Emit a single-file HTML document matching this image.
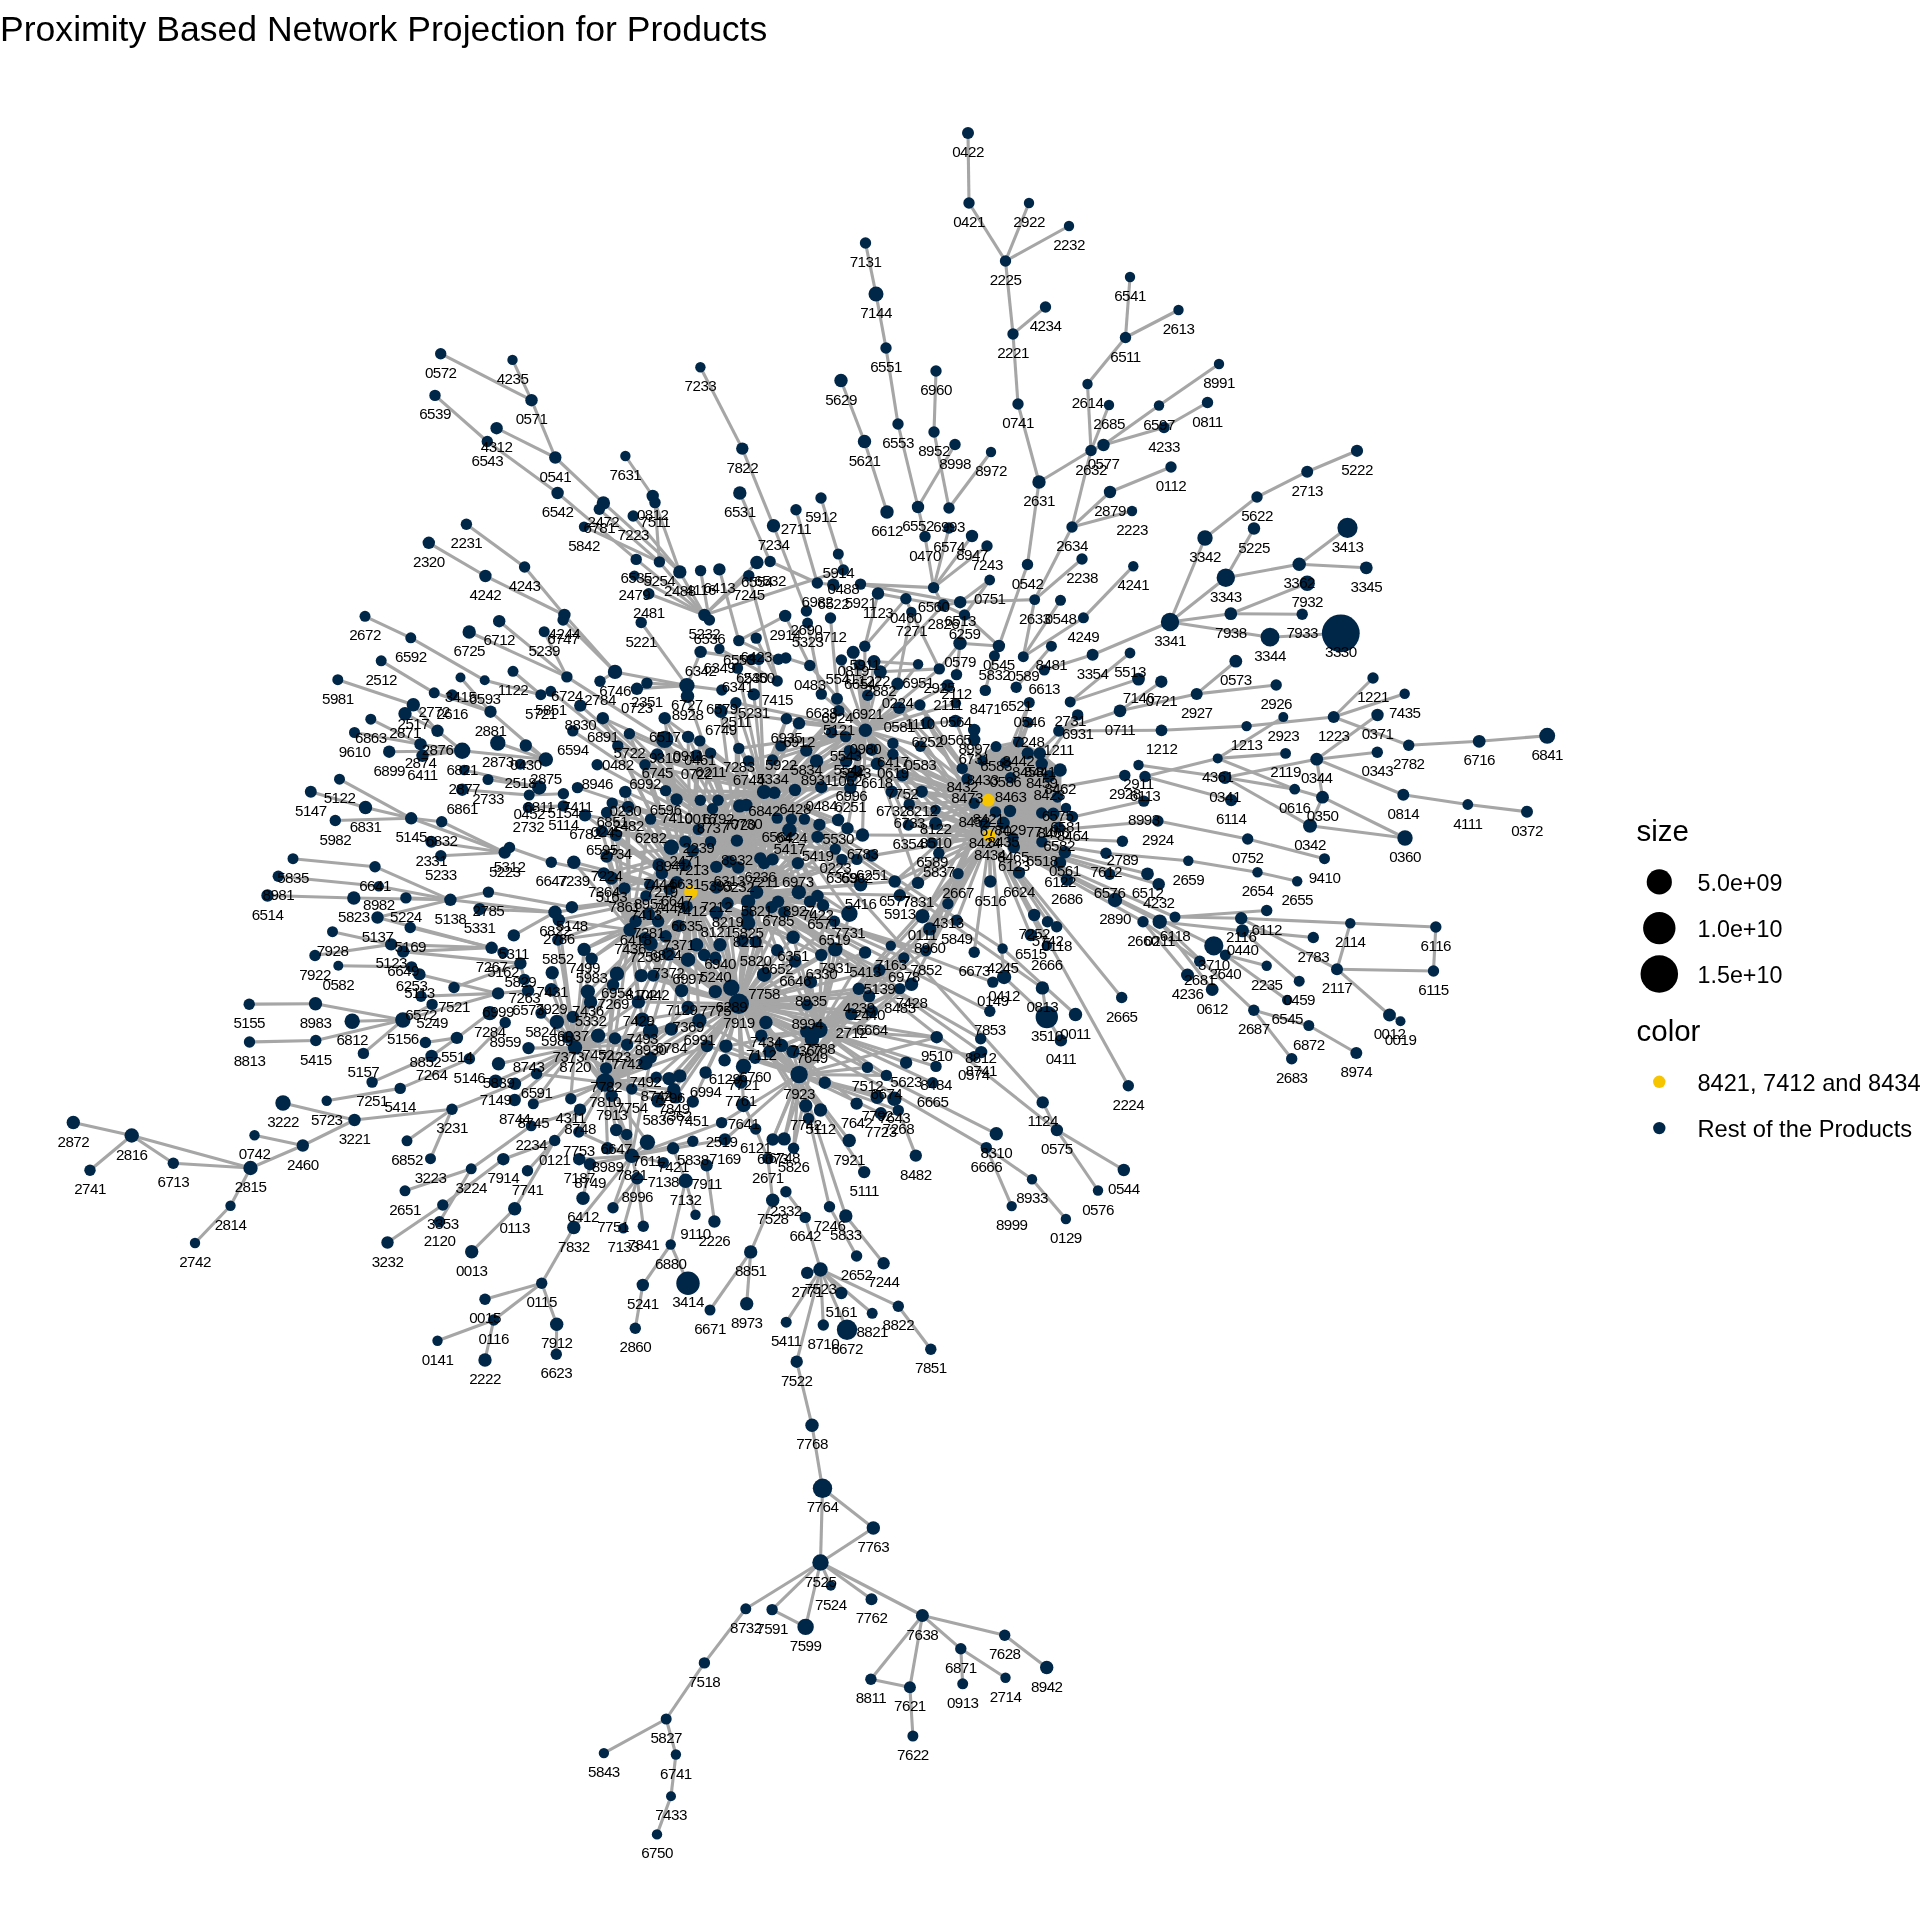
<!DOCTYPE html>
<html><head><meta charset="utf-8"><style>
html,body{margin:0;padding:0;background:#fff;}
body{width:1920px;height:1920px;overflow:hidden;position:relative;font-family:"Liberation Sans",sans-serif;}
svg{position:absolute;left:0;top:0;will-change:transform;}
</style></head><body>
<svg width="1920" height="1920" viewBox="0 0 1920 1920" xmlns="http://www.w3.org/2000/svg" font-family="Liberation Sans, sans-serif">
<rect width="1920" height="1920" fill="#fff"/>
<text x="0" y="40.6" font-size="35.6" fill="#000">Proximity Based Network Projection for Products</text>
<g stroke="#a6a6a6" stroke-width="3.1" stroke-linecap="butt">
<line x1="968.0" y1="133.0" x2="969.0" y2="203.0"/>
<line x1="969.0" y1="203.0" x2="1005.5" y2="261.0"/>
<line x1="1029.0" y1="203.0" x2="1005.5" y2="261.0"/>
<line x1="1069.0" y1="226.0" x2="1005.5" y2="261.0"/>
<line x1="1005.5" y1="261.0" x2="1013.0" y2="334.0"/>
<line x1="1013.0" y1="334.0" x2="1045.5" y2="307.0"/>
<line x1="1013.0" y1="334.0" x2="1018.0" y2="404.0"/>
<line x1="1018.0" y1="404.0" x2="1039.0" y2="482.0"/>
<line x1="865.5" y1="243.0" x2="876.0" y2="294.0"/>
<line x1="876.0" y1="294.0" x2="886.0" y2="348.0"/>
<line x1="886.0" y1="348.0" x2="898.0" y2="424.0"/>
<line x1="898.0" y1="424.0" x2="918.0" y2="507.0"/>
<line x1="936.0" y1="371.0" x2="934.0" y2="432.0"/>
<line x1="934.0" y1="432.0" x2="949.0" y2="508.0"/>
<line x1="955.0" y1="444.5" x2="918.0" y2="507.0"/>
<line x1="991.0" y1="452.0" x2="949.0" y2="508.0"/>
<line x1="841.0" y1="380.5" x2="864.5" y2="441.5"/>
<line x1="864.5" y1="441.5" x2="887.0" y2="512.0"/>
<line x1="1130.0" y1="277.0" x2="1125.5" y2="337.5"/>
<line x1="1178.5" y1="310.0" x2="1125.5" y2="337.5"/>
<line x1="1125.5" y1="337.5" x2="1087.5" y2="384.0"/>
<line x1="1087.5" y1="384.0" x2="1091.0" y2="450.5"/>
<line x1="1109.0" y1="405.0" x2="1091.0" y2="450.5"/>
<line x1="1219.0" y1="364.0" x2="1159.0" y2="405.5"/>
<line x1="1159.0" y1="405.5" x2="1103.5" y2="445.0"/>
<line x1="1207.5" y1="402.5" x2="1164.0" y2="427.5"/>
<line x1="1164.0" y1="427.5" x2="1103.5" y2="445.0"/>
<line x1="1103.5" y1="445.0" x2="1091.0" y2="450.5"/>
<line x1="1091.0" y1="450.5" x2="1039.0" y2="482.0"/>
<line x1="1091.0" y1="450.5" x2="1072.0" y2="527.0"/>
<line x1="1171.0" y1="467.0" x2="1110.0" y2="492.0"/>
<line x1="1110.0" y1="492.0" x2="1072.0" y2="527.0"/>
<line x1="1132.0" y1="511.0" x2="1072.0" y2="527.0"/>
<line x1="1039.0" y1="482.0" x2="1027.5" y2="564.5"/>
<line x1="1257.0" y1="497.0" x2="1205.0" y2="538.0"/>
<line x1="821.0" y1="498.0" x2="838.3" y2="554.0"/>
<line x1="918.0" y1="507.0" x2="925.0" y2="536.5"/>
<line x1="440.7" y1="353.7" x2="531.5" y2="400.2"/>
<line x1="512.5" y1="359.9" x2="531.5" y2="400.2"/>
<line x1="531.5" y1="400.2" x2="555.3" y2="457.5"/>
<line x1="435.0" y1="395.4" x2="487.3" y2="441.5"/>
<line x1="487.3" y1="441.5" x2="557.6" y2="493.0"/>
<line x1="496.6" y1="428.2" x2="555.3" y2="457.5"/>
<line x1="555.3" y1="457.5" x2="603.4" y2="502.9"/>
<line x1="625.4" y1="456.0" x2="652.7" y2="496.0"/>
<line x1="652.7" y1="496.0" x2="655.0" y2="502.6"/>
<line x1="700.4" y1="367.2" x2="742.3" y2="448.6"/>
<line x1="742.3" y1="448.6" x2="773.5" y2="525.8"/>
<line x1="466.4" y1="524.2" x2="524.6" y2="567.0"/>
<line x1="428.8" y1="542.8" x2="485.4" y2="576.0"/>
<line x1="1357.0" y1="450.8" x2="1307.2" y2="471.7"/>
<line x1="1307.2" y1="471.7" x2="1257.0" y2="497.0"/>
<line x1="1205.0" y1="538.0" x2="1170.0" y2="622.0"/>
<line x1="1254.0" y1="528.5" x2="1225.8" y2="577.8"/>
<line x1="1225.8" y1="577.8" x2="1170.0" y2="622.0"/>
<line x1="1225.8" y1="577.8" x2="1299.2" y2="564.2"/>
<line x1="1299.2" y1="564.2" x2="1347.5" y2="527.8"/>
<line x1="1299.2" y1="564.2" x2="1366.3" y2="567.8"/>
<line x1="1170.0" y1="622.0" x2="1230.8" y2="613.7"/>
<line x1="1230.8" y1="613.7" x2="1307.2" y2="583.3"/>
<line x1="1230.8" y1="613.7" x2="1302.2" y2="614.2"/>
<line x1="1170.0" y1="622.0" x2="1270.0" y2="637.2"/>
<line x1="1270.0" y1="637.2" x2="1340.8" y2="633.3"/>
<line x1="1235.8" y1="661.2" x2="1196.7" y2="693.9"/>
<line x1="1196.7" y1="693.9" x2="1276.2" y2="685.0"/>
<line x1="1373.0" y1="678.0" x2="1333.7" y2="717.0"/>
<line x1="1404.7" y1="693.7" x2="1333.7" y2="717.0"/>
<line x1="1161.5" y1="730.3" x2="1246.6" y2="726.1"/>
<line x1="1246.6" y1="726.1" x2="1333.7" y2="717.0"/>
<line x1="1333.7" y1="717.0" x2="1408.7" y2="745.3"/>
<line x1="1408.7" y1="745.3" x2="1479.2" y2="741.3"/>
<line x1="1479.2" y1="741.3" x2="1547.2" y2="735.8"/>
<line x1="1377.5" y1="715.0" x2="1316.7" y2="759.2"/>
<line x1="1316.7" y1="759.2" x2="1377.3" y2="752.2"/>
<line x1="1316.7" y1="759.2" x2="1322.5" y2="797.2"/>
<line x1="1316.7" y1="759.2" x2="1403.3" y2="794.7"/>
<line x1="1403.3" y1="794.7" x2="1467.8" y2="804.5"/>
<line x1="1467.8" y1="804.5" x2="1527.0" y2="811.7"/>
<line x1="1294.7" y1="789.2" x2="1322.5" y2="797.2"/>
<line x1="1322.5" y1="797.2" x2="1310.0" y2="825.8"/>
<line x1="1322.5" y1="797.2" x2="1405.0" y2="838.0"/>
<line x1="1310.0" y1="825.8" x2="1405.0" y2="838.0"/>
<line x1="1350.3" y1="923.3" x2="1435.8" y2="927.0"/>
<line x1="1435.8" y1="927.0" x2="1433.5" y2="971.0"/>
<line x1="1337.0" y1="969.2" x2="1433.5" y2="971.0"/>
<line x1="1350.3" y1="923.3" x2="1337.0" y2="969.2"/>
<line x1="1120.0" y1="710.8" x2="1161.3" y2="681.7"/>
<line x1="1120.0" y1="710.8" x2="1196.7" y2="693.9"/>
<line x1="1283.3" y1="717.1" x2="1217.7" y2="758.4"/>
<line x1="1217.7" y1="758.4" x2="1285.6" y2="753.4"/>
<line x1="1217.7" y1="758.4" x2="1294.7" y2="789.2"/>
<line x1="1217.7" y1="758.4" x2="1145.0" y2="776.5"/>
<line x1="1225.0" y1="777.5" x2="1316.7" y2="759.2"/>
<line x1="1225.0" y1="777.5" x2="1294.7" y2="789.2"/>
<line x1="1225.0" y1="777.5" x2="1310.0" y2="825.8"/>
<line x1="1138.5" y1="765.0" x2="1225.0" y2="777.5"/>
<line x1="1145.0" y1="776.5" x2="1231.2" y2="800.1"/>
<line x1="1157.9" y1="821.0" x2="1247.7" y2="839.0"/>
<line x1="1188.3" y1="860.8" x2="1257.5" y2="872.2"/>
<line x1="1257.5" y1="872.2" x2="1297.2" y2="881.2"/>
<line x1="1175.0" y1="917.0" x2="1266.7" y2="910.5"/>
<line x1="1241.2" y1="918.3" x2="1350.3" y2="923.3"/>
<line x1="1175.0" y1="917.0" x2="1241.2" y2="918.3"/>
<line x1="1159.7" y1="921.7" x2="1242.5" y2="930.8"/>
<line x1="1242.5" y1="930.8" x2="1313.3" y2="937.5"/>
<line x1="1241.2" y1="918.3" x2="1337.0" y2="969.2"/>
<line x1="1242.5" y1="930.8" x2="1299.2" y2="981.2"/>
<line x1="1225.3" y1="955.0" x2="1266.7" y2="965.8"/>
<line x1="1225.3" y1="955.0" x2="1287.2" y2="1000.0"/>
<line x1="1143.0" y1="921.7" x2="1187.5" y2="975.0"/>
<line x1="1159.7" y1="921.7" x2="1253.8" y2="1010.3"/>
<line x1="1253.8" y1="1010.3" x2="1308.8" y2="1025.5"/>
<line x1="1308.8" y1="1025.5" x2="1356.3" y2="1053.0"/>
<line x1="1253.8" y1="1010.3" x2="1291.7" y2="1058.7"/>
<line x1="1337.0" y1="969.2" x2="1389.5" y2="1015.0"/>
<line x1="1247.7" y1="839.0" x2="1324.5" y2="858.7"/>
<line x1="1027.5" y1="564.5" x2="998.9" y2="646.0"/>
<line x1="1082.0" y1="559.0" x2="1034.7" y2="599.6"/>
<line x1="1072.0" y1="527.0" x2="1034.7" y2="599.6"/>
<line x1="1034.7" y1="599.6" x2="1023.3" y2="656.7"/>
<line x1="1060.5" y1="600.3" x2="1023.3" y2="656.7"/>
<line x1="1083.4" y1="617.8" x2="1023.3" y2="656.7"/>
<line x1="1133.3" y1="566.2" x2="1083.4" y2="617.8"/>
<line x1="1092.6" y1="654.8" x2="1170.0" y2="622.0"/>
<line x1="1092.6" y1="654.8" x2="1044.2" y2="670.1"/>
<line x1="1130.0" y1="653.0" x2="1070.2" y2="701.9"/>
<line x1="1138.5" y1="679.1" x2="1070.2" y2="701.9"/>
<line x1="1161.5" y1="730.3" x2="1058.8" y2="731.0"/>
<line x1="1120.0" y1="710.8" x2="1058.8" y2="731.0"/>
<line x1="1051.4" y1="646.2" x2="1016.2" y2="687.3"/>
<line x1="838.3" y1="554.0" x2="843.3" y2="570.0"/>
<line x1="933.6" y1="587.6" x2="925.0" y2="536.5"/>
<line x1="933.6" y1="587.6" x2="949.0" y2="528.0"/>
<line x1="933.6" y1="587.6" x2="972.0" y2="536.0"/>
<line x1="933.6" y1="587.6" x2="987.0" y2="546.0"/>
<line x1="860.5" y1="584.1" x2="933.6" y2="587.6"/>
<line x1="878.0" y1="593.5" x2="905.9" y2="598.7"/>
<line x1="905.9" y1="598.7" x2="943.3" y2="605.3"/>
<line x1="943.3" y1="605.3" x2="960.2" y2="602.2"/>
<line x1="960.2" y1="602.2" x2="989.7" y2="580.0"/>
<line x1="770.1" y1="561.5" x2="817.3" y2="583.0"/>
<line x1="817.3" y1="583.0" x2="833.3" y2="584.7"/>
<line x1="365.0" y1="616.3" x2="410.8" y2="637.8"/>
<line x1="410.8" y1="637.8" x2="484.7" y2="680.3"/>
<line x1="381.2" y1="660.8" x2="434.2" y2="692.8"/>
<line x1="434.2" y1="692.8" x2="490.5" y2="711.7"/>
<line x1="337.8" y1="679.7" x2="413.3" y2="704.7"/>
<line x1="413.3" y1="704.7" x2="437.5" y2="730.8"/>
<line x1="437.5" y1="730.8" x2="462.2" y2="750.8"/>
<line x1="370.8" y1="719.2" x2="420.5" y2="744.2"/>
<line x1="420.5" y1="744.2" x2="462.2" y2="750.8"/>
<line x1="354.5" y1="732.5" x2="420.5" y2="744.2"/>
<line x1="389.2" y1="751.7" x2="462.2" y2="750.8"/>
<line x1="422.5" y1="755.8" x2="462.2" y2="750.8"/>
<line x1="339.5" y1="779.2" x2="411.2" y2="818.3"/>
<line x1="310.8" y1="791.7" x2="365.5" y2="807.5"/>
<line x1="365.5" y1="807.5" x2="411.2" y2="818.3"/>
<line x1="335.3" y1="820.5" x2="411.2" y2="818.3"/>
<line x1="411.2" y1="818.3" x2="441.7" y2="821.7"/>
<line x1="441.7" y1="821.7" x2="504.7" y2="852.5"/>
<line x1="411.2" y1="818.3" x2="504.7" y2="852.5"/>
<line x1="431.3" y1="841.7" x2="504.7" y2="852.5"/>
<line x1="293.0" y1="858.7" x2="375.0" y2="866.7"/>
<line x1="464.2" y1="770.0" x2="539.2" y2="787.5"/>
<line x1="460.5" y1="677.5" x2="490.5" y2="711.7"/>
<line x1="469.2" y1="632.0" x2="566.9" y2="676.9"/>
<line x1="513.0" y1="671.3" x2="540.8" y2="694.7"/>
<line x1="525.8" y1="745.5" x2="545.8" y2="759.5"/>
<line x1="490.5" y1="711.7" x2="545.8" y2="759.5"/>
<line x1="497.8" y1="743.0" x2="545.8" y2="759.5"/>
<line x1="462.2" y1="750.8" x2="545.8" y2="759.5"/>
<line x1="520.3" y1="764.2" x2="545.8" y2="759.5"/>
<line x1="267.5" y1="895.5" x2="353.8" y2="898.0"/>
<line x1="249.2" y1="1004.2" x2="315.5" y2="1003.8"/>
<line x1="249.5" y1="1042.0" x2="315.8" y2="1040.5"/>
<line x1="283.0" y1="1103.0" x2="354.5" y2="1120.0"/>
<line x1="73.3" y1="1122.5" x2="131.7" y2="1135.5"/>
<line x1="254.5" y1="1135.3" x2="302.8" y2="1145.5"/>
<line x1="302.8" y1="1145.5" x2="354.5" y2="1120.0"/>
<line x1="375.0" y1="866.7" x2="450.4" y2="899.8"/>
<line x1="378.8" y1="886.2" x2="450.4" y2="899.8"/>
<line x1="353.8" y1="898.0" x2="450.4" y2="899.8"/>
<line x1="405.9" y1="897.9" x2="450.4" y2="899.8"/>
<line x1="377.5" y1="917.5" x2="450.4" y2="899.8"/>
<line x1="450.4" y1="899.8" x2="488.4" y2="892.1"/>
<line x1="488.4" y1="892.1" x2="571.9" y2="907.2"/>
<line x1="450.4" y1="899.8" x2="555.0" y2="912.2"/>
<line x1="479.6" y1="909.1" x2="555.0" y2="912.2"/>
<line x1="410.2" y1="927.5" x2="491.6" y2="947.8"/>
<line x1="377.5" y1="917.5" x2="491.6" y2="947.8"/>
<line x1="391.2" y1="944.4" x2="491.6" y2="947.8"/>
<line x1="403.1" y1="951.6" x2="491.6" y2="947.8"/>
<line x1="338.3" y1="965.8" x2="411.6" y2="966.9"/>
<line x1="403.1" y1="951.6" x2="520.4" y2="963.4"/>
<line x1="419.4" y1="974.4" x2="498.1" y2="993.4"/>
<line x1="454.0" y1="987.5" x2="520.4" y2="963.4"/>
<line x1="352.2" y1="1021.3" x2="402.9" y2="1020.0"/>
<line x1="315.5" y1="1003.8" x2="402.9" y2="1020.0"/>
<line x1="315.8" y1="1040.5" x2="402.9" y2="1020.0"/>
<line x1="363.4" y1="1053.4" x2="402.9" y2="1020.0"/>
<line x1="402.9" y1="1020.0" x2="498.1" y2="993.4"/>
<line x1="402.9" y1="1020.0" x2="432.1" y2="1004.4"/>
<line x1="425.4" y1="1042.5" x2="456.9" y2="1037.9"/>
<line x1="456.9" y1="1037.9" x2="489.8" y2="1013.1"/>
<line x1="431.6" y1="1056.0" x2="456.9" y2="1037.9"/>
<line x1="469.4" y1="1058.8" x2="505.2" y2="1022.5"/>
<line x1="498.5" y1="1063.8" x2="575.0" y2="1047.5"/>
<line x1="515.0" y1="1083.8" x2="575.0" y2="1047.5"/>
<line x1="536.6" y1="1073.8" x2="575.0" y2="1047.5"/>
<line x1="528.5" y1="1048.1" x2="575.0" y2="1047.5"/>
<line x1="513.8" y1="935.4" x2="555.0" y2="912.2"/>
<line x1="131.7" y1="1135.5" x2="90.0" y2="1170.3"/>
<line x1="131.7" y1="1135.5" x2="173.3" y2="1163.3"/>
<line x1="131.7" y1="1135.5" x2="250.5" y2="1168.0"/>
<line x1="173.3" y1="1163.3" x2="250.5" y2="1168.0"/>
<line x1="250.5" y1="1168.0" x2="302.8" y2="1145.5"/>
<line x1="250.5" y1="1168.0" x2="230.5" y2="1205.8"/>
<line x1="230.5" y1="1205.8" x2="195.0" y2="1243.0"/>
<line x1="354.5" y1="1120.0" x2="452.0" y2="1109.2"/>
<line x1="452.0" y1="1109.2" x2="515.0" y2="1083.8"/>
<line x1="452.0" y1="1109.2" x2="407.0" y2="1140.8"/>
<line x1="452.0" y1="1109.2" x2="430.5" y2="1158.7"/>
<line x1="405.0" y1="1190.8" x2="471.2" y2="1168.8"/>
<line x1="471.2" y1="1168.8" x2="531.2" y2="1125.8"/>
<line x1="471.2" y1="1168.8" x2="439.5" y2="1221.7"/>
<line x1="387.5" y1="1242.5" x2="442.8" y2="1205.0"/>
<line x1="442.8" y1="1205.0" x2="503.3" y2="1159.2"/>
<line x1="503.3" y1="1159.2" x2="554.7" y2="1140.5"/>
<line x1="471.7" y1="1251.7" x2="514.7" y2="1208.7"/>
<line x1="514.7" y1="1208.7" x2="554.7" y2="1140.5"/>
<line x1="541.7" y1="1283.3" x2="573.8" y2="1227.5"/>
<line x1="541.7" y1="1283.3" x2="485.0" y2="1299.2"/>
<line x1="541.7" y1="1283.3" x2="493.7" y2="1320.0"/>
<line x1="493.7" y1="1320.0" x2="437.5" y2="1340.8"/>
<line x1="493.7" y1="1320.0" x2="485.0" y2="1360.0"/>
<line x1="541.7" y1="1283.3" x2="556.7" y2="1324.2"/>
<line x1="556.7" y1="1324.2" x2="556.3" y2="1354.2"/>
<line x1="642.8" y1="1285.0" x2="635.3" y2="1328.3"/>
<line x1="573.8" y1="1227.5" x2="631.7" y2="1155.8"/>
<line x1="583.0" y1="1198.3" x2="590.0" y2="1164.2"/>
<line x1="613.0" y1="1207.8" x2="631.7" y2="1155.8"/>
<line x1="643.3" y1="1226.3" x2="637.2" y2="1178.3"/>
<line x1="623.3" y1="1228.3" x2="637.2" y2="1178.3"/>
<line x1="637.2" y1="1178.3" x2="631.7" y2="1155.8"/>
<line x1="554.7" y1="1140.5" x2="580.0" y2="1109.7"/>
<line x1="527.5" y1="1170.8" x2="554.7" y2="1140.5"/>
<line x1="514.7" y1="1100.0" x2="575.0" y2="1047.5"/>
<line x1="533.3" y1="1103.8" x2="575.0" y2="1047.5"/>
<line x1="570.8" y1="1098.7" x2="575.0" y2="1047.5"/>
<line x1="531.2" y1="1125.8" x2="580.0" y2="1109.7"/>
<line x1="578.8" y1="1132.0" x2="631.7" y2="1155.8"/>
<line x1="579.2" y1="1159.2" x2="631.7" y2="1155.8"/>
<line x1="590.0" y1="1164.2" x2="631.7" y2="1155.8"/>
<line x1="898.3" y1="1306.2" x2="930.8" y2="1349.2"/>
<line x1="796.7" y1="1361.7" x2="812.0" y2="1425.3"/>
<line x1="812.0" y1="1425.3" x2="822.5" y2="1488.3"/>
<line x1="822.5" y1="1488.3" x2="873.3" y2="1528.0"/>
<line x1="822.5" y1="1488.3" x2="820.5" y2="1562.5"/>
<line x1="873.3" y1="1528.0" x2="820.5" y2="1562.5"/>
<line x1="820.5" y1="1562.5" x2="745.8" y2="1608.8"/>
<line x1="820.5" y1="1562.5" x2="772.1" y2="1609.6"/>
<line x1="820.5" y1="1562.5" x2="805.6" y2="1626.9"/>
<line x1="772.1" y1="1609.6" x2="805.6" y2="1626.9"/>
<line x1="820.5" y1="1562.5" x2="830.8" y2="1585.7"/>
<line x1="820.5" y1="1562.5" x2="871.5" y2="1599.3"/>
<line x1="820.5" y1="1562.5" x2="922.4" y2="1615.5"/>
<line x1="922.4" y1="1615.5" x2="1004.7" y2="1635.3"/>
<line x1="1004.7" y1="1635.3" x2="1046.7" y2="1667.5"/>
<line x1="922.4" y1="1615.5" x2="960.8" y2="1648.8"/>
<line x1="960.8" y1="1648.8" x2="1005.5" y2="1677.8"/>
<line x1="960.8" y1="1648.8" x2="962.7" y2="1683.8"/>
<line x1="922.4" y1="1615.5" x2="870.9" y2="1679.2"/>
<line x1="922.4" y1="1615.5" x2="909.9" y2="1687.3"/>
<line x1="870.9" y1="1679.2" x2="909.9" y2="1687.3"/>
<line x1="909.9" y1="1687.3" x2="912.9" y2="1736.0"/>
<line x1="745.8" y1="1608.8" x2="704.4" y2="1662.9"/>
<line x1="704.4" y1="1662.9" x2="666.2" y2="1719.0"/>
<line x1="666.2" y1="1719.0" x2="603.9" y2="1753.1"/>
<line x1="666.2" y1="1719.0" x2="675.9" y2="1754.5"/>
<line x1="675.9" y1="1754.5" x2="671.0" y2="1796.2"/>
<line x1="671.0" y1="1796.2" x2="657.0" y2="1834.4"/>
<line x1="670.7" y1="1244.5" x2="688.0" y2="1283.3"/>
<line x1="670.7" y1="1244.5" x2="642.8" y2="1285.0"/>
<line x1="670.7" y1="1244.5" x2="685.6" y2="1180.8"/>
<line x1="685.6" y1="1180.8" x2="695.5" y2="1214.7"/>
<line x1="685.6" y1="1180.8" x2="673.1" y2="1148.3"/>
<line x1="714.4" y1="1221.5" x2="706.6" y2="1165.3"/>
<line x1="613.0" y1="1207.8" x2="637.2" y2="1178.3"/>
<line x1="750.7" y1="1251.9" x2="772.7" y2="1200.2"/>
<line x1="750.7" y1="1251.9" x2="746.7" y2="1303.8"/>
<line x1="750.7" y1="1251.9" x2="710.0" y2="1310.0"/>
<line x1="772.7" y1="1200.2" x2="767.9" y2="1158.5"/>
<line x1="767.9" y1="1158.5" x2="755.7" y2="1129.0"/>
<line x1="755.7" y1="1129.0" x2="743.5" y2="1105.0"/>
<line x1="820.5" y1="1269.5" x2="805.2" y2="1217.4"/>
<line x1="805.2" y1="1217.4" x2="785.9" y2="1191.7"/>
<line x1="820.5" y1="1269.5" x2="796.7" y2="1361.7"/>
<line x1="820.5" y1="1269.5" x2="786.2" y2="1322.2"/>
<line x1="820.5" y1="1269.5" x2="823.3" y2="1325.0"/>
<line x1="820.5" y1="1269.5" x2="847.0" y2="1329.7"/>
<line x1="820.5" y1="1269.5" x2="872.2" y2="1313.3"/>
<line x1="820.5" y1="1269.5" x2="898.3" y2="1306.2"/>
<line x1="820.5" y1="1269.5" x2="807.2" y2="1272.9"/>
<line x1="820.5" y1="1269.5" x2="841.3" y2="1293.0"/>
<line x1="1002.6" y1="948.5" x2="1075.5" y2="1014.5"/>
<line x1="1042.7" y1="1102.4" x2="1056.9" y2="1130.1"/>
<line x1="1042.4" y1="987.9" x2="1046.8" y2="1017.1"/>
<line x1="1056.9" y1="1130.1" x2="1123.8" y2="1170.0"/>
<line x1="1056.9" y1="1130.1" x2="1098.0" y2="1190.5"/>
<line x1="986.3" y1="1147.6" x2="1032.0" y2="1179.2"/>
<line x1="1032.0" y1="1179.2" x2="1065.9" y2="1219.0"/>
<line x1="986.3" y1="1147.6" x2="1011.7" y2="1206.1"/>
<line x1="898.3" y1="1110.4" x2="915.8" y2="1155.6"/>
<line x1="960.2" y1="602.2" x2="1034.7" y2="599.6"/>
<line x1="278.3" y1="876.3" x2="378.8" y2="886.2"/>
<line x1="739.8" y1="493.0" x2="770.1" y2="561.5"/>
<line x1="796.0" y1="509.8" x2="817.3" y2="583.0"/>
<line x1="599.3" y1="509.3" x2="659.4" y2="561.9"/>
<line x1="603.4" y1="502.9" x2="679.8" y2="571.9"/>
<line x1="557.6" y1="493.0" x2="636.2" y2="559.4"/>
<line x1="633.2" y1="516.0" x2="679.8" y2="571.9"/>
<line x1="655.0" y1="502.6" x2="659.4" y2="561.9"/>
<line x1="652.7" y1="496.0" x2="679.8" y2="571.9"/>
<line x1="584.0" y1="526.7" x2="659.4" y2="561.9"/>
<line x1="773.5" y1="525.8" x2="806.4" y2="611.0"/>
<line x1="636.2" y1="559.4" x2="704.4" y2="615.0"/>
<line x1="659.4" y1="561.9" x2="704.4" y2="615.0"/>
<line x1="679.8" y1="571.9" x2="704.4" y2="615.0"/>
<line x1="634.4" y1="575.6" x2="704.4" y2="615.0"/>
<line x1="700.6" y1="570.6" x2="709.4" y2="620.0"/>
<line x1="719.4" y1="569.4" x2="738.8" y2="640.6"/>
<line x1="756.9" y1="562.5" x2="704.4" y2="615.0"/>
<line x1="748.8" y1="575.6" x2="704.4" y2="615.0"/>
<line x1="648.8" y1="593.8" x2="704.4" y2="615.0"/>
<line x1="641.2" y1="622.5" x2="686.9" y2="685.6"/>
<line x1="615.0" y1="671.9" x2="686.9" y2="685.6"/>
<line x1="564.4" y1="615.0" x2="615.0" y2="671.9"/>
<line x1="563.1" y1="620.0" x2="615.0" y2="671.9"/>
<line x1="646.9" y1="683.1" x2="686.9" y2="685.6"/>
<line x1="636.9" y1="688.8" x2="686.9" y2="685.6"/>
<line x1="600.0" y1="681.2" x2="615.0" y2="671.9"/>
<line x1="499.2" y1="621.2" x2="566.9" y2="676.9"/>
<line x1="544.2" y1="631.7" x2="566.9" y2="676.9"/>
<line x1="452.2" y1="695.0" x2="490.5" y2="711.7"/>
<line x1="405.0" y1="713.7" x2="437.5" y2="730.8"/>
<line x1="488.0" y1="779.5" x2="539.2" y2="787.5"/>
<line x1="462.2" y1="789.7" x2="529.2" y2="795.0"/>
<line x1="529.2" y1="795.0" x2="563.4" y2="793.8"/>
<line x1="528.3" y1="807.5" x2="563.4" y2="805.9"/>
<line x1="440.8" y1="855.8" x2="504.7" y2="852.5"/>
<line x1="509.5" y1="847.5" x2="551.3" y2="862.2"/>
<line x1="1124.8" y1="775.4" x2="988.2" y2="800.2"/>
<line x1="1143.8" y1="801.1" x2="989.8" y2="835.6"/>
<line x1="1122.4" y1="841.2" x2="989.8" y2="835.6"/>
<line x1="1147.5" y1="873.8" x2="989.8" y2="835.6"/>
<line x1="1158.7" y1="884.2" x2="989.8" y2="835.6"/>
<line x1="1106.0" y1="853.3" x2="989.8" y2="835.6"/>
<line x1="1109.6" y1="874.2" x2="989.8" y2="835.6"/>
<line x1="1115.0" y1="900.0" x2="989.8" y2="835.6"/>
<line x1="1213.8" y1="945.8" x2="989.8" y2="835.6"/>
<line x1="1199.7" y1="961.2" x2="1143.0" y2="921.7"/>
<line x1="1212.2" y1="989.5" x2="1159.7" y2="921.7"/>
<line x1="1121.7" y1="997.5" x2="989.8" y2="835.6"/>
<line x1="1128.3" y1="1085.8" x2="989.8" y2="835.6"/>
<line x1="1389.5" y1="1015.0" x2="1400.5" y2="1021.2"/>
<line x1="911.3" y1="612.0" x2="905.9" y2="598.7"/>
<line x1="964.5" y1="615.0" x2="943.3" y2="605.3"/>
<line x1="503.1" y1="952.5" x2="491.6" y2="947.8"/>
<line x1="524.4" y1="979.4" x2="520.4" y2="963.4"/>
<line x1="528.1" y1="990.6" x2="498.1" y2="993.4"/>
<line x1="421.0" y1="996.2" x2="498.1" y2="993.4"/>
<line x1="495.6" y1="1081.2" x2="575.0" y2="1047.5"/>
<line x1="829.5" y1="1206.8" x2="799.1" y2="1074.5"/>
<line x1="845.8" y1="1216.0" x2="799.1" y2="1074.5"/>
<line x1="1143.0" y1="921.7" x2="989.8" y2="835.6"/>
<line x1="1159.7" y1="921.7" x2="989.8" y2="835.6"/>
<line x1="1175.0" y1="917.0" x2="989.8" y2="835.6"/>
<line x1="332.5" y1="931.7" x2="391.2" y2="944.4"/>
<line x1="315.0" y1="955.5" x2="391.2" y2="944.4"/>
<line x1="326.7" y1="1100.8" x2="400.2" y2="1088.4"/>
<line x1="400.2" y1="1088.4" x2="469.4" y2="1058.8"/>
<line x1="372.1" y1="1082.1" x2="431.6" y2="1056.0"/>
<line x1="524.6" y1="567.0" x2="564.4" y2="615.0"/>
<line x1="485.4" y1="576.0" x2="564.4" y2="615.0"/>
<line x1="484.7" y1="680.3" x2="540.8" y2="694.7"/>
<line x1="566.9" y1="676.9" x2="664.7" y2="739.4"/>
<line x1="704.4" y1="615.0" x2="843.3" y2="570.0"/>
<line x1="785.2" y1="615.9" x2="738.8" y2="640.6"/>
<line x1="785.2" y1="615.9" x2="809.8" y2="665.5"/>
<line x1="738.8" y1="640.6" x2="778.3" y2="659.2"/>
<line x1="756.2" y1="638.1" x2="777.2" y2="681.0"/>
<line x1="700.6" y1="651.9" x2="751.9" y2="659.4"/>
<line x1="700.6" y1="651.9" x2="686.9" y2="685.6"/>
<line x1="719.4" y1="648.8" x2="777.2" y2="681.0"/>
<line x1="785.8" y1="658.0" x2="809.8" y2="665.5"/>
<line x1="807.6" y1="623.1" x2="821.3" y2="694.1"/>
<line x1="830.5" y1="618.0" x2="838.8" y2="710.7"/>
<line x1="686.9" y1="685.6" x2="721.9" y2="690.0"/>
<line x1="748.8" y1="575.6" x2="777.2" y2="681.0"/>
<line x1="860.5" y1="584.1" x2="960.2" y2="602.2"/>
<line x1="933.6" y1="587.6" x2="943.3" y2="605.3"/>
<line x1="905.9" y1="598.7" x2="864.8" y2="646.3"/>
<line x1="878.0" y1="593.5" x2="864.8" y2="646.3"/>
<line x1="943.3" y1="605.3" x2="880.3" y2="671.8"/>
<line x1="911.3" y1="612.0" x2="897.5" y2="683.8"/>
<line x1="911.3" y1="612.0" x2="939.3" y2="668.9"/>
<line x1="960.0" y1="643.3" x2="998.9" y2="646.0"/>
<line x1="964.5" y1="615.0" x2="960.0" y2="643.3"/>
<line x1="989.7" y1="580.0" x2="964.5" y2="615.0"/>
<line x1="964.5" y1="615.0" x2="998.9" y2="646.0"/>
<line x1="880.3" y1="671.8" x2="939.3" y2="668.9"/>
<line x1="939.3" y1="668.9" x2="960.0" y2="643.3"/>
<line x1="874.0" y1="661.5" x2="918.1" y2="664.3"/>
<line x1="956.5" y1="674.6" x2="960.0" y2="643.3"/>
<line x1="985.3" y1="690.4" x2="994.4" y2="655.8"/>
<line x1="1188.3" y1="860.8" x2="1106.0" y2="853.3"/>
<line x1="1157.9" y1="821.0" x2="989.8" y2="835.6"/>
<line x1="856.6" y1="1256.0" x2="829.5" y2="1206.8"/>
<line x1="883.6" y1="1263.3" x2="845.8" y2="1216.0"/>
<line x1="568.3" y1="1037.5" x2="575.0" y2="1047.5"/>
<line x1="1042.4" y1="987.9" x2="764.1" y2="791.9"/>
<line x1="1004.1" y1="977.0" x2="1046.8" y2="1017.1"/>
<line x1="1060.9" y1="1040.4" x2="1046.8" y2="1017.1"/>
<line x1="1002.6" y1="948.5" x2="764.1" y2="791.9"/>
<line x1="1004.1" y1="977.0" x2="988.2" y2="800.2"/>
<line x1="992.8" y1="982.1" x2="756.6" y2="892.2"/>
<line x1="989.8" y1="1011.3" x2="756.6" y2="892.2"/>
<line x1="980.7" y1="1038.7" x2="716.3" y2="887.5"/>
<line x1="981.2" y1="1052.1" x2="756.6" y2="892.2"/>
<line x1="973.9" y1="1056.2" x2="738.8" y2="1003.8"/>
<line x1="1042.7" y1="1102.4" x2="764.1" y2="791.9"/>
<line x1="1056.9" y1="1130.1" x2="756.6" y2="892.2"/>
<line x1="996.3" y1="1133.8" x2="738.8" y2="1003.8"/>
<line x1="986.3" y1="1147.6" x2="738.8" y2="1003.8"/>
<line x1="936.7" y1="1037.2" x2="738.8" y2="1003.8"/>
<line x1="936.0" y1="1066.4" x2="819.4" y2="1030.0"/>
<line x1="932.6" y1="1082.7" x2="819.4" y2="1030.0"/>
<line x1="906.1" y1="1062.7" x2="819.4" y2="1030.0"/>
<line x1="898.3" y1="1110.4" x2="799.1" y2="1074.5"/>
<line x1="880.8" y1="1113.3" x2="799.1" y2="1074.5"/>
<line x1="877.2" y1="1097.3" x2="799.1" y2="1074.5"/>
<line x1="894.4" y1="1098.8" x2="799.1" y2="1074.5"/>
<line x1="864.2" y1="1172.1" x2="799.1" y2="1074.5"/>
<line x1="849.2" y1="1140.5" x2="799.1" y2="1074.5"/>
<line x1="1046.8" y1="945.6" x2="989.8" y2="835.6"/>
<line x1="1030.8" y1="935.0" x2="989.8" y2="835.6"/>
<line x1="1034.2" y1="915.0" x2="989.8" y2="835.6"/>
<line x1="1047.5" y1="921.7" x2="989.8" y2="835.6"/>
<line x1="1056.7" y1="926.7" x2="989.8" y2="835.6"/>
<line x1="974.2" y1="952.2" x2="989.8" y2="835.6"/>
<line x1="926.0" y1="950.7" x2="716.3" y2="887.5"/>
<line x1="903.9" y1="958.0" x2="756.6" y2="892.2"/>
<line x1="911.5" y1="984.3" x2="716.3" y2="887.5"/>
<line x1="899.8" y1="988.6" x2="756.6" y2="892.2"/>
<line x1="879.4" y1="970.0" x2="738.8" y2="1003.8"/>
<line x1="858.8" y1="988.8" x2="738.8" y2="1003.8"/>
<line x1="869.1" y1="996.3" x2="738.8" y2="1003.8"/>
<line x1="851.3" y1="1014.1" x2="738.8" y2="1003.8"/>
<line x1="871.9" y1="1011.3" x2="738.8" y2="1003.8"/>
<line x1="929.7" y1="928.9" x2="989.8" y2="835.6"/>
<line x1="956.7" y1="920.1" x2="989.8" y2="835.6"/>
<line x1="947.9" y1="903.8" x2="989.8" y2="835.6"/>
<line x1="922.4" y1="916.2" x2="989.8" y2="835.6"/>
<line x1="899.8" y1="895.3" x2="989.8" y2="835.6"/>
<line x1="894.7" y1="881.5" x2="989.8" y2="835.6"/>
<line x1="918.0" y1="882.9" x2="989.8" y2="835.6"/>
<line x1="958.0" y1="873.6" x2="989.8" y2="835.6"/>
<line x1="990.3" y1="881.5" x2="989.8" y2="835.6"/>
<line x1="1019.0" y1="872.6" x2="989.8" y2="835.6"/>
<line x1="860.6" y1="884.7" x2="764.1" y2="791.9"/>
<line x1="849.4" y1="913.8" x2="764.1" y2="791.9"/>
<line x1="834.4" y1="921.3" x2="764.1" y2="791.9"/>
<line x1="890.8" y1="945.6" x2="756.6" y2="892.2"/>
<line x1="865.1" y1="952.5" x2="756.6" y2="892.2"/>
<line x1="580.3" y1="705.6" x2="736.9" y2="840.6"/>
<line x1="602.8" y1="718.2" x2="736.9" y2="840.6"/>
<line x1="664.7" y1="718.2" x2="736.9" y2="840.6"/>
<line x1="572.8" y1="730.9" x2="736.9" y2="840.6"/>
<line x1="629.4" y1="733.8" x2="736.9" y2="840.6"/>
<line x1="688.1" y1="736.9" x2="736.9" y2="840.6"/>
<line x1="699.8" y1="740.9" x2="736.9" y2="840.6"/>
<line x1="597.2" y1="764.7" x2="736.9" y2="840.6"/>
<line x1="617.8" y1="745.9" x2="736.9" y2="840.6"/>
<line x1="645.0" y1="764.7" x2="736.9" y2="840.6"/>
<line x1="657.2" y1="754.4" x2="736.9" y2="840.6"/>
<line x1="696.6" y1="755.3" x2="736.9" y2="840.6"/>
<line x1="577.5" y1="787.6" x2="736.9" y2="840.6"/>
<line x1="625.3" y1="791.9" x2="736.9" y2="840.6"/>
<line x1="612.2" y1="803.1" x2="736.9" y2="840.6"/>
<line x1="628.1" y1="806.9" x2="736.9" y2="840.6"/>
<line x1="665.6" y1="790.6" x2="736.9" y2="840.6"/>
<line x1="676.5" y1="799.4" x2="736.9" y2="840.6"/>
<line x1="585.0" y1="815.3" x2="736.9" y2="840.6"/>
<line x1="606.6" y1="812.5" x2="736.9" y2="840.6"/>
<line x1="650.6" y1="819.1" x2="736.9" y2="840.6"/>
<line x1="698.4" y1="829.4" x2="736.9" y2="840.6"/>
<line x1="671.3" y1="847.2" x2="736.9" y2="840.6"/>
<line x1="685.3" y1="841.6" x2="736.9" y2="840.6"/>
<line x1="601.9" y1="831.3" x2="736.9" y2="840.6"/>
<line x1="615.9" y1="835.0" x2="736.9" y2="840.6"/>
<line x1="606.6" y1="856.6" x2="736.9" y2="840.6"/>
<line x1="692.8" y1="850.9" x2="736.9" y2="840.6"/>
<line x1="687.5" y1="696.2" x2="736.9" y2="840.6"/>
<line x1="550.8" y1="691.3" x2="736.9" y2="840.6"/>
<line x1="720.9" y1="711.3" x2="764.1" y2="791.9"/>
<line x1="735.9" y1="702.8" x2="764.1" y2="791.9"/>
<line x1="710.6" y1="753.1" x2="764.1" y2="791.9"/>
<line x1="738.8" y1="748.4" x2="764.1" y2="791.9"/>
<line x1="737.5" y1="668.1" x2="764.1" y2="791.9"/>
<line x1="758.8" y1="659.4" x2="764.1" y2="791.9"/>
<line x1="753.8" y1="694.4" x2="764.1" y2="791.9"/>
<line x1="955.4" y1="721.0" x2="865.4" y2="730.2"/>
<line x1="853.2" y1="652.3" x2="865.4" y2="730.2"/>
<line x1="841.4" y1="660.0" x2="865.4" y2="730.2"/>
<line x1="859.7" y1="664.9" x2="865.4" y2="730.2"/>
<line x1="947.9" y1="685.5" x2="865.4" y2="730.2"/>
<line x1="919.9" y1="705.0" x2="865.4" y2="730.2"/>
<line x1="955.9" y1="703.3" x2="865.4" y2="730.2"/>
<line x1="867.7" y1="695.3" x2="865.4" y2="730.2"/>
<line x1="899.2" y1="707.9" x2="865.4" y2="730.2"/>
<line x1="927.3" y1="722.8" x2="865.4" y2="730.2"/>
<line x1="892.9" y1="743.4" x2="865.4" y2="730.2"/>
<line x1="892.9" y1="754.3" x2="865.4" y2="730.2"/>
<line x1="920.4" y1="746.3" x2="865.4" y2="730.2"/>
<line x1="837.0" y1="698.7" x2="865.4" y2="730.2"/>
<line x1="786.4" y1="718.8" x2="865.4" y2="730.2"/>
<line x1="799.0" y1="723.3" x2="865.4" y2="730.2"/>
<line x1="831.6" y1="732.5" x2="865.4" y2="730.2"/>
<line x1="871.7" y1="749.7" x2="865.4" y2="730.2"/>
<line x1="855.1" y1="754.3" x2="865.4" y2="730.2"/>
<line x1="780.9" y1="745.9" x2="865.4" y2="730.2"/>
<line x1="806.3" y1="750.6" x2="865.4" y2="730.2"/>
<line x1="849.4" y1="750.6" x2="865.4" y2="730.2"/>
<line x1="845.6" y1="736.6" x2="865.4" y2="730.2"/>
<line x1="710.6" y1="841.6" x2="690.9" y2="892.2"/>
<line x1="659.1" y1="865.0" x2="690.9" y2="892.2"/>
<line x1="661.9" y1="873.4" x2="690.9" y2="892.2"/>
<line x1="716.3" y1="866.9" x2="690.9" y2="892.2"/>
<line x1="760.3" y1="858.4" x2="690.9" y2="892.2"/>
<line x1="764.1" y1="863.1" x2="690.9" y2="892.2"/>
<line x1="772.5" y1="859.4" x2="690.9" y2="892.2"/>
<line x1="797.8" y1="863.1" x2="690.9" y2="892.2"/>
<line x1="649.7" y1="884.7" x2="690.9" y2="892.2"/>
<line x1="669.4" y1="889.4" x2="690.9" y2="892.2"/>
<line x1="645.9" y1="895.9" x2="690.9" y2="892.2"/>
<line x1="748.1" y1="901.6" x2="690.9" y2="892.2"/>
<line x1="778.1" y1="901.6" x2="690.9" y2="892.2"/>
<line x1="798.8" y1="892.2" x2="690.9" y2="892.2"/>
<line x1="771.6" y1="907.2" x2="690.9" y2="892.2"/>
<line x1="783.8" y1="911.9" x2="690.9" y2="892.2"/>
<line x1="748.1" y1="923.1" x2="690.9" y2="892.2"/>
<line x1="716.3" y1="912.8" x2="690.9" y2="892.2"/>
<line x1="658.1" y1="921.3" x2="690.9" y2="892.2"/>
<line x1="648.8" y1="913.8" x2="690.9" y2="892.2"/>
<line x1="678.8" y1="925.9" x2="690.9" y2="892.2"/>
<line x1="665.6" y1="936.3" x2="690.9" y2="892.2"/>
<line x1="650.6" y1="943.8" x2="690.9" y2="892.2"/>
<line x1="645.0" y1="938.1" x2="690.9" y2="892.2"/>
<line x1="696.6" y1="944.7" x2="690.9" y2="892.2"/>
<line x1="720.0" y1="944.7" x2="690.9" y2="892.2"/>
<line x1="742.5" y1="940.9" x2="690.9" y2="892.2"/>
<line x1="755.6" y1="941.9" x2="690.9" y2="892.2"/>
<line x1="704.1" y1="955.0" x2="690.9" y2="892.2"/>
<line x1="715.3" y1="957.8" x2="690.9" y2="892.2"/>
<line x1="688.1" y1="959.7" x2="690.9" y2="892.2"/>
<line x1="668.4" y1="954.1" x2="690.9" y2="892.2"/>
<line x1="777.2" y1="950.3" x2="690.9" y2="892.2"/>
<line x1="793.1" y1="937.2" x2="690.9" y2="892.2"/>
<line x1="795.0" y1="961.6" x2="690.9" y2="892.2"/>
<line x1="641.3" y1="975.6" x2="690.9" y2="892.2"/>
<line x1="653.4" y1="975.6" x2="690.9" y2="892.2"/>
<line x1="764.1" y1="974.7" x2="690.9" y2="892.2"/>
<line x1="685.0" y1="865.0" x2="690.9" y2="892.2"/>
<line x1="729.2" y1="861.7" x2="690.9" y2="892.2"/>
<line x1="738.3" y1="867.5" x2="690.9" y2="892.2"/>
<line x1="676.7" y1="882.1" x2="690.9" y2="892.2"/>
<line x1="727.5" y1="903.3" x2="690.9" y2="892.2"/>
<line x1="686.7" y1="906.7" x2="690.9" y2="892.2"/>
<line x1="747.5" y1="914.2" x2="690.9" y2="892.2"/>
<line x1="810.9" y1="982.2" x2="738.8" y2="1003.8"/>
<line x1="681.6" y1="990.6" x2="738.8" y2="1003.8"/>
<line x1="715.3" y1="991.6" x2="738.8" y2="1003.8"/>
<line x1="731.3" y1="987.8" x2="738.8" y2="1003.8"/>
<line x1="688.1" y1="1007.5" x2="738.8" y2="1003.8"/>
<line x1="807.2" y1="1004.7" x2="738.8" y2="1003.8"/>
<line x1="642.2" y1="1019.7" x2="738.8" y2="1003.8"/>
<line x1="699.4" y1="1020.6" x2="738.8" y2="1003.8"/>
<line x1="671.3" y1="1029.1" x2="738.8" y2="1003.8"/>
<line x1="765.9" y1="1022.5" x2="738.8" y2="1003.8"/>
<line x1="806.3" y1="1031.9" x2="738.8" y2="1003.8"/>
<line x1="650.6" y1="1030.9" x2="738.8" y2="1003.8"/>
<line x1="761.3" y1="1035.6" x2="738.8" y2="1003.8"/>
<line x1="811.9" y1="1039.4" x2="738.8" y2="1003.8"/>
<line x1="740.8" y1="1082.0" x2="738.8" y2="1003.8"/>
<line x1="743.5" y1="1066.4" x2="738.8" y2="1003.8"/>
<line x1="755.1" y1="1058.3" x2="738.8" y2="1003.8"/>
<line x1="724.6" y1="1060.3" x2="738.8" y2="1003.8"/>
<line x1="705.6" y1="1072.5" x2="738.8" y2="1003.8"/>
<line x1="692.8" y1="1101.6" x2="738.8" y2="1003.8"/>
<line x1="658.2" y1="1100.9" x2="738.8" y2="1003.8"/>
<line x1="673.8" y1="1089.8" x2="738.8" y2="1003.8"/>
<line x1="675.8" y1="1096.9" x2="738.8" y2="1003.8"/>
<line x1="679.9" y1="1075.9" x2="738.8" y2="1003.8"/>
<line x1="669.1" y1="1078.6" x2="738.8" y2="1003.8"/>
<line x1="656.2" y1="1077.2" x2="738.8" y2="1003.8"/>
<line x1="645.4" y1="1063.0" x2="738.8" y2="1003.8"/>
<line x1="650.8" y1="1057.6" x2="738.8" y2="1003.8"/>
<line x1="707.0" y1="1046.1" x2="738.8" y2="1003.8"/>
<line x1="725.9" y1="1046.1" x2="738.8" y2="1003.8"/>
<line x1="769.3" y1="1051.5" x2="738.8" y2="1003.8"/>
<line x1="781.5" y1="1045.4" x2="738.8" y2="1003.8"/>
<line x1="793.0" y1="1051.5" x2="738.8" y2="1003.8"/>
<line x1="824.8" y1="1082.7" x2="738.8" y2="1003.8"/>
<line x1="805.8" y1="1105.7" x2="738.8" y2="1003.8"/>
<line x1="820.5" y1="1110.0" x2="738.8" y2="1003.8"/>
<line x1="808.5" y1="1118.5" x2="738.8" y2="1003.8"/>
<line x1="856.6" y1="1103.6" x2="738.8" y2="1003.8"/>
<line x1="552.2" y1="972.8" x2="575.0" y2="1047.5"/>
<line x1="616.9" y1="973.8" x2="575.0" y2="1047.5"/>
<line x1="613.1" y1="985.0" x2="575.0" y2="1047.5"/>
<line x1="587.8" y1="991.6" x2="575.0" y2="1047.5"/>
<line x1="551.3" y1="989.7" x2="575.0" y2="1047.5"/>
<line x1="590.6" y1="1001.9" x2="575.0" y2="1047.5"/>
<line x1="638.4" y1="1001.9" x2="575.0" y2="1047.5"/>
<line x1="572.8" y1="1016.9" x2="575.0" y2="1047.5"/>
<line x1="598.1" y1="1035.6" x2="575.0" y2="1047.5"/>
<line x1="615.0" y1="1038.4" x2="575.0" y2="1047.5"/>
<line x1="541.0" y1="1013.1" x2="575.0" y2="1047.5"/>
<line x1="556.9" y1="1021.9" x2="575.0" y2="1047.5"/>
<line x1="605.0" y1="1082.5" x2="575.0" y2="1047.5"/>
<line x1="611.7" y1="1095.8" x2="575.0" y2="1047.5"/>
<line x1="631.8" y1="1089.0" x2="575.0" y2="1047.5"/>
<line x1="606.1" y1="1068.4" x2="575.0" y2="1047.5"/>
<line x1="627.1" y1="1044.7" x2="575.0" y2="1047.5"/>
<line x1="607.5" y1="1148.3" x2="631.7" y2="1155.8"/>
<line x1="616.2" y1="1130.0" x2="631.7" y2="1155.8"/>
<line x1="626.7" y1="1134.5" x2="631.7" y2="1155.8"/>
<line x1="663.2" y1="1162.6" x2="631.7" y2="1155.8"/>
<line x1="692.8" y1="1141.3" x2="631.7" y2="1155.8"/>
<line x1="647.4" y1="1142.2" x2="631.7" y2="1155.8"/>
<line x1="974.2" y1="803.3" x2="989.8" y2="835.6"/>
<line x1="984.6" y1="824.2" x2="989.8" y2="835.6"/>
<line x1="995.5" y1="812.0" x2="989.8" y2="835.6"/>
<line x1="935.6" y1="809.6" x2="989.8" y2="835.6"/>
<line x1="935.6" y1="823.6" x2="989.8" y2="835.6"/>
<line x1="932.0" y1="843.0" x2="989.8" y2="835.6"/>
<line x1="938.8" y1="853.3" x2="989.8" y2="835.6"/>
<line x1="908.3" y1="825.0" x2="989.8" y2="835.6"/>
<line x1="909.2" y1="804.2" x2="989.8" y2="835.6"/>
<line x1="921.7" y1="791.7" x2="989.8" y2="835.6"/>
<line x1="891.7" y1="791.7" x2="989.8" y2="835.6"/>
<line x1="862.5" y1="835.0" x2="989.8" y2="835.6"/>
<line x1="871.9" y1="855.6" x2="989.8" y2="835.6"/>
<line x1="1029.3" y1="702.5" x2="988.2" y2="800.2"/>
<line x1="1029.3" y1="702.5" x2="989.8" y2="835.6"/>
<line x1="1077.7" y1="714.9" x2="988.2" y2="800.2"/>
<line x1="1077.7" y1="714.9" x2="989.8" y2="835.6"/>
<line x1="1028.5" y1="722.5" x2="988.2" y2="800.2"/>
<line x1="1028.5" y1="722.5" x2="989.8" y2="835.6"/>
<line x1="974.2" y1="729.9" x2="988.2" y2="800.2"/>
<line x1="974.2" y1="729.9" x2="989.8" y2="835.6"/>
<line x1="974.2" y1="739.8" x2="988.2" y2="800.2"/>
<line x1="974.2" y1="739.8" x2="989.8" y2="835.6"/>
<line x1="996.0" y1="746.6" x2="988.2" y2="800.2"/>
<line x1="996.0" y1="746.6" x2="989.8" y2="835.6"/>
<line x1="1018.4" y1="741.9" x2="988.2" y2="800.2"/>
<line x1="1018.4" y1="741.9" x2="989.8" y2="835.6"/>
<line x1="1027.8" y1="753.3" x2="988.2" y2="800.2"/>
<line x1="1027.8" y1="753.3" x2="989.8" y2="835.6"/>
<line x1="1039.8" y1="753.3" x2="988.2" y2="800.2"/>
<line x1="1039.8" y1="753.3" x2="989.8" y2="835.6"/>
<line x1="1041.7" y1="763.8" x2="988.2" y2="800.2"/>
<line x1="1041.7" y1="763.8" x2="989.8" y2="835.6"/>
<line x1="1060.1" y1="770.0" x2="988.2" y2="800.2"/>
<line x1="1060.1" y1="770.0" x2="989.8" y2="835.6"/>
<line x1="1049.2" y1="776.2" x2="988.2" y2="800.2"/>
<line x1="1049.2" y1="776.2" x2="989.8" y2="835.6"/>
<line x1="1010.6" y1="777.8" x2="988.2" y2="800.2"/>
<line x1="1010.6" y1="777.8" x2="989.8" y2="835.6"/>
<line x1="962.2" y1="768.4" x2="988.2" y2="800.2"/>
<line x1="962.2" y1="768.4" x2="989.8" y2="835.6"/>
<line x1="967.0" y1="779.0" x2="988.2" y2="800.2"/>
<line x1="967.0" y1="779.0" x2="989.8" y2="835.6"/>
<line x1="982.5" y1="760.6" x2="988.2" y2="800.2"/>
<line x1="982.5" y1="760.6" x2="989.8" y2="835.6"/>
<line x1="1005.4" y1="762.7" x2="988.2" y2="800.2"/>
<line x1="1005.4" y1="762.7" x2="989.8" y2="835.6"/>
<line x1="1003.3" y1="823.1" x2="989.8" y2="835.6"/>
<line x1="1003.3" y1="823.1" x2="988.2" y2="800.2"/>
<line x1="1010.0" y1="811.0" x2="988.2" y2="800.2"/>
<line x1="1010.0" y1="811.0" x2="989.8" y2="835.6"/>
<line x1="1013.0" y1="838.0" x2="989.8" y2="835.6"/>
<line x1="1013.0" y1="838.0" x2="988.2" y2="800.2"/>
<line x1="1013.8" y1="847.1" x2="989.8" y2="835.6"/>
<line x1="1013.8" y1="847.1" x2="988.2" y2="800.2"/>
<line x1="1041.9" y1="841.9" x2="989.8" y2="835.6"/>
<line x1="1041.9" y1="841.9" x2="988.2" y2="800.2"/>
<line x1="1059.0" y1="827.3" x2="989.8" y2="835.6"/>
<line x1="1059.0" y1="827.3" x2="988.2" y2="800.2"/>
<line x1="1072.5" y1="816.7" x2="989.8" y2="835.6"/>
<line x1="1072.5" y1="816.7" x2="988.2" y2="800.2"/>
<line x1="1053.3" y1="813.8" x2="988.2" y2="800.2"/>
<line x1="1053.3" y1="813.8" x2="989.8" y2="835.6"/>
<line x1="1057.5" y1="797.0" x2="988.2" y2="800.2"/>
<line x1="1057.5" y1="797.0" x2="989.8" y2="835.6"/>
<line x1="1064.8" y1="852.3" x2="989.8" y2="835.6"/>
<line x1="1064.8" y1="852.3" x2="988.2" y2="800.2"/>
<line x1="1060.1" y1="862.7" x2="989.8" y2="835.6"/>
<line x1="1060.1" y1="862.7" x2="988.2" y2="800.2"/>
<line x1="1066.9" y1="879.9" x2="989.8" y2="835.6"/>
<line x1="1066.9" y1="879.9" x2="988.2" y2="800.2"/>
<line x1="1041.7" y1="813.0" x2="988.2" y2="800.2"/>
<line x1="1041.7" y1="813.0" x2="989.8" y2="835.6"/>
<line x1="1066.0" y1="808.0" x2="988.2" y2="800.2"/>
<line x1="1066.0" y1="808.0" x2="989.8" y2="835.6"/>
<line x1="748.5" y1="760.9" x2="764.1" y2="791.9"/>
<line x1="748.5" y1="760.9" x2="736.9" y2="840.6"/>
<line x1="772.5" y1="760.0" x2="764.1" y2="791.9"/>
<line x1="772.5" y1="760.0" x2="736.9" y2="840.6"/>
<line x1="816.6" y1="760.9" x2="865.4" y2="730.2"/>
<line x1="816.6" y1="760.9" x2="764.1" y2="791.9"/>
<line x1="856.9" y1="771.3" x2="865.4" y2="730.2"/>
<line x1="856.9" y1="771.3" x2="764.1" y2="791.9"/>
<line x1="700.3" y1="800.3" x2="736.9" y2="840.6"/>
<line x1="700.3" y1="800.3" x2="764.1" y2="791.9"/>
<line x1="718.1" y1="800.3" x2="736.9" y2="840.6"/>
<line x1="718.1" y1="800.3" x2="764.1" y2="791.9"/>
<line x1="712.5" y1="808.8" x2="736.9" y2="840.6"/>
<line x1="712.5" y1="808.8" x2="764.1" y2="791.9"/>
<line x1="739.7" y1="805.9" x2="764.1" y2="791.9"/>
<line x1="739.7" y1="805.9" x2="736.9" y2="840.6"/>
<line x1="746.3" y1="805.0" x2="764.1" y2="791.9"/>
<line x1="746.3" y1="805.0" x2="736.9" y2="840.6"/>
<line x1="774.4" y1="792.8" x2="764.1" y2="791.9"/>
<line x1="774.4" y1="792.8" x2="736.9" y2="840.6"/>
<line x1="795.0" y1="790.0" x2="764.1" y2="791.9"/>
<line x1="795.0" y1="790.0" x2="736.9" y2="840.6"/>
<line x1="821.3" y1="787.2" x2="764.1" y2="791.9"/>
<line x1="821.3" y1="787.2" x2="865.4" y2="730.2"/>
<line x1="850.3" y1="788.1" x2="865.4" y2="730.2"/>
<line x1="850.3" y1="788.1" x2="764.1" y2="791.9"/>
<line x1="777.2" y1="818.1" x2="764.1" y2="791.9"/>
<line x1="777.2" y1="818.1" x2="736.9" y2="840.6"/>
<line x1="791.3" y1="819.1" x2="764.1" y2="791.9"/>
<line x1="791.3" y1="819.1" x2="736.9" y2="840.6"/>
<line x1="804.4" y1="819.1" x2="764.1" y2="791.9"/>
<line x1="804.4" y1="819.1" x2="736.9" y2="840.6"/>
<line x1="819.4" y1="824.7" x2="764.1" y2="791.9"/>
<line x1="819.4" y1="824.7" x2="736.9" y2="840.6"/>
<line x1="838.1" y1="820.0" x2="764.1" y2="791.9"/>
<line x1="838.1" y1="820.0" x2="865.4" y2="730.2"/>
<line x1="847.5" y1="828.4" x2="764.1" y2="791.9"/>
<line x1="847.5" y1="828.4" x2="865.4" y2="730.2"/>
<line x1="789.4" y1="830.3" x2="764.1" y2="791.9"/>
<line x1="789.4" y1="830.3" x2="736.9" y2="840.6"/>
<line x1="817.5" y1="836.9" x2="764.1" y2="791.9"/>
<line x1="817.5" y1="836.9" x2="736.9" y2="840.6"/>
<line x1="573.8" y1="862.2" x2="630.0" y2="929.7"/>
<line x1="573.8" y1="862.2" x2="690.9" y2="892.2"/>
<line x1="835.3" y1="849.1" x2="756.6" y2="892.2"/>
<line x1="835.3" y1="849.1" x2="764.1" y2="791.9"/>
<line x1="841.9" y1="859.4" x2="756.6" y2="892.2"/>
<line x1="841.9" y1="859.4" x2="764.1" y2="791.9"/>
<line x1="856.9" y1="859.4" x2="756.6" y2="892.2"/>
<line x1="856.9" y1="859.4" x2="764.1" y2="791.9"/>
<line x1="611.3" y1="878.1" x2="630.0" y2="929.7"/>
<line x1="611.3" y1="878.1" x2="690.9" y2="892.2"/>
<line x1="603.8" y1="873.4" x2="630.0" y2="929.7"/>
<line x1="603.8" y1="873.4" x2="690.9" y2="892.2"/>
<line x1="624.4" y1="888.4" x2="630.0" y2="929.7"/>
<line x1="624.4" y1="888.4" x2="690.9" y2="892.2"/>
<line x1="810.0" y1="901.6" x2="756.6" y2="892.2"/>
<line x1="810.0" y1="901.6" x2="736.9" y2="840.6"/>
<line x1="817.5" y1="895.9" x2="756.6" y2="892.2"/>
<line x1="817.5" y1="895.9" x2="736.9" y2="840.6"/>
<line x1="823.1" y1="905.3" x2="756.6" y2="892.2"/>
<line x1="823.1" y1="905.3" x2="736.9" y2="840.6"/>
<line x1="558.8" y1="920.0" x2="630.0" y2="929.7"/>
<line x1="558.8" y1="920.0" x2="575.0" y2="1047.5"/>
<line x1="635.6" y1="921.3" x2="630.0" y2="929.7"/>
<line x1="635.6" y1="921.3" x2="690.9" y2="892.2"/>
<line x1="630.0" y1="929.7" x2="690.9" y2="892.2"/>
<line x1="821.3" y1="955.0" x2="819.4" y2="1030.0"/>
<line x1="821.3" y1="955.0" x2="756.6" y2="892.2"/>
<line x1="835.3" y1="949.4" x2="819.4" y2="1030.0"/>
<line x1="835.3" y1="949.4" x2="756.6" y2="892.2"/>
<line x1="584.1" y1="949.4" x2="630.0" y2="929.7"/>
<line x1="584.1" y1="949.4" x2="575.0" y2="1047.5"/>
<line x1="591.6" y1="958.8" x2="630.0" y2="929.7"/>
<line x1="591.6" y1="958.8" x2="575.0" y2="1047.5"/>
<line x1="557.8" y1="940.0" x2="630.0" y2="929.7"/>
<line x1="557.8" y1="940.0" x2="575.0" y2="1047.5"/>
<line x1="721.6" y1="1122.6" x2="799.1" y2="1074.5"/>
<line x1="721.6" y1="1122.6" x2="631.7" y2="1155.8"/>
<line x1="724.9" y1="1139.5" x2="631.7" y2="1155.8"/>
<line x1="724.9" y1="1139.5" x2="799.1" y2="1074.5"/>
<line x1="772.7" y1="1139.5" x2="799.1" y2="1074.5"/>
<line x1="772.7" y1="1139.5" x2="819.4" y2="1030.0"/>
<line x1="784.2" y1="1138.9" x2="799.1" y2="1074.5"/>
<line x1="784.2" y1="1138.9" x2="819.4" y2="1030.0"/>
<line x1="793.6" y1="1148.3" x2="799.1" y2="1074.5"/>
<line x1="793.6" y1="1148.3" x2="819.4" y2="1030.0"/>
<line x1="867.4" y1="1067.4" x2="819.4" y2="1030.0"/>
<line x1="867.4" y1="1067.4" x2="799.1" y2="1074.5"/>
<line x1="886.4" y1="1075.4" x2="819.4" y2="1030.0"/>
<line x1="886.4" y1="1075.4" x2="799.1" y2="1074.5"/>
<line x1="846.2" y1="761.6" x2="865.4" y2="730.2"/>
<line x1="846.2" y1="761.6" x2="764.1" y2="791.9"/>
<line x1="876.9" y1="763.8" x2="865.4" y2="730.2"/>
<line x1="876.9" y1="763.8" x2="764.1" y2="791.9"/>
<line x1="902.4" y1="775.4" x2="865.4" y2="730.2"/>
<line x1="902.4" y1="775.4" x2="988.2" y2="800.2"/>
<line x1="851.4" y1="776.9" x2="865.4" y2="730.2"/>
<line x1="851.4" y1="776.9" x2="764.1" y2="791.9"/>
<line x1="935.6" y1="809.6" x2="988.2" y2="800.2"/>
<line x1="935.6" y1="809.6" x2="865.4" y2="730.2"/>
<line x1="935.6" y1="823.6" x2="988.2" y2="800.2"/>
<line x1="935.6" y1="823.6" x2="865.4" y2="730.2"/>
<line x1="932.0" y1="843.0" x2="988.2" y2="800.2"/>
<line x1="932.0" y1="843.0" x2="865.4" y2="730.2"/>
<line x1="938.8" y1="853.3" x2="988.2" y2="800.2"/>
<line x1="938.8" y1="853.3" x2="865.4" y2="730.2"/>
<line x1="908.3" y1="825.0" x2="988.2" y2="800.2"/>
<line x1="908.3" y1="825.0" x2="865.4" y2="730.2"/>
<line x1="909.2" y1="804.2" x2="988.2" y2="800.2"/>
<line x1="909.2" y1="804.2" x2="865.4" y2="730.2"/>
<line x1="921.7" y1="791.7" x2="988.2" y2="800.2"/>
<line x1="921.7" y1="791.7" x2="865.4" y2="730.2"/>
<line x1="891.7" y1="791.7" x2="865.4" y2="730.2"/>
<line x1="891.7" y1="791.7" x2="988.2" y2="800.2"/>
<line x1="919.9" y1="705.0" x2="988.2" y2="800.2"/>
<line x1="919.9" y1="705.0" x2="989.8" y2="835.6"/>
<line x1="899.2" y1="707.9" x2="988.2" y2="800.2"/>
<line x1="899.2" y1="707.9" x2="989.8" y2="835.6"/>
<line x1="927.3" y1="722.8" x2="988.2" y2="800.2"/>
<line x1="927.3" y1="722.8" x2="989.8" y2="835.6"/>
<line x1="892.9" y1="743.4" x2="988.2" y2="800.2"/>
<line x1="892.9" y1="743.4" x2="989.8" y2="835.6"/>
<line x1="892.9" y1="754.3" x2="988.2" y2="800.2"/>
<line x1="892.9" y1="754.3" x2="989.8" y2="835.6"/>
<line x1="920.4" y1="746.3" x2="988.2" y2="800.2"/>
<line x1="920.4" y1="746.3" x2="989.8" y2="835.6"/>
<line x1="838.8" y1="710.7" x2="865.4" y2="730.2"/>
<line x1="838.8" y1="710.7" x2="764.1" y2="791.9"/>
<line x1="838.8" y1="710.7" x2="736.9" y2="840.6"/>
<line x1="786.4" y1="718.8" x2="764.1" y2="791.9"/>
<line x1="786.4" y1="718.8" x2="736.9" y2="840.6"/>
<line x1="799.0" y1="723.3" x2="764.1" y2="791.9"/>
<line x1="799.0" y1="723.3" x2="736.9" y2="840.6"/>
<line x1="831.6" y1="732.5" x2="764.1" y2="791.9"/>
<line x1="831.6" y1="732.5" x2="736.9" y2="840.6"/>
<line x1="871.7" y1="749.7" x2="764.1" y2="791.9"/>
<line x1="871.7" y1="749.7" x2="988.2" y2="800.2"/>
<line x1="855.1" y1="754.3" x2="764.1" y2="791.9"/>
<line x1="855.1" y1="754.3" x2="988.2" y2="800.2"/>
<line x1="602.8" y1="718.2" x2="764.1" y2="791.9"/>
<line x1="602.8" y1="718.2" x2="690.9" y2="892.2"/>
<line x1="664.7" y1="718.2" x2="764.1" y2="791.9"/>
<line x1="664.7" y1="718.2" x2="690.9" y2="892.2"/>
<line x1="720.9" y1="711.3" x2="736.9" y2="840.6"/>
<line x1="720.9" y1="711.3" x2="865.4" y2="730.2"/>
<line x1="735.9" y1="702.8" x2="865.4" y2="730.2"/>
<line x1="735.9" y1="702.8" x2="736.9" y2="840.6"/>
<line x1="629.4" y1="733.8" x2="764.1" y2="791.9"/>
<line x1="629.4" y1="733.8" x2="690.9" y2="892.2"/>
<line x1="664.7" y1="739.4" x2="764.1" y2="791.9"/>
<line x1="664.7" y1="739.4" x2="736.9" y2="840.6"/>
<line x1="664.7" y1="739.4" x2="690.9" y2="892.2"/>
<line x1="688.1" y1="736.9" x2="764.1" y2="791.9"/>
<line x1="688.1" y1="736.9" x2="690.9" y2="892.2"/>
<line x1="699.8" y1="740.9" x2="764.1" y2="791.9"/>
<line x1="699.8" y1="740.9" x2="690.9" y2="892.2"/>
<line x1="617.8" y1="745.9" x2="764.1" y2="791.9"/>
<line x1="617.8" y1="745.9" x2="690.9" y2="892.2"/>
<line x1="645.0" y1="764.7" x2="764.1" y2="791.9"/>
<line x1="645.0" y1="764.7" x2="690.9" y2="892.2"/>
<line x1="657.2" y1="754.4" x2="764.1" y2="791.9"/>
<line x1="657.2" y1="754.4" x2="690.9" y2="892.2"/>
<line x1="696.6" y1="755.3" x2="764.1" y2="791.9"/>
<line x1="696.6" y1="755.3" x2="690.9" y2="892.2"/>
<line x1="710.6" y1="753.1" x2="736.9" y2="840.6"/>
<line x1="710.6" y1="753.1" x2="690.9" y2="892.2"/>
<line x1="738.8" y1="748.4" x2="736.9" y2="840.6"/>
<line x1="738.8" y1="748.4" x2="865.4" y2="730.2"/>
<line x1="748.5" y1="760.9" x2="865.4" y2="730.2"/>
<line x1="772.5" y1="760.0" x2="865.4" y2="730.2"/>
<line x1="780.9" y1="745.9" x2="764.1" y2="791.9"/>
<line x1="780.9" y1="745.9" x2="736.9" y2="840.6"/>
<line x1="806.3" y1="750.6" x2="764.1" y2="791.9"/>
<line x1="806.3" y1="750.6" x2="736.9" y2="840.6"/>
<line x1="816.6" y1="760.9" x2="736.9" y2="840.6"/>
<line x1="849.4" y1="750.6" x2="764.1" y2="791.9"/>
<line x1="849.4" y1="750.6" x2="736.9" y2="840.6"/>
<line x1="845.6" y1="736.6" x2="764.1" y2="791.9"/>
<line x1="845.6" y1="736.6" x2="736.9" y2="840.6"/>
<line x1="856.9" y1="771.3" x2="988.2" y2="800.2"/>
<line x1="625.3" y1="791.9" x2="690.9" y2="892.2"/>
<line x1="625.3" y1="791.9" x2="630.0" y2="929.7"/>
<line x1="612.2" y1="803.1" x2="690.9" y2="892.2"/>
<line x1="612.2" y1="803.1" x2="630.0" y2="929.7"/>
<line x1="628.1" y1="806.9" x2="690.9" y2="892.2"/>
<line x1="628.1" y1="806.9" x2="630.0" y2="929.7"/>
<line x1="665.6" y1="790.6" x2="764.1" y2="791.9"/>
<line x1="665.6" y1="790.6" x2="690.9" y2="892.2"/>
<line x1="676.5" y1="799.4" x2="764.1" y2="791.9"/>
<line x1="676.5" y1="799.4" x2="690.9" y2="892.2"/>
<line x1="700.3" y1="800.3" x2="690.9" y2="892.2"/>
<line x1="718.1" y1="800.3" x2="690.9" y2="892.2"/>
<line x1="712.5" y1="808.8" x2="690.9" y2="892.2"/>
<line x1="739.7" y1="805.9" x2="756.6" y2="892.2"/>
<line x1="746.3" y1="805.0" x2="756.6" y2="892.2"/>
<line x1="774.4" y1="792.8" x2="756.6" y2="892.2"/>
<line x1="795.0" y1="790.0" x2="865.4" y2="730.2"/>
<line x1="821.3" y1="787.2" x2="736.9" y2="840.6"/>
<line x1="850.3" y1="788.1" x2="736.9" y2="840.6"/>
<line x1="606.6" y1="812.5" x2="690.9" y2="892.2"/>
<line x1="606.6" y1="812.5" x2="630.0" y2="929.7"/>
<line x1="650.6" y1="819.1" x2="690.9" y2="892.2"/>
<line x1="650.6" y1="819.1" x2="630.0" y2="929.7"/>
<line x1="777.2" y1="818.1" x2="756.6" y2="892.2"/>
<line x1="791.3" y1="819.1" x2="756.6" y2="892.2"/>
<line x1="804.4" y1="819.1" x2="756.6" y2="892.2"/>
<line x1="819.4" y1="824.7" x2="756.6" y2="892.2"/>
<line x1="838.1" y1="820.0" x2="736.9" y2="840.6"/>
<line x1="847.5" y1="828.4" x2="756.6" y2="892.2"/>
<line x1="862.5" y1="835.0" x2="865.4" y2="730.2"/>
<line x1="862.5" y1="835.0" x2="764.1" y2="791.9"/>
<line x1="862.5" y1="835.0" x2="756.6" y2="892.2"/>
<line x1="789.4" y1="830.3" x2="756.6" y2="892.2"/>
<line x1="817.5" y1="836.9" x2="756.6" y2="892.2"/>
<line x1="698.4" y1="829.4" x2="690.9" y2="892.2"/>
<line x1="698.4" y1="829.4" x2="764.1" y2="791.9"/>
<line x1="671.3" y1="847.2" x2="690.9" y2="892.2"/>
<line x1="671.3" y1="847.2" x2="630.0" y2="929.7"/>
<line x1="685.3" y1="841.6" x2="690.9" y2="892.2"/>
<line x1="685.3" y1="841.6" x2="756.6" y2="892.2"/>
<line x1="710.6" y1="841.6" x2="736.9" y2="840.6"/>
<line x1="710.6" y1="841.6" x2="756.6" y2="892.2"/>
<line x1="601.9" y1="831.3" x2="630.0" y2="929.7"/>
<line x1="601.9" y1="831.3" x2="690.9" y2="892.2"/>
<line x1="615.9" y1="835.0" x2="690.9" y2="892.2"/>
<line x1="615.9" y1="835.0" x2="630.0" y2="929.7"/>
<line x1="606.6" y1="856.6" x2="630.0" y2="929.7"/>
<line x1="606.6" y1="856.6" x2="690.9" y2="892.2"/>
<line x1="659.1" y1="865.0" x2="630.0" y2="929.7"/>
<line x1="659.1" y1="865.0" x2="736.9" y2="840.6"/>
<line x1="661.9" y1="873.4" x2="630.0" y2="929.7"/>
<line x1="661.9" y1="873.4" x2="736.9" y2="840.6"/>
<line x1="692.8" y1="850.9" x2="690.9" y2="892.2"/>
<line x1="692.8" y1="850.9" x2="756.6" y2="892.2"/>
<line x1="716.3" y1="866.9" x2="736.9" y2="840.6"/>
<line x1="716.3" y1="866.9" x2="756.6" y2="892.2"/>
<line x1="760.3" y1="858.4" x2="736.9" y2="840.6"/>
<line x1="760.3" y1="858.4" x2="756.6" y2="892.2"/>
<line x1="760.3" y1="858.4" x2="764.1" y2="791.9"/>
<line x1="764.1" y1="863.1" x2="756.6" y2="892.2"/>
<line x1="764.1" y1="863.1" x2="736.9" y2="840.6"/>
<line x1="764.1" y1="863.1" x2="764.1" y2="791.9"/>
<line x1="772.5" y1="859.4" x2="756.6" y2="892.2"/>
<line x1="772.5" y1="859.4" x2="736.9" y2="840.6"/>
<line x1="772.5" y1="859.4" x2="764.1" y2="791.9"/>
<line x1="797.8" y1="863.1" x2="756.6" y2="892.2"/>
<line x1="797.8" y1="863.1" x2="736.9" y2="840.6"/>
<line x1="797.8" y1="863.1" x2="764.1" y2="791.9"/>
<line x1="835.3" y1="849.1" x2="736.9" y2="840.6"/>
<line x1="841.9" y1="859.4" x2="736.9" y2="840.6"/>
<line x1="856.9" y1="859.4" x2="736.9" y2="840.6"/>
<line x1="871.9" y1="855.6" x2="756.6" y2="892.2"/>
<line x1="871.9" y1="855.6" x2="764.1" y2="791.9"/>
<line x1="860.6" y1="884.7" x2="756.6" y2="892.2"/>
<line x1="860.6" y1="884.7" x2="736.9" y2="840.6"/>
<line x1="611.3" y1="878.1" x2="736.9" y2="840.6"/>
<line x1="603.8" y1="873.4" x2="736.9" y2="840.6"/>
<line x1="649.7" y1="884.7" x2="630.0" y2="929.7"/>
<line x1="649.7" y1="884.7" x2="736.9" y2="840.6"/>
<line x1="669.4" y1="889.4" x2="630.0" y2="929.7"/>
<line x1="669.4" y1="889.4" x2="736.9" y2="840.6"/>
<line x1="624.4" y1="888.4" x2="736.9" y2="840.6"/>
<line x1="645.9" y1="895.9" x2="630.0" y2="929.7"/>
<line x1="645.9" y1="895.9" x2="736.9" y2="840.6"/>
<line x1="716.3" y1="887.5" x2="690.9" y2="892.2"/>
<line x1="716.3" y1="887.5" x2="756.6" y2="892.2"/>
<line x1="716.3" y1="887.5" x2="736.9" y2="840.6"/>
<line x1="748.1" y1="901.6" x2="756.6" y2="892.2"/>
<line x1="748.1" y1="901.6" x2="736.9" y2="840.6"/>
<line x1="778.1" y1="901.6" x2="756.6" y2="892.2"/>
<line x1="778.1" y1="901.6" x2="736.9" y2="840.6"/>
<line x1="798.8" y1="892.2" x2="756.6" y2="892.2"/>
<line x1="798.8" y1="892.2" x2="736.9" y2="840.6"/>
<line x1="798.8" y1="892.2" x2="764.1" y2="791.9"/>
<line x1="810.0" y1="901.6" x2="764.1" y2="791.9"/>
<line x1="817.5" y1="895.9" x2="764.1" y2="791.9"/>
<line x1="823.1" y1="905.3" x2="819.4" y2="1030.0"/>
<line x1="849.4" y1="913.8" x2="756.6" y2="892.2"/>
<line x1="849.4" y1="913.8" x2="819.4" y2="1030.0"/>
<line x1="849.4" y1="913.8" x2="736.9" y2="840.6"/>
<line x1="771.6" y1="907.2" x2="756.6" y2="892.2"/>
<line x1="771.6" y1="907.2" x2="736.9" y2="840.6"/>
<line x1="783.8" y1="911.9" x2="756.6" y2="892.2"/>
<line x1="783.8" y1="911.9" x2="736.9" y2="840.6"/>
<line x1="748.1" y1="923.1" x2="756.6" y2="892.2"/>
<line x1="748.1" y1="923.1" x2="738.8" y2="1003.8"/>
<line x1="834.4" y1="921.3" x2="756.6" y2="892.2"/>
<line x1="834.4" y1="921.3" x2="819.4" y2="1030.0"/>
<line x1="834.4" y1="921.3" x2="738.8" y2="1003.8"/>
<line x1="716.3" y1="912.8" x2="756.6" y2="892.2"/>
<line x1="716.3" y1="912.8" x2="736.9" y2="840.6"/>
<line x1="658.1" y1="921.3" x2="630.0" y2="929.7"/>
<line x1="658.1" y1="921.3" x2="756.6" y2="892.2"/>
<line x1="648.8" y1="913.8" x2="630.0" y2="929.7"/>
<line x1="648.8" y1="913.8" x2="756.6" y2="892.2"/>
<line x1="635.6" y1="921.3" x2="756.6" y2="892.2"/>
<line x1="678.8" y1="925.9" x2="630.0" y2="929.7"/>
<line x1="678.8" y1="925.9" x2="756.6" y2="892.2"/>
<line x1="665.6" y1="936.3" x2="630.0" y2="929.7"/>
<line x1="665.6" y1="936.3" x2="738.8" y2="1003.8"/>
<line x1="650.6" y1="943.8" x2="630.0" y2="929.7"/>
<line x1="650.6" y1="943.8" x2="738.8" y2="1003.8"/>
<line x1="645.0" y1="938.1" x2="630.0" y2="929.7"/>
<line x1="645.0" y1="938.1" x2="738.8" y2="1003.8"/>
<line x1="696.6" y1="944.7" x2="630.0" y2="929.7"/>
<line x1="696.6" y1="944.7" x2="738.8" y2="1003.8"/>
<line x1="720.0" y1="944.7" x2="738.8" y2="1003.8"/>
<line x1="720.0" y1="944.7" x2="756.6" y2="892.2"/>
<line x1="742.5" y1="940.9" x2="756.6" y2="892.2"/>
<line x1="742.5" y1="940.9" x2="738.8" y2="1003.8"/>
<line x1="755.6" y1="941.9" x2="756.6" y2="892.2"/>
<line x1="755.6" y1="941.9" x2="738.8" y2="1003.8"/>
<line x1="704.1" y1="955.0" x2="738.8" y2="1003.8"/>
<line x1="704.1" y1="955.0" x2="630.0" y2="929.7"/>
<line x1="715.3" y1="957.8" x2="738.8" y2="1003.8"/>
<line x1="715.3" y1="957.8" x2="756.6" y2="892.2"/>
<line x1="688.1" y1="959.7" x2="630.0" y2="929.7"/>
<line x1="688.1" y1="959.7" x2="738.8" y2="1003.8"/>
<line x1="668.4" y1="954.1" x2="630.0" y2="929.7"/>
<line x1="668.4" y1="954.1" x2="738.8" y2="1003.8"/>
<line x1="777.2" y1="950.3" x2="756.6" y2="892.2"/>
<line x1="777.2" y1="950.3" x2="738.8" y2="1003.8"/>
<line x1="777.2" y1="950.3" x2="819.4" y2="1030.0"/>
<line x1="793.1" y1="937.2" x2="756.6" y2="892.2"/>
<line x1="793.1" y1="937.2" x2="738.8" y2="1003.8"/>
<line x1="793.1" y1="937.2" x2="819.4" y2="1030.0"/>
<line x1="795.0" y1="961.6" x2="738.8" y2="1003.8"/>
<line x1="795.0" y1="961.6" x2="819.4" y2="1030.0"/>
<line x1="795.0" y1="961.6" x2="756.6" y2="892.2"/>
<line x1="821.3" y1="955.0" x2="738.8" y2="1003.8"/>
<line x1="835.3" y1="949.4" x2="738.8" y2="1003.8"/>
<line x1="865.1" y1="952.5" x2="819.4" y2="1030.0"/>
<line x1="865.1" y1="952.5" x2="738.8" y2="1003.8"/>
<line x1="890.8" y1="945.6" x2="819.4" y2="1030.0"/>
<line x1="890.8" y1="945.6" x2="989.8" y2="835.6"/>
<line x1="616.9" y1="973.8" x2="630.0" y2="929.7"/>
<line x1="616.9" y1="973.8" x2="605.0" y2="1082.5"/>
<line x1="641.3" y1="975.6" x2="630.0" y2="929.7"/>
<line x1="641.3" y1="975.6" x2="575.0" y2="1047.5"/>
<line x1="653.4" y1="975.6" x2="630.0" y2="929.7"/>
<line x1="653.4" y1="975.6" x2="738.8" y2="1003.8"/>
<line x1="764.1" y1="974.7" x2="738.8" y2="1003.8"/>
<line x1="764.1" y1="974.7" x2="819.4" y2="1030.0"/>
<line x1="764.1" y1="974.7" x2="756.6" y2="892.2"/>
<line x1="810.9" y1="982.2" x2="819.4" y2="1030.0"/>
<line x1="810.9" y1="982.2" x2="799.1" y2="1074.5"/>
<line x1="858.8" y1="988.8" x2="819.4" y2="1030.0"/>
<line x1="858.8" y1="988.8" x2="799.1" y2="1074.5"/>
<line x1="869.1" y1="996.3" x2="819.4" y2="1030.0"/>
<line x1="869.1" y1="996.3" x2="799.1" y2="1074.5"/>
<line x1="879.4" y1="970.0" x2="819.4" y2="1030.0"/>
<line x1="879.4" y1="970.0" x2="799.1" y2="1074.5"/>
<line x1="681.6" y1="990.6" x2="630.0" y2="929.7"/>
<line x1="681.6" y1="990.6" x2="690.9" y2="892.2"/>
<line x1="715.3" y1="991.6" x2="690.9" y2="892.2"/>
<line x1="715.3" y1="991.6" x2="630.0" y2="929.7"/>
<line x1="731.3" y1="987.8" x2="819.4" y2="1030.0"/>
<line x1="731.3" y1="987.8" x2="756.6" y2="892.2"/>
<line x1="613.1" y1="985.0" x2="630.0" y2="929.7"/>
<line x1="613.1" y1="985.0" x2="605.0" y2="1082.5"/>
<line x1="638.4" y1="1001.9" x2="630.0" y2="929.7"/>
<line x1="638.4" y1="1001.9" x2="605.0" y2="1082.5"/>
<line x1="688.1" y1="1007.5" x2="630.0" y2="929.7"/>
<line x1="688.1" y1="1007.5" x2="605.0" y2="1082.5"/>
<line x1="807.2" y1="1004.7" x2="819.4" y2="1030.0"/>
<line x1="807.2" y1="1004.7" x2="799.1" y2="1074.5"/>
<line x1="851.3" y1="1014.1" x2="819.4" y2="1030.0"/>
<line x1="851.3" y1="1014.1" x2="799.1" y2="1074.5"/>
<line x1="871.9" y1="1011.3" x2="819.4" y2="1030.0"/>
<line x1="871.9" y1="1011.3" x2="799.1" y2="1074.5"/>
<line x1="642.2" y1="1019.7" x2="575.0" y2="1047.5"/>
<line x1="642.2" y1="1019.7" x2="605.0" y2="1082.5"/>
<line x1="642.2" y1="1019.7" x2="630.0" y2="929.7"/>
<line x1="699.4" y1="1020.6" x2="605.0" y2="1082.5"/>
<line x1="699.4" y1="1020.6" x2="799.1" y2="1074.5"/>
<line x1="671.3" y1="1029.1" x2="605.0" y2="1082.5"/>
<line x1="671.3" y1="1029.1" x2="575.0" y2="1047.5"/>
<line x1="765.9" y1="1022.5" x2="819.4" y2="1030.0"/>
<line x1="765.9" y1="1022.5" x2="799.1" y2="1074.5"/>
<line x1="806.3" y1="1031.9" x2="819.4" y2="1030.0"/>
<line x1="806.3" y1="1031.9" x2="799.1" y2="1074.5"/>
<line x1="650.6" y1="1030.9" x2="605.0" y2="1082.5"/>
<line x1="650.6" y1="1030.9" x2="575.0" y2="1047.5"/>
<line x1="615.0" y1="1038.4" x2="605.0" y2="1082.5"/>
<line x1="615.0" y1="1038.4" x2="630.0" y2="929.7"/>
<line x1="761.3" y1="1035.6" x2="799.1" y2="1074.5"/>
<line x1="761.3" y1="1035.6" x2="819.4" y2="1030.0"/>
<line x1="811.9" y1="1039.4" x2="819.4" y2="1030.0"/>
<line x1="811.9" y1="1039.4" x2="799.1" y2="1074.5"/>
<line x1="755.1" y1="1058.3" x2="799.1" y2="1074.5"/>
<line x1="755.1" y1="1058.3" x2="819.4" y2="1030.0"/>
<line x1="650.8" y1="1057.6" x2="605.0" y2="1082.5"/>
<line x1="650.8" y1="1057.6" x2="575.0" y2="1047.5"/>
<line x1="650.8" y1="1057.6" x2="631.7" y2="1155.8"/>
<line x1="627.1" y1="1044.7" x2="605.0" y2="1082.5"/>
<line x1="627.1" y1="1044.7" x2="631.7" y2="1155.8"/>
<line x1="707.0" y1="1046.1" x2="799.1" y2="1074.5"/>
<line x1="707.0" y1="1046.1" x2="605.0" y2="1082.5"/>
<line x1="725.9" y1="1046.1" x2="799.1" y2="1074.5"/>
<line x1="725.9" y1="1046.1" x2="819.4" y2="1030.0"/>
<line x1="769.3" y1="1051.5" x2="799.1" y2="1074.5"/>
<line x1="769.3" y1="1051.5" x2="819.4" y2="1030.0"/>
<line x1="781.5" y1="1045.4" x2="799.1" y2="1074.5"/>
<line x1="781.5" y1="1045.4" x2="819.4" y2="1030.0"/>
<line x1="793.0" y1="1051.5" x2="799.1" y2="1074.5"/>
<line x1="793.0" y1="1051.5" x2="819.4" y2="1030.0"/>
<line x1="899.8" y1="895.3" x2="988.2" y2="800.2"/>
<line x1="899.8" y1="895.3" x2="756.6" y2="892.2"/>
<line x1="922.4" y1="916.2" x2="988.2" y2="800.2"/>
<line x1="922.4" y1="916.2" x2="819.4" y2="1030.0"/>
<line x1="929.7" y1="928.9" x2="988.2" y2="800.2"/>
<line x1="929.7" y1="928.9" x2="819.4" y2="1030.0"/>
<line x1="947.9" y1="903.8" x2="988.2" y2="800.2"/>
<line x1="947.9" y1="903.8" x2="819.4" y2="1030.0"/>
<line x1="903.9" y1="958.0" x2="819.4" y2="1030.0"/>
<line x1="903.9" y1="958.0" x2="989.8" y2="835.6"/>
<line x1="903.9" y1="958.0" x2="799.1" y2="1074.5"/>
<line x1="926.0" y1="950.7" x2="989.8" y2="835.6"/>
<line x1="926.0" y1="950.7" x2="819.4" y2="1030.0"/>
<line x1="926.0" y1="950.7" x2="988.2" y2="800.2"/>
<line x1="936.7" y1="1037.2" x2="819.4" y2="1030.0"/>
<line x1="936.7" y1="1037.2" x2="799.1" y2="1074.5"/>
<line x1="911.5" y1="984.3" x2="819.4" y2="1030.0"/>
<line x1="911.5" y1="984.3" x2="799.1" y2="1074.5"/>
<line x1="911.5" y1="984.3" x2="989.8" y2="835.6"/>
<line x1="899.8" y1="988.6" x2="819.4" y2="1030.0"/>
<line x1="899.8" y1="988.6" x2="799.1" y2="1074.5"/>
<line x1="899.8" y1="988.6" x2="738.8" y2="1003.8"/>
<line x1="894.7" y1="881.5" x2="988.2" y2="800.2"/>
<line x1="894.7" y1="881.5" x2="756.6" y2="892.2"/>
<line x1="918.0" y1="882.9" x2="988.2" y2="800.2"/>
<line x1="918.0" y1="882.9" x2="865.4" y2="730.2"/>
<line x1="846.2" y1="761.6" x2="736.9" y2="840.6"/>
<line x1="876.9" y1="763.8" x2="988.2" y2="800.2"/>
<line x1="902.4" y1="775.4" x2="989.8" y2="835.6"/>
<line x1="851.4" y1="776.9" x2="736.9" y2="840.6"/>
<line x1="685.0" y1="865.0" x2="736.9" y2="840.6"/>
<line x1="685.0" y1="865.0" x2="756.6" y2="892.2"/>
<line x1="729.2" y1="861.7" x2="736.9" y2="840.6"/>
<line x1="729.2" y1="861.7" x2="756.6" y2="892.2"/>
<line x1="738.3" y1="867.5" x2="736.9" y2="840.6"/>
<line x1="738.3" y1="867.5" x2="756.6" y2="892.2"/>
<line x1="676.7" y1="882.1" x2="630.0" y2="929.7"/>
<line x1="676.7" y1="882.1" x2="736.9" y2="840.6"/>
<line x1="727.5" y1="903.3" x2="756.6" y2="892.2"/>
<line x1="727.5" y1="903.3" x2="736.9" y2="840.6"/>
<line x1="686.7" y1="906.7" x2="630.0" y2="929.7"/>
<line x1="686.7" y1="906.7" x2="756.6" y2="892.2"/>
<line x1="747.5" y1="914.2" x2="756.6" y2="892.2"/>
<line x1="747.5" y1="914.2" x2="736.9" y2="840.6"/>
<line x1="748.5" y1="760.9" x2="690.9" y2="892.2"/>
<line x1="739.7" y1="805.9" x2="690.9" y2="892.2"/>
<line x1="746.3" y1="805.0" x2="690.9" y2="892.2"/>
<line x1="764.1" y1="791.9" x2="690.9" y2="892.2"/>
<line x1="774.4" y1="792.8" x2="690.9" y2="892.2"/>
<line x1="795.0" y1="790.0" x2="690.9" y2="892.2"/>
<line x1="585.0" y1="815.3" x2="690.9" y2="892.2"/>
<line x1="777.2" y1="818.1" x2="690.9" y2="892.2"/>
<line x1="791.3" y1="819.1" x2="690.9" y2="892.2"/>
<line x1="804.4" y1="819.1" x2="690.9" y2="892.2"/>
<line x1="819.4" y1="824.7" x2="690.9" y2="892.2"/>
<line x1="789.4" y1="830.3" x2="690.9" y2="892.2"/>
<line x1="817.5" y1="836.9" x2="690.9" y2="892.2"/>
<line x1="736.9" y1="840.6" x2="690.9" y2="892.2"/>
<line x1="551.3" y1="862.2" x2="690.9" y2="892.2"/>
<line x1="756.6" y1="892.2" x2="690.9" y2="892.2"/>
<line x1="810.0" y1="901.6" x2="690.9" y2="892.2"/>
<line x1="817.5" y1="895.9" x2="690.9" y2="892.2"/>
<line x1="823.1" y1="905.3" x2="690.9" y2="892.2"/>
<line x1="834.4" y1="921.3" x2="690.9" y2="892.2"/>
<line x1="555.0" y1="912.2" x2="690.9" y2="892.2"/>
<line x1="558.8" y1="920.0" x2="690.9" y2="892.2"/>
<line x1="571.9" y1="907.2" x2="690.9" y2="892.2"/>
<line x1="821.3" y1="955.0" x2="690.9" y2="892.2"/>
<line x1="584.1" y1="949.4" x2="690.9" y2="892.2"/>
<line x1="591.6" y1="958.8" x2="690.9" y2="892.2"/>
<line x1="557.8" y1="940.0" x2="690.9" y2="892.2"/>
<line x1="616.9" y1="973.8" x2="690.9" y2="892.2"/>
<line x1="731.3" y1="987.8" x2="690.9" y2="892.2"/>
<line x1="738.8" y1="1003.8" x2="690.9" y2="892.2"/>
<line x1="613.1" y1="985.0" x2="690.9" y2="892.2"/>
<line x1="587.8" y1="991.6" x2="690.9" y2="892.2"/>
<line x1="590.6" y1="1001.9" x2="690.9" y2="892.2"/>
<line x1="638.4" y1="1001.9" x2="690.9" y2="892.2"/>
<line x1="688.1" y1="1007.5" x2="690.9" y2="892.2"/>
<line x1="642.2" y1="1019.7" x2="690.9" y2="892.2"/>
<line x1="699.4" y1="1020.6" x2="690.9" y2="892.2"/>
<line x1="671.3" y1="1029.1" x2="690.9" y2="892.2"/>
<line x1="650.6" y1="1030.9" x2="690.9" y2="892.2"/>
<line x1="955.4" y1="721.0" x2="988.2" y2="800.2"/>
<line x1="974.2" y1="803.3" x2="988.2" y2="800.2"/>
<line x1="984.6" y1="824.2" x2="988.2" y2="800.2"/>
<line x1="995.5" y1="812.0" x2="988.2" y2="800.2"/>
<line x1="989.8" y1="835.6" x2="988.2" y2="800.2"/>
<line x1="958.0" y1="873.6" x2="988.2" y2="800.2"/>
<line x1="990.3" y1="881.5" x2="988.2" y2="800.2"/>
<line x1="1019.0" y1="872.6" x2="988.2" y2="800.2"/>
<line x1="716.3" y1="887.5" x2="738.8" y2="1003.8"/>
<line x1="756.6" y1="892.2" x2="738.8" y2="1003.8"/>
<line x1="748.1" y1="901.6" x2="738.8" y2="1003.8"/>
<line x1="778.1" y1="901.6" x2="738.8" y2="1003.8"/>
<line x1="771.6" y1="907.2" x2="738.8" y2="1003.8"/>
<line x1="783.8" y1="911.9" x2="738.8" y2="1003.8"/>
<line x1="716.3" y1="912.8" x2="738.8" y2="1003.8"/>
<line x1="658.1" y1="921.3" x2="738.8" y2="1003.8"/>
<line x1="678.8" y1="925.9" x2="738.8" y2="1003.8"/>
<line x1="641.3" y1="975.6" x2="738.8" y2="1003.8"/>
<line x1="638.4" y1="1001.9" x2="738.8" y2="1003.8"/>
<line x1="819.4" y1="1030.0" x2="738.8" y2="1003.8"/>
<line x1="743.5" y1="1105.0" x2="738.8" y2="1003.8"/>
<line x1="627.1" y1="1044.7" x2="738.8" y2="1003.8"/>
<line x1="799.1" y1="1074.5" x2="738.8" y2="1003.8"/>
<line x1="727.5" y1="903.3" x2="738.8" y2="1003.8"/>
<line x1="686.7" y1="906.7" x2="738.8" y2="1003.8"/>
<line x1="747.5" y1="914.2" x2="738.8" y2="1003.8"/>
<line x1="572.8" y1="1016.9" x2="605.0" y2="1082.5"/>
<line x1="598.1" y1="1035.6" x2="605.0" y2="1082.5"/>
<line x1="556.9" y1="1021.9" x2="605.0" y2="1082.5"/>
<line x1="536.6" y1="1073.8" x2="605.0" y2="1082.5"/>
<line x1="533.3" y1="1103.8" x2="605.0" y2="1082.5"/>
<line x1="554.7" y1="1140.5" x2="605.0" y2="1082.5"/>
<line x1="570.8" y1="1098.7" x2="605.0" y2="1082.5"/>
<line x1="580.0" y1="1109.7" x2="605.0" y2="1082.5"/>
<line x1="578.8" y1="1132.0" x2="605.0" y2="1082.5"/>
<line x1="631.7" y1="1155.8" x2="605.0" y2="1082.5"/>
<line x1="607.5" y1="1148.3" x2="605.0" y2="1082.5"/>
<line x1="616.2" y1="1130.0" x2="605.0" y2="1082.5"/>
<line x1="626.7" y1="1134.5" x2="605.0" y2="1082.5"/>
<line x1="611.7" y1="1095.8" x2="605.0" y2="1082.5"/>
<line x1="631.8" y1="1089.0" x2="605.0" y2="1082.5"/>
<line x1="647.4" y1="1142.2" x2="605.0" y2="1082.5"/>
<line x1="658.2" y1="1100.9" x2="605.0" y2="1082.5"/>
<line x1="673.8" y1="1089.8" x2="605.0" y2="1082.5"/>
<line x1="675.8" y1="1096.9" x2="605.0" y2="1082.5"/>
<line x1="679.9" y1="1075.9" x2="605.0" y2="1082.5"/>
<line x1="669.1" y1="1078.6" x2="605.0" y2="1082.5"/>
<line x1="656.2" y1="1077.2" x2="605.0" y2="1082.5"/>
<line x1="606.1" y1="1068.4" x2="605.0" y2="1082.5"/>
<line x1="645.4" y1="1063.0" x2="605.0" y2="1082.5"/>
<line x1="568.3" y1="1037.5" x2="605.0" y2="1082.5"/>
<line x1="864.8" y1="646.3" x2="865.4" y2="730.2"/>
<line x1="874.0" y1="661.5" x2="865.4" y2="730.2"/>
<line x1="880.3" y1="671.8" x2="865.4" y2="730.2"/>
<line x1="918.1" y1="664.3" x2="865.4" y2="730.2"/>
<line x1="939.3" y1="668.9" x2="865.4" y2="730.2"/>
<line x1="897.5" y1="683.8" x2="865.4" y2="730.2"/>
<line x1="809.8" y1="665.5" x2="865.4" y2="730.2"/>
<line x1="821.3" y1="694.1" x2="865.4" y2="730.2"/>
<line x1="736.9" y1="840.6" x2="764.1" y2="791.9"/>
<line x1="710.6" y1="841.6" x2="764.1" y2="791.9"/>
<line x1="716.3" y1="866.9" x2="764.1" y2="791.9"/>
<line x1="729.2" y1="861.7" x2="764.1" y2="791.9"/>
<line x1="738.3" y1="867.5" x2="764.1" y2="791.9"/>
<line x1="756.6" y1="892.2" x2="736.9" y2="840.6"/>
<line x1="996.0" y1="746.6" x2="1018.4" y2="741.9"/>
<line x1="996.0" y1="746.6" x2="1027.8" y2="753.3"/>
<line x1="996.0" y1="746.6" x2="1039.8" y2="753.3"/>
<line x1="996.0" y1="746.6" x2="1041.7" y2="763.8"/>
<line x1="996.0" y1="746.6" x2="1060.1" y2="770.0"/>
<line x1="996.0" y1="746.6" x2="1049.2" y2="776.2"/>
<line x1="996.0" y1="746.6" x2="1010.6" y2="777.8"/>
<line x1="996.0" y1="746.6" x2="962.2" y2="768.4"/>
<line x1="996.0" y1="746.6" x2="967.0" y2="779.0"/>
<line x1="996.0" y1="746.6" x2="982.5" y2="760.6"/>
<line x1="996.0" y1="746.6" x2="1005.4" y2="762.7"/>
<line x1="996.0" y1="746.6" x2="974.2" y2="803.3"/>
<line x1="996.0" y1="746.6" x2="1003.3" y2="823.1"/>
<line x1="996.0" y1="746.6" x2="984.6" y2="824.2"/>
<line x1="996.0" y1="746.6" x2="995.5" y2="812.0"/>
<line x1="996.0" y1="746.6" x2="1010.0" y2="811.0"/>
<line x1="996.0" y1="746.6" x2="1013.0" y2="838.0"/>
<line x1="996.0" y1="746.6" x2="1053.3" y2="813.8"/>
<line x1="996.0" y1="746.6" x2="1057.5" y2="797.0"/>
<line x1="996.0" y1="746.6" x2="1041.7" y2="813.0"/>
<line x1="1018.4" y1="741.9" x2="1027.8" y2="753.3"/>
<line x1="1018.4" y1="741.9" x2="1039.8" y2="753.3"/>
<line x1="1018.4" y1="741.9" x2="1041.7" y2="763.8"/>
<line x1="1018.4" y1="741.9" x2="1060.1" y2="770.0"/>
<line x1="1018.4" y1="741.9" x2="1049.2" y2="776.2"/>
<line x1="1018.4" y1="741.9" x2="1010.6" y2="777.8"/>
<line x1="1018.4" y1="741.9" x2="962.2" y2="768.4"/>
<line x1="1018.4" y1="741.9" x2="967.0" y2="779.0"/>
<line x1="1018.4" y1="741.9" x2="982.5" y2="760.6"/>
<line x1="1018.4" y1="741.9" x2="1005.4" y2="762.7"/>
<line x1="1018.4" y1="741.9" x2="974.2" y2="803.3"/>
<line x1="1018.4" y1="741.9" x2="1003.3" y2="823.1"/>
<line x1="1018.4" y1="741.9" x2="984.6" y2="824.2"/>
<line x1="1018.4" y1="741.9" x2="995.5" y2="812.0"/>
<line x1="1018.4" y1="741.9" x2="1010.0" y2="811.0"/>
<line x1="1018.4" y1="741.9" x2="1059.0" y2="827.3"/>
<line x1="1018.4" y1="741.9" x2="1053.3" y2="813.8"/>
<line x1="1018.4" y1="741.9" x2="1057.5" y2="797.0"/>
<line x1="1018.4" y1="741.9" x2="1041.7" y2="813.0"/>
<line x1="1027.8" y1="753.3" x2="1039.8" y2="753.3"/>
<line x1="1027.8" y1="753.3" x2="1041.7" y2="763.8"/>
<line x1="1027.8" y1="753.3" x2="1060.1" y2="770.0"/>
<line x1="1027.8" y1="753.3" x2="1049.2" y2="776.2"/>
<line x1="1027.8" y1="753.3" x2="1010.6" y2="777.8"/>
<line x1="1027.8" y1="753.3" x2="962.2" y2="768.4"/>
<line x1="1027.8" y1="753.3" x2="967.0" y2="779.0"/>
<line x1="1027.8" y1="753.3" x2="982.5" y2="760.6"/>
<line x1="1027.8" y1="753.3" x2="1005.4" y2="762.7"/>
<line x1="1027.8" y1="753.3" x2="974.2" y2="803.3"/>
<line x1="1027.8" y1="753.3" x2="1003.3" y2="823.1"/>
<line x1="1027.8" y1="753.3" x2="984.6" y2="824.2"/>
<line x1="1027.8" y1="753.3" x2="995.5" y2="812.0"/>
<line x1="1027.8" y1="753.3" x2="1010.0" y2="811.0"/>
<line x1="1027.8" y1="753.3" x2="1013.0" y2="838.0"/>
<line x1="1027.8" y1="753.3" x2="1041.9" y2="841.9"/>
<line x1="1027.8" y1="753.3" x2="1059.0" y2="827.3"/>
<line x1="1027.8" y1="753.3" x2="1053.3" y2="813.8"/>
<line x1="1027.8" y1="753.3" x2="1057.5" y2="797.0"/>
<line x1="1027.8" y1="753.3" x2="1041.7" y2="813.0"/>
<line x1="1039.8" y1="753.3" x2="1041.7" y2="763.8"/>
<line x1="1039.8" y1="753.3" x2="1060.1" y2="770.0"/>
<line x1="1039.8" y1="753.3" x2="1049.2" y2="776.2"/>
<line x1="1039.8" y1="753.3" x2="1010.6" y2="777.8"/>
<line x1="1039.8" y1="753.3" x2="962.2" y2="768.4"/>
<line x1="1039.8" y1="753.3" x2="967.0" y2="779.0"/>
<line x1="1039.8" y1="753.3" x2="982.5" y2="760.6"/>
<line x1="1039.8" y1="753.3" x2="1005.4" y2="762.7"/>
<line x1="1039.8" y1="753.3" x2="974.2" y2="803.3"/>
<line x1="1039.8" y1="753.3" x2="1003.3" y2="823.1"/>
<line x1="1039.8" y1="753.3" x2="984.6" y2="824.2"/>
<line x1="1039.8" y1="753.3" x2="995.5" y2="812.0"/>
<line x1="1039.8" y1="753.3" x2="1010.0" y2="811.0"/>
<line x1="1039.8" y1="753.3" x2="1013.0" y2="838.0"/>
<line x1="1039.8" y1="753.3" x2="1041.9" y2="841.9"/>
<line x1="1039.8" y1="753.3" x2="1059.0" y2="827.3"/>
<line x1="1039.8" y1="753.3" x2="1053.3" y2="813.8"/>
<line x1="1039.8" y1="753.3" x2="1057.5" y2="797.0"/>
<line x1="1039.8" y1="753.3" x2="1041.7" y2="813.0"/>
<line x1="1041.7" y1="763.8" x2="1060.1" y2="770.0"/>
<line x1="1041.7" y1="763.8" x2="1049.2" y2="776.2"/>
<line x1="1041.7" y1="763.8" x2="1010.6" y2="777.8"/>
<line x1="1041.7" y1="763.8" x2="962.2" y2="768.4"/>
<line x1="1041.7" y1="763.8" x2="967.0" y2="779.0"/>
<line x1="1041.7" y1="763.8" x2="982.5" y2="760.6"/>
<line x1="1041.7" y1="763.8" x2="1005.4" y2="762.7"/>
<line x1="1041.7" y1="763.8" x2="974.2" y2="803.3"/>
<line x1="1041.7" y1="763.8" x2="1003.3" y2="823.1"/>
<line x1="1041.7" y1="763.8" x2="984.6" y2="824.2"/>
<line x1="1041.7" y1="763.8" x2="995.5" y2="812.0"/>
<line x1="1041.7" y1="763.8" x2="1010.0" y2="811.0"/>
<line x1="1041.7" y1="763.8" x2="1013.0" y2="838.0"/>
<line x1="1041.7" y1="763.8" x2="1041.9" y2="841.9"/>
<line x1="1041.7" y1="763.8" x2="1059.0" y2="827.3"/>
<line x1="1041.7" y1="763.8" x2="1053.3" y2="813.8"/>
<line x1="1041.7" y1="763.8" x2="1057.5" y2="797.0"/>
<line x1="1041.7" y1="763.8" x2="1041.7" y2="813.0"/>
<line x1="1060.1" y1="770.0" x2="1049.2" y2="776.2"/>
<line x1="1060.1" y1="770.0" x2="1010.6" y2="777.8"/>
<line x1="1060.1" y1="770.0" x2="967.0" y2="779.0"/>
<line x1="1060.1" y1="770.0" x2="982.5" y2="760.6"/>
<line x1="1060.1" y1="770.0" x2="1005.4" y2="762.7"/>
<line x1="1060.1" y1="770.0" x2="974.2" y2="803.3"/>
<line x1="1060.1" y1="770.0" x2="1003.3" y2="823.1"/>
<line x1="1060.1" y1="770.0" x2="984.6" y2="824.2"/>
<line x1="1060.1" y1="770.0" x2="995.5" y2="812.0"/>
<line x1="1060.1" y1="770.0" x2="1010.0" y2="811.0"/>
<line x1="1060.1" y1="770.0" x2="1013.0" y2="838.0"/>
<line x1="1060.1" y1="770.0" x2="1041.9" y2="841.9"/>
<line x1="1060.1" y1="770.0" x2="1059.0" y2="827.3"/>
<line x1="1060.1" y1="770.0" x2="1053.3" y2="813.8"/>
<line x1="1060.1" y1="770.0" x2="1057.5" y2="797.0"/>
<line x1="1060.1" y1="770.0" x2="1041.7" y2="813.0"/>
<line x1="1049.2" y1="776.2" x2="1010.6" y2="777.8"/>
<line x1="1049.2" y1="776.2" x2="962.2" y2="768.4"/>
<line x1="1049.2" y1="776.2" x2="967.0" y2="779.0"/>
<line x1="1049.2" y1="776.2" x2="982.5" y2="760.6"/>
<line x1="1049.2" y1="776.2" x2="1005.4" y2="762.7"/>
<line x1="1049.2" y1="776.2" x2="974.2" y2="803.3"/>
<line x1="1049.2" y1="776.2" x2="1003.3" y2="823.1"/>
<line x1="1049.2" y1="776.2" x2="984.6" y2="824.2"/>
<line x1="1049.2" y1="776.2" x2="995.5" y2="812.0"/>
<line x1="1049.2" y1="776.2" x2="1010.0" y2="811.0"/>
<line x1="1049.2" y1="776.2" x2="1013.0" y2="838.0"/>
<line x1="1049.2" y1="776.2" x2="1041.9" y2="841.9"/>
<line x1="1049.2" y1="776.2" x2="1059.0" y2="827.3"/>
<line x1="1049.2" y1="776.2" x2="1053.3" y2="813.8"/>
<line x1="1049.2" y1="776.2" x2="1057.5" y2="797.0"/>
<line x1="1049.2" y1="776.2" x2="1041.7" y2="813.0"/>
<line x1="1010.6" y1="777.8" x2="962.2" y2="768.4"/>
<line x1="1010.6" y1="777.8" x2="967.0" y2="779.0"/>
<line x1="1010.6" y1="777.8" x2="982.5" y2="760.6"/>
<line x1="1010.6" y1="777.8" x2="1005.4" y2="762.7"/>
<line x1="1010.6" y1="777.8" x2="974.2" y2="803.3"/>
<line x1="1010.6" y1="777.8" x2="1003.3" y2="823.1"/>
<line x1="1010.6" y1="777.8" x2="984.6" y2="824.2"/>
<line x1="1010.6" y1="777.8" x2="995.5" y2="812.0"/>
<line x1="1010.6" y1="777.8" x2="1010.0" y2="811.0"/>
<line x1="1010.6" y1="777.8" x2="1013.0" y2="838.0"/>
<line x1="1010.6" y1="777.8" x2="1041.9" y2="841.9"/>
<line x1="1010.6" y1="777.8" x2="1059.0" y2="827.3"/>
<line x1="1010.6" y1="777.8" x2="1053.3" y2="813.8"/>
<line x1="1010.6" y1="777.8" x2="1057.5" y2="797.0"/>
<line x1="1010.6" y1="777.8" x2="1041.7" y2="813.0"/>
<line x1="962.2" y1="768.4" x2="967.0" y2="779.0"/>
<line x1="962.2" y1="768.4" x2="982.5" y2="760.6"/>
<line x1="962.2" y1="768.4" x2="1005.4" y2="762.7"/>
<line x1="962.2" y1="768.4" x2="974.2" y2="803.3"/>
<line x1="962.2" y1="768.4" x2="1003.3" y2="823.1"/>
<line x1="962.2" y1="768.4" x2="984.6" y2="824.2"/>
<line x1="962.2" y1="768.4" x2="995.5" y2="812.0"/>
<line x1="962.2" y1="768.4" x2="1010.0" y2="811.0"/>
<line x1="962.2" y1="768.4" x2="1013.0" y2="838.0"/>
<line x1="962.2" y1="768.4" x2="1041.7" y2="813.0"/>
<line x1="967.0" y1="779.0" x2="982.5" y2="760.6"/>
<line x1="967.0" y1="779.0" x2="1005.4" y2="762.7"/>
<line x1="967.0" y1="779.0" x2="974.2" y2="803.3"/>
<line x1="967.0" y1="779.0" x2="1003.3" y2="823.1"/>
<line x1="967.0" y1="779.0" x2="984.6" y2="824.2"/>
<line x1="967.0" y1="779.0" x2="995.5" y2="812.0"/>
<line x1="967.0" y1="779.0" x2="1010.0" y2="811.0"/>
<line x1="967.0" y1="779.0" x2="1013.0" y2="838.0"/>
<line x1="967.0" y1="779.0" x2="1053.3" y2="813.8"/>
<line x1="967.0" y1="779.0" x2="1057.5" y2="797.0"/>
<line x1="967.0" y1="779.0" x2="1041.7" y2="813.0"/>
<line x1="982.5" y1="760.6" x2="1005.4" y2="762.7"/>
<line x1="982.5" y1="760.6" x2="974.2" y2="803.3"/>
<line x1="982.5" y1="760.6" x2="1003.3" y2="823.1"/>
<line x1="982.5" y1="760.6" x2="984.6" y2="824.2"/>
<line x1="982.5" y1="760.6" x2="995.5" y2="812.0"/>
<line x1="982.5" y1="760.6" x2="1010.0" y2="811.0"/>
<line x1="982.5" y1="760.6" x2="1013.0" y2="838.0"/>
<line x1="982.5" y1="760.6" x2="1053.3" y2="813.8"/>
<line x1="982.5" y1="760.6" x2="1057.5" y2="797.0"/>
<line x1="982.5" y1="760.6" x2="1041.7" y2="813.0"/>
<line x1="1005.4" y1="762.7" x2="974.2" y2="803.3"/>
<line x1="1005.4" y1="762.7" x2="1003.3" y2="823.1"/>
<line x1="1005.4" y1="762.7" x2="984.6" y2="824.2"/>
<line x1="1005.4" y1="762.7" x2="995.5" y2="812.0"/>
<line x1="1005.4" y1="762.7" x2="1010.0" y2="811.0"/>
<line x1="1005.4" y1="762.7" x2="1013.0" y2="838.0"/>
<line x1="1005.4" y1="762.7" x2="1041.9" y2="841.9"/>
<line x1="1005.4" y1="762.7" x2="1059.0" y2="827.3"/>
<line x1="1005.4" y1="762.7" x2="1053.3" y2="813.8"/>
<line x1="1005.4" y1="762.7" x2="1057.5" y2="797.0"/>
<line x1="1005.4" y1="762.7" x2="1041.7" y2="813.0"/>
<line x1="974.2" y1="803.3" x2="1003.3" y2="823.1"/>
<line x1="974.2" y1="803.3" x2="984.6" y2="824.2"/>
<line x1="974.2" y1="803.3" x2="995.5" y2="812.0"/>
<line x1="974.2" y1="803.3" x2="1010.0" y2="811.0"/>
<line x1="974.2" y1="803.3" x2="1013.0" y2="838.0"/>
<line x1="974.2" y1="803.3" x2="1041.9" y2="841.9"/>
<line x1="974.2" y1="803.3" x2="1059.0" y2="827.3"/>
<line x1="974.2" y1="803.3" x2="1053.3" y2="813.8"/>
<line x1="974.2" y1="803.3" x2="1057.5" y2="797.0"/>
<line x1="974.2" y1="803.3" x2="1041.7" y2="813.0"/>
<line x1="1003.3" y1="823.1" x2="984.6" y2="824.2"/>
<line x1="1003.3" y1="823.1" x2="995.5" y2="812.0"/>
<line x1="1003.3" y1="823.1" x2="1010.0" y2="811.0"/>
<line x1="1003.3" y1="823.1" x2="1013.0" y2="838.0"/>
<line x1="1003.3" y1="823.1" x2="1041.9" y2="841.9"/>
<line x1="1003.3" y1="823.1" x2="1059.0" y2="827.3"/>
<line x1="1003.3" y1="823.1" x2="1053.3" y2="813.8"/>
<line x1="1003.3" y1="823.1" x2="1057.5" y2="797.0"/>
<line x1="1003.3" y1="823.1" x2="1041.7" y2="813.0"/>
<line x1="984.6" y1="824.2" x2="995.5" y2="812.0"/>
<line x1="984.6" y1="824.2" x2="1010.0" y2="811.0"/>
<line x1="984.6" y1="824.2" x2="1013.0" y2="838.0"/>
<line x1="984.6" y1="824.2" x2="1041.9" y2="841.9"/>
<line x1="984.6" y1="824.2" x2="1059.0" y2="827.3"/>
<line x1="984.6" y1="824.2" x2="1053.3" y2="813.8"/>
<line x1="984.6" y1="824.2" x2="1057.5" y2="797.0"/>
<line x1="984.6" y1="824.2" x2="1041.7" y2="813.0"/>
<line x1="995.5" y1="812.0" x2="1010.0" y2="811.0"/>
<line x1="995.5" y1="812.0" x2="1013.0" y2="838.0"/>
<line x1="995.5" y1="812.0" x2="1041.9" y2="841.9"/>
<line x1="995.5" y1="812.0" x2="1059.0" y2="827.3"/>
<line x1="995.5" y1="812.0" x2="1053.3" y2="813.8"/>
<line x1="995.5" y1="812.0" x2="1057.5" y2="797.0"/>
<line x1="995.5" y1="812.0" x2="1041.7" y2="813.0"/>
<line x1="1010.0" y1="811.0" x2="1013.0" y2="838.0"/>
<line x1="1010.0" y1="811.0" x2="1041.9" y2="841.9"/>
<line x1="1010.0" y1="811.0" x2="1059.0" y2="827.3"/>
<line x1="1010.0" y1="811.0" x2="1053.3" y2="813.8"/>
<line x1="1010.0" y1="811.0" x2="1057.5" y2="797.0"/>
<line x1="1010.0" y1="811.0" x2="1041.7" y2="813.0"/>
<line x1="1013.0" y1="838.0" x2="1041.9" y2="841.9"/>
<line x1="1013.0" y1="838.0" x2="1059.0" y2="827.3"/>
<line x1="1013.0" y1="838.0" x2="1053.3" y2="813.8"/>
<line x1="1013.0" y1="838.0" x2="1057.5" y2="797.0"/>
<line x1="1013.0" y1="838.0" x2="1041.7" y2="813.0"/>
<line x1="1041.9" y1="841.9" x2="1059.0" y2="827.3"/>
<line x1="1041.9" y1="841.9" x2="1053.3" y2="813.8"/>
<line x1="1041.9" y1="841.9" x2="1057.5" y2="797.0"/>
<line x1="1041.9" y1="841.9" x2="1041.7" y2="813.0"/>
<line x1="1059.0" y1="827.3" x2="1053.3" y2="813.8"/>
<line x1="1059.0" y1="827.3" x2="1057.5" y2="797.0"/>
<line x1="1059.0" y1="827.3" x2="1041.7" y2="813.0"/>
<line x1="1053.3" y1="813.8" x2="1057.5" y2="797.0"/>
<line x1="1053.3" y1="813.8" x2="1041.7" y2="813.0"/>
<line x1="1057.5" y1="797.0" x2="1041.7" y2="813.0"/>
</g>
<g>
<circle cx="968.0" cy="133.0" r="6.0" fill="#002748"/>
<circle cx="969.0" cy="203.0" r="5.7" fill="#002748"/>
<circle cx="1029.0" cy="203.0" r="5.2" fill="#002748"/>
<circle cx="1069.0" cy="226.0" r="5.2" fill="#002748"/>
<circle cx="1005.5" cy="261.0" r="5.7" fill="#002748"/>
<circle cx="865.5" cy="243.0" r="5.7" fill="#002748"/>
<circle cx="876.0" cy="294.0" r="7.5" fill="#002748"/>
<circle cx="1045.5" cy="307.0" r="5.7" fill="#002748"/>
<circle cx="1013.0" cy="334.0" r="5.7" fill="#002748"/>
<circle cx="1130.0" cy="277.0" r="5.2" fill="#002748"/>
<circle cx="1178.5" cy="310.0" r="5.2" fill="#002748"/>
<circle cx="1125.5" cy="337.5" r="5.7" fill="#002748"/>
<circle cx="886.0" cy="348.0" r="5.7" fill="#002748"/>
<circle cx="1219.0" cy="364.0" r="5.2" fill="#002748"/>
<circle cx="841.0" cy="380.5" r="6.7" fill="#002748"/>
<circle cx="936.0" cy="371.0" r="5.7" fill="#002748"/>
<circle cx="1087.5" cy="384.0" r="5.2" fill="#002748"/>
<circle cx="1018.0" cy="404.0" r="5.7" fill="#002748"/>
<circle cx="1109.0" cy="405.0" r="5.2" fill="#002748"/>
<circle cx="1159.0" cy="405.5" r="5.2" fill="#002748"/>
<circle cx="1207.5" cy="402.5" r="5.7" fill="#002748"/>
<circle cx="898.0" cy="424.0" r="5.7" fill="#002748"/>
<circle cx="934.0" cy="432.0" r="5.7" fill="#002748"/>
<circle cx="1164.0" cy="427.5" r="5.7" fill="#002748"/>
<circle cx="1103.5" cy="445.0" r="6.2" fill="#002748"/>
<circle cx="1091.0" cy="450.5" r="5.7" fill="#002748"/>
<circle cx="864.5" cy="441.5" r="6.7" fill="#002748"/>
<circle cx="955.0" cy="444.5" r="5.7" fill="#002748"/>
<circle cx="991.0" cy="452.0" r="5.2" fill="#002748"/>
<circle cx="1171.0" cy="467.0" r="5.7" fill="#002748"/>
<circle cx="1039.0" cy="482.0" r="6.7" fill="#002748"/>
<circle cx="1110.0" cy="492.0" r="6.2" fill="#002748"/>
<circle cx="1132.0" cy="511.0" r="5.2" fill="#002748"/>
<circle cx="1257.0" cy="497.0" r="5.7" fill="#002748"/>
<circle cx="887.0" cy="512.0" r="6.7" fill="#002748"/>
<circle cx="918.0" cy="507.0" r="6.2" fill="#002748"/>
<circle cx="949.0" cy="508.0" r="5.7" fill="#002748"/>
<circle cx="821.0" cy="498.0" r="5.7" fill="#002748"/>
<circle cx="1072.0" cy="527.0" r="5.7" fill="#002748"/>
<circle cx="1254.0" cy="528.5" r="6.2" fill="#002748"/>
<circle cx="1205.0" cy="538.0" r="7.7" fill="#002748"/>
<circle cx="925.0" cy="536.5" r="5.7" fill="#002748"/>
<circle cx="949.0" cy="528.0" r="5.7" fill="#002748"/>
<circle cx="972.0" cy="536.0" r="6.2" fill="#002748"/>
<circle cx="987.0" cy="546.0" r="5.7" fill="#002748"/>
<circle cx="1082.0" cy="559.0" r="5.7" fill="#002748"/>
<circle cx="1027.5" cy="564.5" r="5.7" fill="#002748"/>
<circle cx="440.7" cy="353.7" r="5.7" fill="#002748"/>
<circle cx="512.5" cy="359.9" r="5.2" fill="#002748"/>
<circle cx="531.5" cy="400.2" r="6.2" fill="#002748"/>
<circle cx="435.0" cy="395.4" r="5.7" fill="#002748"/>
<circle cx="496.6" cy="428.2" r="6.2" fill="#002748"/>
<circle cx="487.3" cy="441.5" r="5.7" fill="#002748"/>
<circle cx="555.3" cy="457.5" r="6.2" fill="#002748"/>
<circle cx="625.4" cy="456.0" r="5.2" fill="#002748"/>
<circle cx="700.4" cy="367.2" r="5.2" fill="#002748"/>
<circle cx="742.3" cy="448.6" r="6.2" fill="#002748"/>
<circle cx="557.6" cy="493.0" r="6.2" fill="#002748"/>
<circle cx="739.8" cy="493.0" r="6.7" fill="#002748"/>
<circle cx="603.4" cy="502.9" r="6.7" fill="#002748"/>
<circle cx="599.3" cy="509.3" r="5.7" fill="#002748"/>
<circle cx="652.7" cy="496.0" r="6.2" fill="#002748"/>
<circle cx="655.0" cy="502.6" r="5.7" fill="#002748"/>
<circle cx="633.2" cy="516.0" r="5.7" fill="#002748"/>
<circle cx="584.0" cy="526.7" r="5.2" fill="#002748"/>
<circle cx="796.0" cy="509.8" r="5.7" fill="#002748"/>
<circle cx="773.5" cy="525.8" r="6.7" fill="#002748"/>
<circle cx="466.4" cy="524.2" r="5.7" fill="#002748"/>
<circle cx="428.8" cy="542.8" r="6.2" fill="#002748"/>
<circle cx="524.6" cy="567.0" r="5.7" fill="#002748"/>
<circle cx="485.4" cy="576.0" r="6.2" fill="#002748"/>
<circle cx="1357.0" cy="450.8" r="6.1" fill="#002748"/>
<circle cx="1307.2" cy="471.7" r="6.0" fill="#002748"/>
<circle cx="1347.5" cy="527.8" r="10.1" fill="#002748"/>
<circle cx="1225.8" cy="577.8" r="9.2" fill="#002748"/>
<circle cx="1299.2" cy="564.2" r="6.7" fill="#002748"/>
<circle cx="1307.2" cy="583.3" r="7.7" fill="#002748"/>
<circle cx="1366.3" cy="567.8" r="6.4" fill="#002748"/>
<circle cx="1170.0" cy="622.0" r="9.2" fill="#002748"/>
<circle cx="1230.8" cy="613.7" r="6.4" fill="#002748"/>
<circle cx="1302.2" cy="614.2" r="5.7" fill="#002748"/>
<circle cx="1270.0" cy="637.2" r="9.4" fill="#002748"/>
<circle cx="1340.8" cy="633.3" r="18.9" fill="#002748"/>
<circle cx="1235.8" cy="661.2" r="6.4" fill="#002748"/>
<circle cx="1196.7" cy="693.9" r="6.0" fill="#002748"/>
<circle cx="1276.2" cy="685.0" r="5.7" fill="#002748"/>
<circle cx="1373.0" cy="678.0" r="5.7" fill="#002748"/>
<circle cx="1404.7" cy="693.7" r="5.2" fill="#002748"/>
<circle cx="1377.5" cy="715.0" r="6.2" fill="#002748"/>
<circle cx="1333.7" cy="717.0" r="6.0" fill="#002748"/>
<circle cx="1283.3" cy="717.1" r="5.0" fill="#002748"/>
<circle cx="1246.6" cy="726.1" r="5.2" fill="#002748"/>
<circle cx="1161.5" cy="730.3" r="5.9" fill="#002748"/>
<circle cx="1133.3" cy="566.2" r="5.2" fill="#002748"/>
<circle cx="1130.0" cy="653.0" r="5.4" fill="#002748"/>
<circle cx="1138.5" cy="679.1" r="6.4" fill="#002748"/>
<circle cx="1161.3" cy="681.7" r="6.2" fill="#002748"/>
<circle cx="1408.7" cy="745.3" r="5.7" fill="#002748"/>
<circle cx="1479.2" cy="741.3" r="6.4" fill="#002748"/>
<circle cx="1547.2" cy="735.8" r="8.0" fill="#002748"/>
<circle cx="1316.7" cy="759.2" r="6.4" fill="#002748"/>
<circle cx="1377.3" cy="752.2" r="5.7" fill="#002748"/>
<circle cx="1285.6" cy="753.4" r="5.4" fill="#002748"/>
<circle cx="1403.3" cy="794.7" r="6.0" fill="#002748"/>
<circle cx="1467.8" cy="804.5" r="5.4" fill="#002748"/>
<circle cx="1527.0" cy="811.7" r="6.0" fill="#002748"/>
<circle cx="1294.7" cy="789.2" r="5.4" fill="#002748"/>
<circle cx="1322.5" cy="797.2" r="6.4" fill="#002748"/>
<circle cx="1310.0" cy="825.8" r="7.0" fill="#002748"/>
<circle cx="1405.0" cy="838.0" r="7.7" fill="#002748"/>
<circle cx="1324.5" cy="858.7" r="5.5" fill="#002748"/>
<circle cx="1297.2" cy="881.2" r="5.2" fill="#002748"/>
<circle cx="1350.3" cy="923.3" r="5.2" fill="#002748"/>
<circle cx="1435.8" cy="927.0" r="5.7" fill="#002748"/>
<circle cx="1313.3" cy="937.5" r="5.7" fill="#002748"/>
<circle cx="1337.0" cy="969.2" r="6.0" fill="#002748"/>
<circle cx="1433.5" cy="971.0" r="5.7" fill="#002748"/>
<circle cx="1120.0" cy="710.8" r="6.4" fill="#002748"/>
<circle cx="1217.7" cy="758.4" r="5.0" fill="#002748"/>
<circle cx="1225.0" cy="777.5" r="6.5" fill="#002748"/>
<circle cx="1231.2" cy="800.1" r="6.2" fill="#002748"/>
<circle cx="1138.5" cy="765.0" r="5.2" fill="#002748"/>
<circle cx="1124.8" cy="775.4" r="5.7" fill="#002748"/>
<circle cx="1145.0" cy="776.5" r="5.7" fill="#002748"/>
<circle cx="1143.8" cy="801.1" r="5.7" fill="#002748"/>
<circle cx="1157.9" cy="821.0" r="5.7" fill="#002748"/>
<circle cx="1247.7" cy="839.0" r="5.7" fill="#002748"/>
<circle cx="1122.4" cy="841.2" r="5.7" fill="#002748"/>
<circle cx="1188.3" cy="860.8" r="5.2" fill="#002748"/>
<circle cx="1257.5" cy="872.2" r="5.2" fill="#002748"/>
<circle cx="1147.5" cy="873.8" r="6.4" fill="#002748"/>
<circle cx="1158.7" cy="884.2" r="6.2" fill="#002748"/>
<circle cx="1175.0" cy="917.0" r="5.5" fill="#002748"/>
<circle cx="1143.0" cy="921.7" r="5.7" fill="#002748"/>
<circle cx="1159.7" cy="921.7" r="7.2" fill="#002748"/>
<circle cx="1266.7" cy="910.5" r="5.7" fill="#002748"/>
<circle cx="1241.2" cy="918.3" r="6.2" fill="#002748"/>
<circle cx="1242.5" cy="930.8" r="6.5" fill="#002748"/>
<circle cx="1213.8" cy="945.8" r="9.6" fill="#002748"/>
<circle cx="1225.3" cy="955.0" r="5.5" fill="#002748"/>
<circle cx="1199.7" cy="961.2" r="5.7" fill="#002748"/>
<circle cx="1266.7" cy="965.8" r="5.2" fill="#002748"/>
<circle cx="1299.2" cy="981.2" r="5.5" fill="#002748"/>
<circle cx="1287.2" cy="1000.0" r="5.2" fill="#002748"/>
<circle cx="1187.5" cy="975.0" r="6.5" fill="#002748"/>
<circle cx="1212.2" cy="989.5" r="6.4" fill="#002748"/>
<circle cx="1253.8" cy="1010.3" r="5.7" fill="#002748"/>
<circle cx="1308.8" cy="1025.5" r="5.5" fill="#002748"/>
<circle cx="1291.7" cy="1058.7" r="5.7" fill="#002748"/>
<circle cx="1356.3" cy="1053.0" r="6.0" fill="#002748"/>
<circle cx="1389.5" cy="1015.0" r="6.4" fill="#002748"/>
<circle cx="1400.5" cy="1021.2" r="5.0" fill="#002748"/>
<circle cx="1121.7" cy="997.5" r="5.7" fill="#002748"/>
<circle cx="1128.3" cy="1085.8" r="5.7" fill="#002748"/>
<circle cx="989.7" cy="580.0" r="5.4" fill="#002748"/>
<circle cx="1034.7" cy="599.6" r="5.4" fill="#002748"/>
<circle cx="1060.5" cy="600.3" r="5.5" fill="#002748"/>
<circle cx="1083.4" cy="617.8" r="5.5" fill="#002748"/>
<circle cx="998.9" cy="646.0" r="6.2" fill="#002748"/>
<circle cx="994.4" cy="655.8" r="5.5" fill="#002748"/>
<circle cx="1023.3" cy="656.7" r="5.5" fill="#002748"/>
<circle cx="1051.4" cy="646.2" r="5.5" fill="#002748"/>
<circle cx="1044.2" cy="670.1" r="5.5" fill="#002748"/>
<circle cx="1092.6" cy="654.8" r="6.0" fill="#002748"/>
<circle cx="985.3" cy="690.4" r="5.7" fill="#002748"/>
<circle cx="1016.2" cy="687.3" r="5.7" fill="#002748"/>
<circle cx="1029.3" cy="702.5" r="5.5" fill="#002748"/>
<circle cx="1070.2" cy="701.9" r="5.5" fill="#002748"/>
<circle cx="1077.7" cy="714.9" r="5.7" fill="#002748"/>
<circle cx="1058.8" cy="731.0" r="5.7" fill="#002748"/>
<circle cx="1028.5" cy="722.5" r="5.2" fill="#002748"/>
<circle cx="974.2" cy="729.9" r="6.2" fill="#002748"/>
<circle cx="960.0" cy="643.3" r="6.7" fill="#002748"/>
<circle cx="955.4" cy="721.0" r="6.2" fill="#002748"/>
<circle cx="974.2" cy="739.8" r="6.2" fill="#002748"/>
<circle cx="996.0" cy="746.6" r="5.5" fill="#002748"/>
<circle cx="1018.4" cy="741.9" r="5.5" fill="#002748"/>
<circle cx="1027.8" cy="753.3" r="6.2" fill="#002748"/>
<circle cx="1039.8" cy="753.3" r="6.2" fill="#002748"/>
<circle cx="1041.7" cy="763.8" r="6.2" fill="#002748"/>
<circle cx="1060.1" cy="770.0" r="6.7" fill="#002748"/>
<circle cx="1049.2" cy="776.2" r="6.2" fill="#002748"/>
<circle cx="1010.6" cy="777.8" r="5.7" fill="#002748"/>
<circle cx="962.2" cy="768.4" r="5.7" fill="#002748"/>
<circle cx="967.0" cy="779.0" r="5.7" fill="#002748"/>
<circle cx="982.5" cy="760.6" r="5.2" fill="#002748"/>
<circle cx="1005.4" cy="762.7" r="5.7" fill="#002748"/>
<circle cx="988.2" cy="800.2" r="6.4" fill="#f6c500"/>
<circle cx="974.2" cy="803.3" r="5.7" fill="#002748"/>
<circle cx="1003.3" cy="823.1" r="6.5" fill="#002748"/>
<circle cx="984.6" cy="824.2" r="5.7" fill="#002748"/>
<circle cx="995.5" cy="812.0" r="5.7" fill="#002748"/>
<circle cx="1010.0" cy="811.0" r="6.2" fill="#002748"/>
<circle cx="989.8" cy="835.6" r="6.4" fill="#f6c500"/>
<circle cx="1013.0" cy="838.0" r="5.7" fill="#002748"/>
<circle cx="1013.8" cy="847.1" r="6.2" fill="#002748"/>
<circle cx="935.6" cy="809.6" r="5.2" fill="#002748"/>
<circle cx="935.6" cy="823.6" r="6.5" fill="#002748"/>
<circle cx="932.0" cy="843.0" r="5.7" fill="#002748"/>
<circle cx="938.8" cy="853.3" r="5.7" fill="#002748"/>
<circle cx="958.0" cy="873.6" r="5.7" fill="#002748"/>
<circle cx="990.3" cy="881.5" r="6.2" fill="#002748"/>
<circle cx="1019.0" cy="872.6" r="6.2" fill="#002748"/>
<circle cx="1041.9" cy="841.9" r="5.7" fill="#002748"/>
<circle cx="1059.0" cy="827.3" r="5.5" fill="#002748"/>
<circle cx="1072.5" cy="816.7" r="5.7" fill="#002748"/>
<circle cx="1053.3" cy="813.8" r="6.2" fill="#002748"/>
<circle cx="1057.5" cy="797.0" r="5.7" fill="#002748"/>
<circle cx="1064.8" cy="852.3" r="6.2" fill="#002748"/>
<circle cx="1060.1" cy="862.7" r="6.2" fill="#002748"/>
<circle cx="1066.9" cy="879.9" r="6.2" fill="#002748"/>
<circle cx="1106.0" cy="853.3" r="5.7" fill="#002748"/>
<circle cx="1109.6" cy="874.2" r="5.7" fill="#002748"/>
<circle cx="1115.0" cy="900.0" r="7.2" fill="#002748"/>
<circle cx="1030.8" cy="935.0" r="6.2" fill="#002748"/>
<circle cx="1034.2" cy="915.0" r="6.2" fill="#002748"/>
<circle cx="1047.5" cy="921.7" r="5.7" fill="#002748"/>
<circle cx="1056.7" cy="926.7" r="5.7" fill="#002748"/>
<circle cx="908.3" cy="825.0" r="5.7" fill="#002748"/>
<circle cx="909.2" cy="804.2" r="5.7" fill="#002748"/>
<circle cx="921.7" cy="791.7" r="6.2" fill="#002748"/>
<circle cx="891.7" cy="791.7" r="6.2" fill="#002748"/>
<circle cx="1041.7" cy="813.0" r="5.7" fill="#002748"/>
<circle cx="1066.0" cy="808.0" r="5.2" fill="#002748"/>
<circle cx="838.3" cy="554.0" r="5.5" fill="#002748"/>
<circle cx="843.3" cy="570.0" r="5.7" fill="#002748"/>
<circle cx="770.1" cy="561.5" r="5.7" fill="#002748"/>
<circle cx="817.3" cy="583.0" r="5.7" fill="#002748"/>
<circle cx="833.3" cy="584.7" r="6.2" fill="#002748"/>
<circle cx="860.5" cy="584.1" r="5.7" fill="#002748"/>
<circle cx="878.0" cy="593.5" r="6.2" fill="#002748"/>
<circle cx="905.9" cy="598.7" r="5.7" fill="#002748"/>
<circle cx="933.6" cy="587.6" r="5.7" fill="#002748"/>
<circle cx="960.2" cy="602.2" r="6.2" fill="#002748"/>
<circle cx="943.3" cy="605.3" r="6.2" fill="#002748"/>
<circle cx="964.5" cy="615.0" r="5.7" fill="#002748"/>
<circle cx="911.3" cy="612.0" r="5.2" fill="#002748"/>
<circle cx="785.2" cy="615.9" r="6.2" fill="#002748"/>
<circle cx="806.4" cy="611.0" r="5.7" fill="#002748"/>
<circle cx="807.6" cy="623.1" r="5.5" fill="#002748"/>
<circle cx="830.5" cy="618.0" r="5.7" fill="#002748"/>
<circle cx="864.8" cy="646.3" r="5.7" fill="#002748"/>
<circle cx="853.2" cy="652.3" r="6.5" fill="#002748"/>
<circle cx="841.4" cy="660.0" r="5.7" fill="#002748"/>
<circle cx="874.0" cy="661.5" r="6.5" fill="#002748"/>
<circle cx="880.3" cy="671.8" r="6.5" fill="#002748"/>
<circle cx="859.7" cy="664.9" r="5.7" fill="#002748"/>
<circle cx="918.1" cy="664.3" r="5.2" fill="#002748"/>
<circle cx="939.3" cy="668.9" r="5.7" fill="#002748"/>
<circle cx="956.5" cy="674.6" r="5.7" fill="#002748"/>
<circle cx="897.5" cy="683.8" r="6.2" fill="#002748"/>
<circle cx="947.9" cy="685.5" r="6.2" fill="#002748"/>
<circle cx="919.9" cy="705.0" r="5.7" fill="#002748"/>
<circle cx="955.9" cy="703.3" r="5.2" fill="#002748"/>
<circle cx="867.7" cy="695.3" r="5.7" fill="#002748"/>
<circle cx="899.2" cy="707.9" r="6.2" fill="#002748"/>
<circle cx="927.3" cy="722.8" r="6.2" fill="#002748"/>
<circle cx="865.4" cy="730.2" r="6.7" fill="#002748"/>
<circle cx="892.9" cy="743.4" r="5.7" fill="#002748"/>
<circle cx="892.9" cy="754.3" r="5.7" fill="#002748"/>
<circle cx="920.4" cy="746.3" r="5.7" fill="#002748"/>
<circle cx="809.8" cy="665.5" r="5.7" fill="#002748"/>
<circle cx="821.3" cy="694.1" r="5.7" fill="#002748"/>
<circle cx="837.0" cy="698.7" r="6.0" fill="#002748"/>
<circle cx="838.8" cy="710.7" r="5.7" fill="#002748"/>
<circle cx="786.4" cy="718.8" r="5.7" fill="#002748"/>
<circle cx="799.0" cy="723.3" r="6.2" fill="#002748"/>
<circle cx="831.6" cy="732.5" r="5.7" fill="#002748"/>
<circle cx="871.7" cy="749.7" r="6.2" fill="#002748"/>
<circle cx="855.1" cy="754.3" r="6.2" fill="#002748"/>
<circle cx="778.3" cy="659.2" r="5.7" fill="#002748"/>
<circle cx="785.8" cy="658.0" r="5.7" fill="#002748"/>
<circle cx="777.2" cy="681.0" r="5.7" fill="#002748"/>
<circle cx="580.3" cy="705.6" r="6.2" fill="#002748"/>
<circle cx="602.8" cy="718.2" r="6.2" fill="#002748"/>
<circle cx="664.7" cy="718.2" r="6.2" fill="#002748"/>
<circle cx="720.9" cy="711.3" r="6.7" fill="#002748"/>
<circle cx="735.9" cy="702.8" r="5.7" fill="#002748"/>
<circle cx="572.8" cy="730.9" r="5.7" fill="#002748"/>
<circle cx="629.4" cy="733.8" r="5.7" fill="#002748"/>
<circle cx="664.7" cy="739.4" r="8.7" fill="#002748"/>
<circle cx="688.1" cy="736.9" r="6.2" fill="#002748"/>
<circle cx="699.8" cy="740.9" r="5.7" fill="#002748"/>
<circle cx="597.2" cy="764.7" r="5.7" fill="#002748"/>
<circle cx="617.8" cy="745.9" r="5.7" fill="#002748"/>
<circle cx="645.0" cy="764.7" r="5.7" fill="#002748"/>
<circle cx="657.2" cy="754.4" r="6.2" fill="#002748"/>
<circle cx="696.6" cy="755.3" r="5.7" fill="#002748"/>
<circle cx="710.6" cy="753.1" r="5.7" fill="#002748"/>
<circle cx="738.8" cy="748.4" r="5.7" fill="#002748"/>
<circle cx="748.5" cy="760.9" r="5.7" fill="#002748"/>
<circle cx="772.5" cy="760.0" r="5.7" fill="#002748"/>
<circle cx="780.9" cy="745.9" r="5.7" fill="#002748"/>
<circle cx="806.3" cy="750.6" r="6.2" fill="#002748"/>
<circle cx="816.6" cy="760.9" r="6.7" fill="#002748"/>
<circle cx="849.4" cy="750.6" r="5.7" fill="#002748"/>
<circle cx="845.6" cy="736.6" r="5.7" fill="#002748"/>
<circle cx="856.9" cy="771.3" r="5.7" fill="#002748"/>
<circle cx="563.4" cy="793.8" r="5.7" fill="#002748"/>
<circle cx="577.5" cy="787.6" r="5.7" fill="#002748"/>
<circle cx="625.3" cy="791.9" r="6.2" fill="#002748"/>
<circle cx="612.2" cy="803.1" r="5.7" fill="#002748"/>
<circle cx="628.1" cy="806.9" r="6.2" fill="#002748"/>
<circle cx="563.4" cy="805.9" r="5.7" fill="#002748"/>
<circle cx="665.6" cy="790.6" r="5.7" fill="#002748"/>
<circle cx="676.5" cy="799.4" r="6.2" fill="#002748"/>
<circle cx="700.3" cy="800.3" r="5.7" fill="#002748"/>
<circle cx="718.1" cy="800.3" r="5.7" fill="#002748"/>
<circle cx="712.5" cy="808.8" r="5.7" fill="#002748"/>
<circle cx="739.7" cy="805.9" r="6.7" fill="#002748"/>
<circle cx="746.3" cy="805.0" r="6.2" fill="#002748"/>
<circle cx="764.1" cy="791.9" r="7.2" fill="#002748"/>
<circle cx="774.4" cy="792.8" r="6.2" fill="#002748"/>
<circle cx="795.0" cy="790.0" r="6.2" fill="#002748"/>
<circle cx="821.3" cy="787.2" r="6.2" fill="#002748"/>
<circle cx="850.3" cy="788.1" r="6.2" fill="#002748"/>
<circle cx="585.0" cy="815.3" r="6.2" fill="#002748"/>
<circle cx="606.6" cy="812.5" r="5.7" fill="#002748"/>
<circle cx="650.6" cy="819.1" r="5.7" fill="#002748"/>
<circle cx="777.2" cy="818.1" r="5.7" fill="#002748"/>
<circle cx="791.3" cy="819.1" r="5.7" fill="#002748"/>
<circle cx="804.4" cy="819.1" r="5.7" fill="#002748"/>
<circle cx="819.4" cy="824.7" r="6.2" fill="#002748"/>
<circle cx="838.1" cy="820.0" r="6.2" fill="#002748"/>
<circle cx="847.5" cy="828.4" r="6.2" fill="#002748"/>
<circle cx="862.5" cy="835.0" r="6.7" fill="#002748"/>
<circle cx="789.4" cy="830.3" r="7.2" fill="#002748"/>
<circle cx="817.5" cy="836.9" r="6.2" fill="#002748"/>
<circle cx="736.9" cy="840.6" r="6.2" fill="#002748"/>
<circle cx="698.4" cy="829.4" r="5.7" fill="#002748"/>
<circle cx="671.3" cy="847.2" r="7.7" fill="#002748"/>
<circle cx="685.3" cy="841.6" r="6.2" fill="#002748"/>
<circle cx="710.6" cy="841.6" r="5.7" fill="#002748"/>
<circle cx="601.9" cy="831.3" r="6.2" fill="#002748"/>
<circle cx="615.9" cy="835.0" r="6.2" fill="#002748"/>
<circle cx="551.3" cy="862.2" r="5.7" fill="#002748"/>
<circle cx="573.8" cy="862.2" r="6.7" fill="#002748"/>
<circle cx="606.6" cy="856.6" r="6.2" fill="#002748"/>
<circle cx="659.1" cy="865.0" r="6.7" fill="#002748"/>
<circle cx="661.9" cy="873.4" r="6.2" fill="#002748"/>
<circle cx="692.8" cy="850.9" r="6.2" fill="#002748"/>
<circle cx="716.3" cy="866.9" r="6.2" fill="#002748"/>
<circle cx="760.3" cy="858.4" r="6.2" fill="#002748"/>
<circle cx="764.1" cy="863.1" r="6.2" fill="#002748"/>
<circle cx="772.5" cy="859.4" r="6.2" fill="#002748"/>
<circle cx="797.8" cy="863.1" r="6.2" fill="#002748"/>
<circle cx="835.3" cy="849.1" r="5.7" fill="#002748"/>
<circle cx="841.9" cy="859.4" r="5.7" fill="#002748"/>
<circle cx="856.9" cy="859.4" r="5.7" fill="#002748"/>
<circle cx="871.9" cy="855.6" r="6.2" fill="#002748"/>
<circle cx="860.6" cy="884.7" r="6.7" fill="#002748"/>
<circle cx="611.3" cy="878.1" r="6.7" fill="#002748"/>
<circle cx="603.8" cy="873.4" r="6.2" fill="#002748"/>
<circle cx="649.7" cy="884.7" r="5.7" fill="#002748"/>
<circle cx="669.4" cy="889.4" r="5.7" fill="#002748"/>
<circle cx="690.9" cy="892.2" r="6.7" fill="#f6c500"/>
<circle cx="624.4" cy="888.4" r="6.2" fill="#002748"/>
<circle cx="645.9" cy="895.9" r="5.7" fill="#002748"/>
<circle cx="716.3" cy="887.5" r="6.2" fill="#002748"/>
<circle cx="756.6" cy="892.2" r="6.7" fill="#002748"/>
<circle cx="748.1" cy="901.6" r="7.2" fill="#002748"/>
<circle cx="778.1" cy="901.6" r="6.2" fill="#002748"/>
<circle cx="798.8" cy="892.2" r="7.2" fill="#002748"/>
<circle cx="810.0" cy="901.6" r="6.2" fill="#002748"/>
<circle cx="817.5" cy="895.9" r="6.2" fill="#002748"/>
<circle cx="823.1" cy="905.3" r="6.2" fill="#002748"/>
<circle cx="849.4" cy="913.8" r="8.2" fill="#002748"/>
<circle cx="771.6" cy="907.2" r="6.2" fill="#002748"/>
<circle cx="783.8" cy="911.9" r="5.7" fill="#002748"/>
<circle cx="748.1" cy="923.1" r="7.2" fill="#002748"/>
<circle cx="834.4" cy="921.3" r="5.7" fill="#002748"/>
<circle cx="716.3" cy="912.8" r="6.7" fill="#002748"/>
<circle cx="658.1" cy="921.3" r="6.2" fill="#002748"/>
<circle cx="648.8" cy="913.8" r="6.2" fill="#002748"/>
<circle cx="555.0" cy="912.2" r="6.7" fill="#002748"/>
<circle cx="558.8" cy="920.0" r="6.2" fill="#002748"/>
<circle cx="571.9" cy="907.2" r="6.2" fill="#002748"/>
<circle cx="635.6" cy="921.3" r="6.2" fill="#002748"/>
<circle cx="630.0" cy="929.7" r="6.7" fill="#002748"/>
<circle cx="678.8" cy="925.9" r="6.2" fill="#002748"/>
<circle cx="665.6" cy="936.3" r="6.2" fill="#002748"/>
<circle cx="650.6" cy="943.8" r="7.2" fill="#002748"/>
<circle cx="645.0" cy="938.1" r="6.2" fill="#002748"/>
<circle cx="696.6" cy="944.7" r="6.7" fill="#002748"/>
<circle cx="720.0" cy="944.7" r="6.7" fill="#002748"/>
<circle cx="742.5" cy="940.9" r="6.2" fill="#002748"/>
<circle cx="755.6" cy="941.9" r="6.2" fill="#002748"/>
<circle cx="704.1" cy="955.0" r="6.2" fill="#002748"/>
<circle cx="715.3" cy="957.8" r="6.2" fill="#002748"/>
<circle cx="688.1" cy="959.7" r="7.2" fill="#002748"/>
<circle cx="668.4" cy="954.1" r="6.7" fill="#002748"/>
<circle cx="777.2" cy="950.3" r="6.2" fill="#002748"/>
<circle cx="793.1" cy="937.2" r="6.7" fill="#002748"/>
<circle cx="795.0" cy="961.6" r="6.2" fill="#002748"/>
<circle cx="821.3" cy="955.0" r="6.2" fill="#002748"/>
<circle cx="835.3" cy="949.4" r="7.2" fill="#002748"/>
<circle cx="865.1" cy="952.5" r="6.2" fill="#002748"/>
<circle cx="890.8" cy="945.6" r="5.2" fill="#002748"/>
<circle cx="584.1" cy="949.4" r="6.7" fill="#002748"/>
<circle cx="591.6" cy="958.8" r="6.2" fill="#002748"/>
<circle cx="557.8" cy="940.0" r="5.7" fill="#002748"/>
<circle cx="552.2" cy="972.8" r="6.7" fill="#002748"/>
<circle cx="616.9" cy="973.8" r="7.2" fill="#002748"/>
<circle cx="641.3" cy="975.6" r="6.7" fill="#002748"/>
<circle cx="653.4" cy="975.6" r="6.2" fill="#002748"/>
<circle cx="764.1" cy="974.7" r="7.2" fill="#002748"/>
<circle cx="810.9" cy="982.2" r="6.2" fill="#002748"/>
<circle cx="858.8" cy="988.8" r="6.2" fill="#002748"/>
<circle cx="869.1" cy="996.3" r="6.2" fill="#002748"/>
<circle cx="879.4" cy="970.0" r="6.2" fill="#002748"/>
<circle cx="681.6" cy="990.6" r="6.7" fill="#002748"/>
<circle cx="715.3" cy="991.6" r="6.7" fill="#002748"/>
<circle cx="731.3" cy="987.8" r="8.2" fill="#002748"/>
<circle cx="738.8" cy="1003.8" r="10.2" fill="#002748"/>
<circle cx="613.1" cy="985.0" r="6.2" fill="#002748"/>
<circle cx="587.8" cy="991.6" r="7.2" fill="#002748"/>
<circle cx="551.3" cy="989.7" r="6.7" fill="#002748"/>
<circle cx="590.6" cy="1001.9" r="6.7" fill="#002748"/>
<circle cx="638.4" cy="1001.9" r="6.7" fill="#002748"/>
<circle cx="688.1" cy="1007.5" r="6.7" fill="#002748"/>
<circle cx="807.2" cy="1004.7" r="5.7" fill="#002748"/>
<circle cx="851.3" cy="1014.1" r="6.2" fill="#002748"/>
<circle cx="871.9" cy="1011.3" r="6.2" fill="#002748"/>
<circle cx="572.8" cy="1016.9" r="6.2" fill="#002748"/>
<circle cx="642.2" cy="1019.7" r="7.2" fill="#002748"/>
<circle cx="699.4" cy="1020.6" r="7.2" fill="#002748"/>
<circle cx="671.3" cy="1029.1" r="6.7" fill="#002748"/>
<circle cx="765.9" cy="1022.5" r="6.7" fill="#002748"/>
<circle cx="806.3" cy="1031.9" r="6.2" fill="#002748"/>
<circle cx="819.4" cy="1030.0" r="8.2" fill="#002748"/>
<circle cx="650.6" cy="1030.9" r="7.7" fill="#002748"/>
<circle cx="598.1" cy="1035.6" r="7.2" fill="#002748"/>
<circle cx="615.0" cy="1038.4" r="6.2" fill="#002748"/>
<circle cx="761.3" cy="1035.6" r="6.2" fill="#002748"/>
<circle cx="811.9" cy="1039.4" r="7.2" fill="#002748"/>
<circle cx="636.2" cy="559.4" r="5.7" fill="#002748"/>
<circle cx="634.4" cy="575.6" r="5.2" fill="#002748"/>
<circle cx="659.4" cy="561.9" r="5.7" fill="#002748"/>
<circle cx="679.8" cy="571.9" r="6.7" fill="#002748"/>
<circle cx="700.6" cy="570.6" r="5.7" fill="#002748"/>
<circle cx="719.4" cy="569.4" r="6.2" fill="#002748"/>
<circle cx="756.9" cy="562.5" r="6.7" fill="#002748"/>
<circle cx="748.8" cy="575.6" r="5.7" fill="#002748"/>
<circle cx="648.8" cy="593.8" r="5.7" fill="#002748"/>
<circle cx="641.2" cy="622.5" r="5.7" fill="#002748"/>
<circle cx="704.4" cy="615.0" r="6.2" fill="#002748"/>
<circle cx="709.4" cy="620.0" r="5.7" fill="#002748"/>
<circle cx="738.8" cy="640.6" r="5.7" fill="#002748"/>
<circle cx="756.2" cy="638.1" r="5.7" fill="#002748"/>
<circle cx="700.6" cy="651.9" r="6.2" fill="#002748"/>
<circle cx="719.4" cy="648.8" r="5.2" fill="#002748"/>
<circle cx="737.5" cy="668.1" r="5.7" fill="#002748"/>
<circle cx="751.9" cy="659.4" r="5.7" fill="#002748"/>
<circle cx="758.8" cy="659.4" r="5.7" fill="#002748"/>
<circle cx="721.9" cy="690.0" r="5.7" fill="#002748"/>
<circle cx="753.8" cy="694.4" r="6.2" fill="#002748"/>
<circle cx="686.9" cy="685.6" r="7.7" fill="#002748"/>
<circle cx="687.5" cy="696.2" r="6.7" fill="#002748"/>
<circle cx="615.0" cy="671.9" r="7.2" fill="#002748"/>
<circle cx="566.9" cy="676.9" r="5.7" fill="#002748"/>
<circle cx="600.0" cy="681.2" r="5.7" fill="#002748"/>
<circle cx="636.9" cy="688.8" r="6.2" fill="#002748"/>
<circle cx="646.9" cy="683.1" r="5.7" fill="#002748"/>
<circle cx="564.4" cy="615.0" r="6.2" fill="#002748"/>
<circle cx="563.1" cy="620.0" r="5.7" fill="#002748"/>
<circle cx="365.0" cy="616.3" r="5.5" fill="#002748"/>
<circle cx="410.8" cy="637.8" r="5.5" fill="#002748"/>
<circle cx="381.2" cy="660.8" r="5.5" fill="#002748"/>
<circle cx="337.8" cy="679.7" r="5.5" fill="#002748"/>
<circle cx="469.2" cy="632.0" r="6.7" fill="#002748"/>
<circle cx="499.2" cy="621.2" r="6.2" fill="#002748"/>
<circle cx="544.2" cy="631.7" r="5.5" fill="#002748"/>
<circle cx="513.0" cy="671.3" r="5.5" fill="#002748"/>
<circle cx="460.5" cy="677.5" r="5.0" fill="#002748"/>
<circle cx="484.7" cy="680.3" r="5.0" fill="#002748"/>
<circle cx="434.2" cy="692.8" r="5.5" fill="#002748"/>
<circle cx="452.2" cy="695.0" r="5.7" fill="#002748"/>
<circle cx="413.3" cy="704.7" r="6.7" fill="#002748"/>
<circle cx="405.0" cy="713.7" r="6.7" fill="#002748"/>
<circle cx="540.8" cy="694.7" r="5.5" fill="#002748"/>
<circle cx="550.8" cy="691.3" r="5.5" fill="#002748"/>
<circle cx="490.5" cy="711.7" r="6.2" fill="#002748"/>
<circle cx="370.8" cy="719.2" r="5.5" fill="#002748"/>
<circle cx="354.5" cy="732.5" r="5.5" fill="#002748"/>
<circle cx="437.5" cy="730.8" r="6.2" fill="#002748"/>
<circle cx="420.5" cy="744.2" r="6.2" fill="#002748"/>
<circle cx="389.2" cy="751.7" r="6.2" fill="#002748"/>
<circle cx="422.5" cy="755.8" r="6.2" fill="#002748"/>
<circle cx="462.2" cy="750.8" r="8.2" fill="#002748"/>
<circle cx="497.8" cy="743.0" r="7.7" fill="#002748"/>
<circle cx="525.8" cy="745.5" r="6.2" fill="#002748"/>
<circle cx="545.8" cy="759.5" r="7.2" fill="#002748"/>
<circle cx="520.3" cy="764.2" r="5.5" fill="#002748"/>
<circle cx="464.2" cy="770.0" r="5.2" fill="#002748"/>
<circle cx="488.0" cy="779.5" r="5.5" fill="#002748"/>
<circle cx="462.2" cy="789.7" r="6.2" fill="#002748"/>
<circle cx="539.2" cy="787.5" r="7.2" fill="#002748"/>
<circle cx="529.2" cy="795.0" r="5.5" fill="#002748"/>
<circle cx="528.3" cy="807.5" r="5.5" fill="#002748"/>
<circle cx="339.5" cy="779.2" r="5.5" fill="#002748"/>
<circle cx="310.8" cy="791.7" r="6.0" fill="#002748"/>
<circle cx="365.5" cy="807.5" r="6.7" fill="#002748"/>
<circle cx="335.3" cy="820.5" r="5.7" fill="#002748"/>
<circle cx="411.2" cy="818.3" r="6.2" fill="#002748"/>
<circle cx="441.7" cy="821.7" r="5.7" fill="#002748"/>
<circle cx="431.3" cy="841.7" r="6.0" fill="#002748"/>
<circle cx="440.8" cy="855.8" r="5.7" fill="#002748"/>
<circle cx="504.7" cy="852.5" r="6.2" fill="#002748"/>
<circle cx="509.5" cy="847.5" r="5.7" fill="#002748"/>
<circle cx="293.0" cy="858.7" r="5.5" fill="#002748"/>
<circle cx="375.0" cy="866.7" r="5.7" fill="#002748"/>
<circle cx="278.3" cy="876.3" r="5.7" fill="#002748"/>
<circle cx="267.5" cy="895.5" r="6.2" fill="#002748"/>
<circle cx="353.8" cy="898.0" r="6.7" fill="#002748"/>
<circle cx="332.5" cy="931.7" r="5.5" fill="#002748"/>
<circle cx="315.0" cy="955.5" r="5.7" fill="#002748"/>
<circle cx="338.3" cy="965.8" r="5.0" fill="#002748"/>
<circle cx="249.2" cy="1004.2" r="5.7" fill="#002748"/>
<circle cx="315.5" cy="1003.8" r="6.7" fill="#002748"/>
<circle cx="352.2" cy="1021.3" r="7.7" fill="#002748"/>
<circle cx="249.5" cy="1042.0" r="5.7" fill="#002748"/>
<circle cx="315.8" cy="1040.5" r="5.7" fill="#002748"/>
<circle cx="283.0" cy="1103.0" r="7.7" fill="#002748"/>
<circle cx="326.7" cy="1100.8" r="5.2" fill="#002748"/>
<circle cx="354.5" cy="1120.0" r="6.2" fill="#002748"/>
<circle cx="73.3" cy="1122.5" r="6.7" fill="#002748"/>
<circle cx="131.7" cy="1135.5" r="7.2" fill="#002748"/>
<circle cx="254.5" cy="1135.3" r="5.2" fill="#002748"/>
<circle cx="302.8" cy="1145.5" r="6.2" fill="#002748"/>
<circle cx="378.8" cy="886.2" r="5.2" fill="#002748"/>
<circle cx="405.9" cy="897.9" r="5.7" fill="#002748"/>
<circle cx="450.4" cy="899.8" r="6.2" fill="#002748"/>
<circle cx="488.4" cy="892.1" r="5.7" fill="#002748"/>
<circle cx="479.6" cy="909.1" r="6.2" fill="#002748"/>
<circle cx="377.5" cy="917.5" r="6.2" fill="#002748"/>
<circle cx="410.2" cy="927.5" r="5.7" fill="#002748"/>
<circle cx="513.8" cy="935.4" r="6.2" fill="#002748"/>
<circle cx="491.6" cy="947.8" r="6.2" fill="#002748"/>
<circle cx="503.1" cy="952.5" r="5.7" fill="#002748"/>
<circle cx="520.4" cy="963.4" r="6.2" fill="#002748"/>
<circle cx="391.2" cy="944.4" r="6.2" fill="#002748"/>
<circle cx="403.1" cy="951.6" r="6.2" fill="#002748"/>
<circle cx="411.6" cy="966.9" r="5.7" fill="#002748"/>
<circle cx="419.4" cy="974.4" r="6.2" fill="#002748"/>
<circle cx="454.0" cy="987.5" r="5.7" fill="#002748"/>
<circle cx="498.1" cy="993.4" r="6.2" fill="#002748"/>
<circle cx="524.4" cy="979.4" r="5.7" fill="#002748"/>
<circle cx="528.1" cy="990.6" r="6.2" fill="#002748"/>
<circle cx="421.0" cy="996.2" r="5.7" fill="#002748"/>
<circle cx="402.9" cy="1020.0" r="7.7" fill="#002748"/>
<circle cx="432.1" cy="1004.4" r="5.7" fill="#002748"/>
<circle cx="489.8" cy="1013.1" r="7.2" fill="#002748"/>
<circle cx="541.0" cy="1013.1" r="5.7" fill="#002748"/>
<circle cx="505.2" cy="1022.5" r="5.7" fill="#002748"/>
<circle cx="556.9" cy="1021.9" r="7.2" fill="#002748"/>
<circle cx="456.9" cy="1037.9" r="6.2" fill="#002748"/>
<circle cx="425.4" cy="1042.5" r="5.7" fill="#002748"/>
<circle cx="363.4" cy="1053.4" r="5.7" fill="#002748"/>
<circle cx="431.6" cy="1056.0" r="6.2" fill="#002748"/>
<circle cx="469.4" cy="1058.8" r="5.7" fill="#002748"/>
<circle cx="528.5" cy="1048.1" r="6.2" fill="#002748"/>
<circle cx="498.5" cy="1063.8" r="6.7" fill="#002748"/>
<circle cx="536.6" cy="1073.8" r="5.7" fill="#002748"/>
<circle cx="495.6" cy="1081.2" r="6.7" fill="#002748"/>
<circle cx="515.0" cy="1083.8" r="6.2" fill="#002748"/>
<circle cx="372.1" cy="1082.1" r="5.7" fill="#002748"/>
<circle cx="400.2" cy="1088.4" r="5.7" fill="#002748"/>
<circle cx="575.0" cy="1047.5" r="7.2" fill="#002748"/>
<circle cx="90.0" cy="1170.3" r="5.7" fill="#002748"/>
<circle cx="173.3" cy="1163.3" r="5.7" fill="#002748"/>
<circle cx="250.5" cy="1168.0" r="7.2" fill="#002748"/>
<circle cx="230.5" cy="1205.8" r="5.2" fill="#002748"/>
<circle cx="195.0" cy="1243.0" r="5.2" fill="#002748"/>
<circle cx="452.0" cy="1109.2" r="5.7" fill="#002748"/>
<circle cx="407.0" cy="1140.8" r="5.5" fill="#002748"/>
<circle cx="430.5" cy="1158.7" r="5.5" fill="#002748"/>
<circle cx="471.2" cy="1168.8" r="5.5" fill="#002748"/>
<circle cx="503.3" cy="1159.2" r="6.2" fill="#002748"/>
<circle cx="405.0" cy="1190.8" r="5.5" fill="#002748"/>
<circle cx="442.8" cy="1205.0" r="5.7" fill="#002748"/>
<circle cx="439.5" cy="1221.7" r="5.7" fill="#002748"/>
<circle cx="387.5" cy="1242.5" r="6.2" fill="#002748"/>
<circle cx="514.7" cy="1208.7" r="6.7" fill="#002748"/>
<circle cx="471.7" cy="1251.7" r="6.7" fill="#002748"/>
<circle cx="527.5" cy="1170.8" r="5.7" fill="#002748"/>
<circle cx="533.3" cy="1103.8" r="5.5" fill="#002748"/>
<circle cx="531.2" cy="1125.8" r="5.5" fill="#002748"/>
<circle cx="554.7" cy="1140.5" r="5.7" fill="#002748"/>
<circle cx="514.7" cy="1100.0" r="6.2" fill="#002748"/>
<circle cx="570.8" cy="1098.7" r="5.7" fill="#002748"/>
<circle cx="580.0" cy="1109.7" r="6.2" fill="#002748"/>
<circle cx="578.8" cy="1132.0" r="5.7" fill="#002748"/>
<circle cx="579.2" cy="1159.2" r="6.2" fill="#002748"/>
<circle cx="590.0" cy="1164.2" r="6.2" fill="#002748"/>
<circle cx="583.0" cy="1198.3" r="6.7" fill="#002748"/>
<circle cx="573.8" cy="1227.5" r="6.7" fill="#002748"/>
<circle cx="613.0" cy="1207.8" r="5.7" fill="#002748"/>
<circle cx="623.3" cy="1228.3" r="5.2" fill="#002748"/>
<circle cx="643.3" cy="1226.3" r="5.7" fill="#002748"/>
<circle cx="637.2" cy="1178.3" r="6.2" fill="#002748"/>
<circle cx="631.7" cy="1155.8" r="7.2" fill="#002748"/>
<circle cx="607.5" cy="1148.3" r="6.2" fill="#002748"/>
<circle cx="616.2" cy="1130.0" r="6.2" fill="#002748"/>
<circle cx="626.7" cy="1134.5" r="5.7" fill="#002748"/>
<circle cx="605.0" cy="1082.5" r="9.2" fill="#002748"/>
<circle cx="611.7" cy="1095.8" r="6.2" fill="#002748"/>
<circle cx="631.8" cy="1089.0" r="5.7" fill="#002748"/>
<circle cx="541.7" cy="1283.3" r="5.7" fill="#002748"/>
<circle cx="485.0" cy="1299.2" r="5.7" fill="#002748"/>
<circle cx="493.7" cy="1320.0" r="5.7" fill="#002748"/>
<circle cx="437.5" cy="1340.8" r="5.2" fill="#002748"/>
<circle cx="485.0" cy="1360.0" r="6.7" fill="#002748"/>
<circle cx="556.7" cy="1324.2" r="6.7" fill="#002748"/>
<circle cx="556.3" cy="1354.2" r="5.7" fill="#002748"/>
<circle cx="642.8" cy="1285.0" r="6.2" fill="#002748"/>
<circle cx="635.3" cy="1328.3" r="5.7" fill="#002748"/>
<circle cx="688.0" cy="1283.3" r="11.7" fill="#002748"/>
<circle cx="710.0" cy="1310.0" r="5.5" fill="#002748"/>
<circle cx="746.7" cy="1303.8" r="6.7" fill="#002748"/>
<circle cx="786.2" cy="1322.2" r="5.5" fill="#002748"/>
<circle cx="823.3" cy="1325.0" r="5.7" fill="#002748"/>
<circle cx="847.0" cy="1329.7" r="10.2" fill="#002748"/>
<circle cx="872.2" cy="1313.3" r="5.5" fill="#002748"/>
<circle cx="898.3" cy="1306.2" r="5.7" fill="#002748"/>
<circle cx="930.8" cy="1349.2" r="5.7" fill="#002748"/>
<circle cx="841.3" cy="1293.0" r="6.2" fill="#002748"/>
<circle cx="796.7" cy="1361.7" r="6.2" fill="#002748"/>
<circle cx="812.0" cy="1425.3" r="6.7" fill="#002748"/>
<circle cx="822.5" cy="1488.3" r="9.7" fill="#002748"/>
<circle cx="873.3" cy="1528.0" r="6.7" fill="#002748"/>
<circle cx="820.5" cy="1562.5" r="8.2" fill="#002748"/>
<circle cx="830.8" cy="1585.7" r="5.0" fill="#002748"/>
<circle cx="871.5" cy="1599.3" r="6.0" fill="#002748"/>
<circle cx="745.8" cy="1608.8" r="5.5" fill="#002748"/>
<circle cx="772.1" cy="1609.6" r="5.7" fill="#002748"/>
<circle cx="805.6" cy="1626.9" r="8.2" fill="#002748"/>
<circle cx="922.4" cy="1615.5" r="6.5" fill="#002748"/>
<circle cx="1004.7" cy="1635.3" r="5.7" fill="#002748"/>
<circle cx="1046.7" cy="1667.5" r="6.7" fill="#002748"/>
<circle cx="960.8" cy="1648.8" r="5.7" fill="#002748"/>
<circle cx="1005.5" cy="1677.8" r="5.2" fill="#002748"/>
<circle cx="962.7" cy="1683.8" r="5.5" fill="#002748"/>
<circle cx="870.9" cy="1679.2" r="5.7" fill="#002748"/>
<circle cx="909.9" cy="1687.3" r="6.0" fill="#002748"/>
<circle cx="912.9" cy="1736.0" r="5.5" fill="#002748"/>
<circle cx="704.4" cy="1662.9" r="5.7" fill="#002748"/>
<circle cx="666.2" cy="1719.0" r="5.5" fill="#002748"/>
<circle cx="603.9" cy="1753.1" r="5.2" fill="#002748"/>
<circle cx="675.9" cy="1754.5" r="5.2" fill="#002748"/>
<circle cx="671.0" cy="1796.2" r="5.0" fill="#002748"/>
<circle cx="657.0" cy="1834.4" r="5.2" fill="#002748"/>
<circle cx="670.7" cy="1244.5" r="5.2" fill="#002748"/>
<circle cx="695.5" cy="1214.7" r="5.2" fill="#002748"/>
<circle cx="714.4" cy="1221.5" r="6.2" fill="#002748"/>
<circle cx="685.6" cy="1180.8" r="7.2" fill="#002748"/>
<circle cx="706.6" cy="1165.3" r="6.2" fill="#002748"/>
<circle cx="663.2" cy="1162.6" r="5.7" fill="#002748"/>
<circle cx="673.1" cy="1148.3" r="6.2" fill="#002748"/>
<circle cx="692.8" cy="1141.3" r="5.7" fill="#002748"/>
<circle cx="647.4" cy="1142.2" r="7.7" fill="#002748"/>
<circle cx="721.6" cy="1122.6" r="5.7" fill="#002748"/>
<circle cx="724.9" cy="1139.5" r="6.2" fill="#002748"/>
<circle cx="743.5" cy="1105.0" r="7.2" fill="#002748"/>
<circle cx="755.7" cy="1129.0" r="5.7" fill="#002748"/>
<circle cx="740.8" cy="1082.0" r="6.7" fill="#002748"/>
<circle cx="743.5" cy="1066.4" r="7.7" fill="#002748"/>
<circle cx="755.1" cy="1058.3" r="5.7" fill="#002748"/>
<circle cx="724.6" cy="1060.3" r="6.2" fill="#002748"/>
<circle cx="705.6" cy="1072.5" r="6.2" fill="#002748"/>
<circle cx="692.8" cy="1101.6" r="6.2" fill="#002748"/>
<circle cx="658.2" cy="1100.9" r="6.7" fill="#002748"/>
<circle cx="673.8" cy="1089.8" r="6.7" fill="#002748"/>
<circle cx="675.8" cy="1096.9" r="6.7" fill="#002748"/>
<circle cx="679.9" cy="1075.9" r="6.7" fill="#002748"/>
<circle cx="669.1" cy="1078.6" r="6.7" fill="#002748"/>
<circle cx="656.2" cy="1077.2" r="5.7" fill="#002748"/>
<circle cx="606.1" cy="1068.4" r="6.2" fill="#002748"/>
<circle cx="645.4" cy="1063.0" r="7.2" fill="#002748"/>
<circle cx="650.8" cy="1057.6" r="6.2" fill="#002748"/>
<circle cx="627.1" cy="1044.7" r="6.2" fill="#002748"/>
<circle cx="707.0" cy="1046.1" r="6.2" fill="#002748"/>
<circle cx="725.9" cy="1046.1" r="6.7" fill="#002748"/>
<circle cx="769.3" cy="1051.5" r="6.2" fill="#002748"/>
<circle cx="781.5" cy="1045.4" r="6.7" fill="#002748"/>
<circle cx="793.0" cy="1051.5" r="6.7" fill="#002748"/>
<circle cx="799.1" cy="1074.5" r="8.7" fill="#002748"/>
<circle cx="824.8" cy="1082.7" r="6.2" fill="#002748"/>
<circle cx="805.8" cy="1105.7" r="6.7" fill="#002748"/>
<circle cx="820.5" cy="1110.0" r="6.7" fill="#002748"/>
<circle cx="808.5" cy="1118.5" r="5.7" fill="#002748"/>
<circle cx="856.6" cy="1103.6" r="6.2" fill="#002748"/>
<circle cx="849.2" cy="1140.5" r="6.7" fill="#002748"/>
<circle cx="772.7" cy="1139.5" r="6.2" fill="#002748"/>
<circle cx="784.2" cy="1138.9" r="6.7" fill="#002748"/>
<circle cx="793.6" cy="1148.3" r="5.7" fill="#002748"/>
<circle cx="767.9" cy="1158.5" r="5.7" fill="#002748"/>
<circle cx="785.9" cy="1191.7" r="5.7" fill="#002748"/>
<circle cx="772.7" cy="1200.2" r="6.7" fill="#002748"/>
<circle cx="805.2" cy="1217.4" r="5.7" fill="#002748"/>
<circle cx="829.5" cy="1206.8" r="5.7" fill="#002748"/>
<circle cx="845.8" cy="1216.0" r="6.7" fill="#002748"/>
<circle cx="750.7" cy="1251.9" r="6.7" fill="#002748"/>
<circle cx="807.2" cy="1272.9" r="6.2" fill="#002748"/>
<circle cx="820.5" cy="1269.5" r="7.2" fill="#002748"/>
<circle cx="856.6" cy="1256.0" r="5.7" fill="#002748"/>
<circle cx="899.8" cy="895.3" r="6.2" fill="#002748"/>
<circle cx="922.4" cy="916.2" r="7.2" fill="#002748"/>
<circle cx="929.7" cy="928.9" r="6.7" fill="#002748"/>
<circle cx="947.9" cy="903.8" r="5.7" fill="#002748"/>
<circle cx="956.7" cy="920.1" r="5.7" fill="#002748"/>
<circle cx="903.9" cy="958.0" r="5.7" fill="#002748"/>
<circle cx="926.0" cy="950.7" r="5.7" fill="#002748"/>
<circle cx="974.2" cy="952.2" r="5.7" fill="#002748"/>
<circle cx="1002.6" cy="948.5" r="5.2" fill="#002748"/>
<circle cx="1046.8" cy="945.6" r="5.2" fill="#002748"/>
<circle cx="1004.1" cy="977.0" r="7.2" fill="#002748"/>
<circle cx="992.8" cy="982.1" r="5.7" fill="#002748"/>
<circle cx="1042.4" cy="987.9" r="6.7" fill="#002748"/>
<circle cx="1046.8" cy="1017.1" r="11.2" fill="#002748"/>
<circle cx="1075.5" cy="1014.5" r="6.7" fill="#002748"/>
<circle cx="1060.9" cy="1040.4" r="6.2" fill="#002748"/>
<circle cx="989.8" cy="1011.3" r="5.7" fill="#002748"/>
<circle cx="980.7" cy="1038.7" r="5.7" fill="#002748"/>
<circle cx="981.2" cy="1052.1" r="6.2" fill="#002748"/>
<circle cx="973.9" cy="1056.2" r="5.2" fill="#002748"/>
<circle cx="936.7" cy="1037.2" r="6.2" fill="#002748"/>
<circle cx="911.5" cy="984.3" r="6.7" fill="#002748"/>
<circle cx="899.8" cy="988.6" r="5.7" fill="#002748"/>
<circle cx="906.1" cy="1062.7" r="6.2" fill="#002748"/>
<circle cx="936.0" cy="1066.4" r="5.7" fill="#002748"/>
<circle cx="932.6" cy="1082.7" r="5.7" fill="#002748"/>
<circle cx="867.4" cy="1067.4" r="5.7" fill="#002748"/>
<circle cx="886.4" cy="1075.4" r="5.7" fill="#002748"/>
<circle cx="877.2" cy="1097.3" r="6.7" fill="#002748"/>
<circle cx="894.4" cy="1098.8" r="7.2" fill="#002748"/>
<circle cx="898.3" cy="1110.4" r="5.7" fill="#002748"/>
<circle cx="880.8" cy="1113.3" r="6.2" fill="#002748"/>
<circle cx="915.8" cy="1155.6" r="6.2" fill="#002748"/>
<circle cx="996.3" cy="1133.8" r="6.7" fill="#002748"/>
<circle cx="986.3" cy="1147.6" r="5.7" fill="#002748"/>
<circle cx="1042.7" cy="1102.4" r="6.2" fill="#002748"/>
<circle cx="1056.9" cy="1130.1" r="6.2" fill="#002748"/>
<circle cx="894.7" cy="881.5" r="6.2" fill="#002748"/>
<circle cx="918.0" cy="882.9" r="6.2" fill="#002748"/>
<circle cx="1032.0" cy="1179.2" r="5.2" fill="#002748"/>
<circle cx="1011.7" cy="1206.1" r="5.2" fill="#002748"/>
<circle cx="1065.9" cy="1219.0" r="5.2" fill="#002748"/>
<circle cx="1123.8" cy="1170.0" r="6.2" fill="#002748"/>
<circle cx="1098.0" cy="1190.5" r="5.2" fill="#002748"/>
<circle cx="883.6" cy="1263.3" r="6.2" fill="#002748"/>
<circle cx="864.2" cy="1172.1" r="6.2" fill="#002748"/>
<circle cx="846.2" cy="761.6" r="6.2" fill="#002748"/>
<circle cx="876.9" cy="763.8" r="6.2" fill="#002748"/>
<circle cx="902.4" cy="775.4" r="6.2" fill="#002748"/>
<circle cx="851.4" cy="776.9" r="5.7" fill="#002748"/>
<circle cx="685.0" cy="865.0" r="6.2" fill="#002748"/>
<circle cx="729.2" cy="861.7" r="6.2" fill="#002748"/>
<circle cx="738.3" cy="867.5" r="6.2" fill="#002748"/>
<circle cx="676.7" cy="882.1" r="6.2" fill="#002748"/>
<circle cx="727.5" cy="903.3" r="6.2" fill="#002748"/>
<circle cx="686.7" cy="906.7" r="6.2" fill="#002748"/>
<circle cx="747.5" cy="914.2" r="6.2" fill="#002748"/>
<circle cx="568.3" cy="1037.5" r="6.2" fill="#002748"/>
</g>
<g font-size="15.2" fill="#000" text-anchor="middle" letter-spacing="-0.55">
<text x="968.0" y="157.0">0422</text>
<text x="969.0" y="227.0">0421</text>
<text x="1029.0" y="227.0">2922</text>
<text x="1069.0" y="250.0">2232</text>
<text x="1005.5" y="285.0">2225</text>
<text x="865.5" y="267.0">7131</text>
<text x="876.0" y="318.0">7144</text>
<text x="1045.5" y="331.0">4234</text>
<text x="1013.0" y="358.0">2221</text>
<text x="1130.0" y="301.0">6541</text>
<text x="1178.5" y="334.0">2613</text>
<text x="1125.5" y="361.5">6511</text>
<text x="886.0" y="372.0">6551</text>
<text x="1219.0" y="388.0">8991</text>
<text x="841.0" y="404.5">5629</text>
<text x="936.0" y="395.0">6960</text>
<text x="1087.5" y="408.0">2614</text>
<text x="1018.0" y="428.0">0741</text>
<text x="1109.0" y="429.0">2685</text>
<text x="1159.0" y="429.5">6597</text>
<text x="1207.5" y="426.5">0811</text>
<text x="898.0" y="448.0">6553</text>
<text x="934.0" y="456.0">8952</text>
<text x="1164.0" y="451.5">4233</text>
<text x="1103.5" y="469.0">0577</text>
<text x="1091.0" y="474.5">2632</text>
<text x="864.5" y="465.5">5621</text>
<text x="955.0" y="468.5">8998</text>
<text x="991.0" y="476.0">8972</text>
<text x="1171.0" y="491.0">0112</text>
<text x="1039.0" y="506.0">2631</text>
<text x="1110.0" y="516.0">2879</text>
<text x="1132.0" y="535.0">2223</text>
<text x="1257.0" y="521.0">5622</text>
<text x="887.0" y="536.0">6612</text>
<text x="918.0" y="531.0">6552</text>
<text x="949.0" y="532.0">6993</text>
<text x="821.0" y="522.0">5912</text>
<text x="1072.0" y="551.0">2634</text>
<text x="1254.0" y="552.5">5225</text>
<text x="1205.0" y="562.0">3342</text>
<text x="925.0" y="560.5">0470</text>
<text x="949.0" y="552.0">6574</text>
<text x="972.0" y="560.0">8947</text>
<text x="987.0" y="570.0">7243</text>
<text x="1082.0" y="583.0">2238</text>
<text x="1027.5" y="588.5">0542</text>
<text x="440.7" y="377.7">0572</text>
<text x="512.5" y="383.9">4235</text>
<text x="531.5" y="424.2">0571</text>
<text x="435.0" y="419.4">6539</text>
<text x="496.6" y="452.2">4312</text>
<text x="487.3" y="465.5">6543</text>
<text x="555.3" y="481.5">0541</text>
<text x="625.4" y="480.0">7631</text>
<text x="700.4" y="391.2">7233</text>
<text x="742.3" y="472.6">7822</text>
<text x="557.6" y="517.0">6542</text>
<text x="739.8" y="517.0">6531</text>
<text x="603.4" y="526.9">2472</text>
<text x="599.3" y="533.3">6781</text>
<text x="652.7" y="520.0">0812</text>
<text x="655.0" y="526.6">7511</text>
<text x="633.2" y="540.0">7223</text>
<text x="584.0" y="550.7">5842</text>
<text x="796.0" y="533.8">2711</text>
<text x="773.5" y="549.8">7234</text>
<text x="466.4" y="548.2">2231</text>
<text x="428.8" y="566.8">2320</text>
<text x="524.6" y="591.0">4243</text>
<text x="485.4" y="600.0">4242</text>
<text x="1357.0" y="474.8">5222</text>
<text x="1307.2" y="495.7">2713</text>
<text x="1347.5" y="551.8">3413</text>
<text x="1225.8" y="601.8">3343</text>
<text x="1299.2" y="588.2">3362</text>
<text x="1307.2" y="607.3">7932</text>
<text x="1366.3" y="591.8">3345</text>
<text x="1170.0" y="646.0">3341</text>
<text x="1230.8" y="637.7">7938</text>
<text x="1302.2" y="638.2">7933</text>
<text x="1270.0" y="661.2">3344</text>
<text x="1340.8" y="657.3">3330</text>
<text x="1235.8" y="685.2">0573</text>
<text x="1196.7" y="717.9">2927</text>
<text x="1276.2" y="709.0">2926</text>
<text x="1373.0" y="702.0">1221</text>
<text x="1404.7" y="717.7">7435</text>
<text x="1377.5" y="739.0">0371</text>
<text x="1333.7" y="741.0">1223</text>
<text x="1283.3" y="741.1">2923</text>
<text x="1246.6" y="750.1">1213</text>
<text x="1161.5" y="754.3">1212</text>
<text x="1133.3" y="590.2">4241</text>
<text x="1130.0" y="677.0">5513</text>
<text x="1138.5" y="703.1">7146</text>
<text x="1161.3" y="705.7">0721</text>
<text x="1408.7" y="769.3">2782</text>
<text x="1479.2" y="765.3">6716</text>
<text x="1547.2" y="759.8">6841</text>
<text x="1316.7" y="783.2">0344</text>
<text x="1377.3" y="776.2">0343</text>
<text x="1285.6" y="777.4">2119</text>
<text x="1403.3" y="818.7">0814</text>
<text x="1467.8" y="828.5">4111</text>
<text x="1527.0" y="835.7">0372</text>
<text x="1294.7" y="813.2">0616</text>
<text x="1322.5" y="821.2">0350</text>
<text x="1310.0" y="849.8">0342</text>
<text x="1405.0" y="862.0">0360</text>
<text x="1324.5" y="882.7">9410</text>
<text x="1297.2" y="905.2">2655</text>
<text x="1350.3" y="947.3">2114</text>
<text x="1435.8" y="951.0">6116</text>
<text x="1313.3" y="961.5">2783</text>
<text x="1337.0" y="993.2">2117</text>
<text x="1433.5" y="995.0">6115</text>
<text x="1120.0" y="734.8">0711</text>
<text x="1217.7" y="782.4">4361</text>
<text x="1225.0" y="801.5">0341</text>
<text x="1231.2" y="824.1">6114</text>
<text x="1138.5" y="789.0">2911</text>
<text x="1124.8" y="799.4">2928</text>
<text x="1145.0" y="800.5">6113</text>
<text x="1143.8" y="825.1">8993</text>
<text x="1157.9" y="845.0">2924</text>
<text x="1247.7" y="863.0">0752</text>
<text x="1122.4" y="865.2">2789</text>
<text x="1188.3" y="884.8">2659</text>
<text x="1257.5" y="896.2">2654</text>
<text x="1147.5" y="897.8">6512</text>
<text x="1158.7" y="908.2">4232</text>
<text x="1175.0" y="941.0">6118</text>
<text x="1143.0" y="945.7">2660</text>
<text x="1159.7" y="945.7">0211</text>
<text x="1266.7" y="934.5">6112</text>
<text x="1241.2" y="942.3">2116</text>
<text x="1242.5" y="954.8">0440</text>
<text x="1213.8" y="969.8">3710</text>
<text x="1225.3" y="979.0">2640</text>
<text x="1199.7" y="985.2">2681</text>
<text x="1266.7" y="989.8">2235</text>
<text x="1299.2" y="1005.2">0459</text>
<text x="1287.2" y="1024.0">6545</text>
<text x="1187.5" y="999.0">4236</text>
<text x="1212.2" y="1013.5">0612</text>
<text x="1253.8" y="1034.3">2687</text>
<text x="1308.8" y="1049.5">6872</text>
<text x="1291.7" y="1082.7">2683</text>
<text x="1356.3" y="1077.0">8974</text>
<text x="1389.5" y="1039.0">0012</text>
<text x="1400.5" y="1045.2">0019</text>
<text x="1121.7" y="1021.5">2665</text>
<text x="1128.3" y="1109.8">2224</text>
<text x="989.7" y="604.0">0751</text>
<text x="1034.7" y="623.6">2633</text>
<text x="1060.5" y="624.3">0548</text>
<text x="1083.4" y="641.8">4249</text>
<text x="998.9" y="670.0">0545</text>
<text x="994.4" y="679.8">5832</text>
<text x="1023.3" y="680.7">0589</text>
<text x="1051.4" y="670.2">8481</text>
<text x="1044.2" y="694.1">6613</text>
<text x="1092.6" y="678.8">3354</text>
<text x="985.3" y="714.4">8471</text>
<text x="1016.2" y="711.3">6521</text>
<text x="1029.3" y="726.5">0546</text>
<text x="1070.2" y="725.9">2731</text>
<text x="1077.7" y="738.9">6931</text>
<text x="1058.8" y="755.0">1211</text>
<text x="1028.5" y="746.5">7248</text>
<text x="974.2" y="753.9">8997</text>
<text x="960.0" y="667.3">0579</text>
<text x="955.4" y="745.0">0565</text>
<text x="974.2" y="763.8">6731</text>
<text x="996.0" y="770.6">6583</text>
<text x="1018.4" y="765.9">8442</text>
<text x="1027.8" y="777.3">8458</text>
<text x="1039.8" y="777.3">8441</text>
<text x="1041.7" y="787.8">8459</text>
<text x="1060.1" y="794.0">8462</text>
<text x="1049.2" y="800.2">8423</text>
<text x="1010.6" y="801.8">8463</text>
<text x="962.2" y="792.4">8432</text>
<text x="967.0" y="803.0">8473</text>
<text x="982.5" y="784.6">8433</text>
<text x="1005.4" y="786.7">0586</text>
<text x="988.2" y="824.2">8421</text>
<text x="974.2" y="827.3">8452</text>
<text x="1003.3" y="847.1">8435</text>
<text x="984.6" y="848.2">8424</text>
<text x="995.5" y="836.0">6770</text>
<text x="1010.0" y="835.0">8429</text>
<text x="989.8" y="859.6">8434</text>
<text x="1013.0" y="862.0">8465</text>
<text x="1013.8" y="871.1">6123</text>
<text x="935.6" y="833.6">8122</text>
<text x="935.6" y="847.6">8510</text>
<text x="932.0" y="867.0">6589</text>
<text x="938.8" y="877.3">5837</text>
<text x="958.0" y="897.6">2667</text>
<text x="990.3" y="905.5">6516</text>
<text x="1019.0" y="896.6">6624</text>
<text x="1041.9" y="865.9">6518</text>
<text x="1059.0" y="851.3">6582</text>
<text x="1072.5" y="840.7">8464</text>
<text x="1053.3" y="837.8">8466</text>
<text x="1057.5" y="821.0">6575</text>
<text x="1064.8" y="876.3">0561</text>
<text x="1060.1" y="886.7">6122</text>
<text x="1066.9" y="903.9">2686</text>
<text x="1106.0" y="877.3">7612</text>
<text x="1109.6" y="898.2">6576</text>
<text x="1115.0" y="924.0">2890</text>
<text x="1030.8" y="959.0">6515</text>
<text x="1034.2" y="939.0">7252</text>
<text x="1047.5" y="945.7">5742</text>
<text x="1056.7" y="950.7">0118</text>
<text x="908.3" y="849.0">6354</text>
<text x="909.2" y="828.2">6733</text>
<text x="921.7" y="815.7">8212</text>
<text x="891.7" y="815.7">6732</text>
<text x="1041.7" y="837.0">7710</text>
<text x="1066.0" y="832.0">6581</text>
<text x="838.3" y="578.0">5914</text>
<text x="843.3" y="594.0">0488</text>
<text x="770.1" y="585.5">6532</text>
<text x="817.3" y="607.0">6982</text>
<text x="833.3" y="608.7">6522</text>
<text x="860.5" y="608.1">5921</text>
<text x="878.0" y="617.5">1123</text>
<text x="905.9" y="622.7">0460</text>
<text x="933.6" y="611.6">6560</text>
<text x="960.2" y="626.2">6513</text>
<text x="943.3" y="629.3">2826</text>
<text x="964.5" y="639.0">6259</text>
<text x="911.3" y="636.0">7271</text>
<text x="785.2" y="639.9">2914</text>
<text x="806.4" y="635.0">2690</text>
<text x="807.6" y="647.1">5323</text>
<text x="830.5" y="642.0">0712</text>
<text x="864.8" y="670.3">5911</text>
<text x="853.2" y="676.3">0819</text>
<text x="841.4" y="684.0">5541</text>
<text x="874.0" y="685.5">1222</text>
<text x="880.3" y="695.8">2882</text>
<text x="859.7" y="688.9">6654</text>
<text x="918.1" y="688.3">6951</text>
<text x="939.3" y="692.9">2925</text>
<text x="956.5" y="698.6">2112</text>
<text x="897.5" y="707.8">0224</text>
<text x="947.9" y="709.5">2111</text>
<text x="919.9" y="729.0">1110</text>
<text x="955.9" y="727.3">0564</text>
<text x="867.7" y="719.3">6921</text>
<text x="899.2" y="731.9">0581</text>
<text x="927.3" y="746.8">6252</text>
<text x="865.4" y="754.2">0980</text>
<text x="892.9" y="767.4">6417</text>
<text x="892.9" y="778.3">0619</text>
<text x="920.4" y="770.3">0583</text>
<text x="809.8" y="689.5">0483</text>
<text x="821.3" y="718.1">6638</text>
<text x="837.0" y="722.7">6924</text>
<text x="838.8" y="734.7">5121</text>
<text x="786.4" y="742.8">6935</text>
<text x="799.0" y="747.3">6912</text>
<text x="855.1" y="778.3">5543</text>
<text x="777.2" y="705.0">7415</text>
<text x="580.3" y="729.6">8830</text>
<text x="602.8" y="742.2">6891</text>
<text x="664.7" y="742.2">6517</text>
<text x="720.9" y="735.3">6749</text>
<text x="735.9" y="726.8">2511</text>
<text x="572.8" y="754.9">6594</text>
<text x="629.4" y="757.8">5722</text>
<text x="664.7" y="763.4">9310</text>
<text x="688.1" y="760.9">0911</text>
<text x="699.8" y="764.9">0461</text>
<text x="597.2" y="788.7">8946</text>
<text x="617.8" y="769.9">0482</text>
<text x="645.0" y="788.7">6992</text>
<text x="657.2" y="778.4">6745</text>
<text x="696.6" y="779.3">0722</text>
<text x="710.6" y="777.1">6211</text>
<text x="738.8" y="772.4">7283</text>
<text x="748.5" y="784.9">6744</text>
<text x="772.5" y="784.0">5334</text>
<text x="780.9" y="769.9">5922</text>
<text x="806.3" y="774.6">5834</text>
<text x="816.6" y="784.9">8931</text>
<text x="849.4" y="774.6">5542</text>
<text x="845.6" y="760.6">5543</text>
<text x="563.4" y="817.8">5154</text>
<text x="577.5" y="811.6">7411</text>
<text x="625.3" y="815.9">0230</text>
<text x="612.2" y="827.1">6851</text>
<text x="628.1" y="830.9">2482</text>
<text x="563.4" y="829.9">5114</text>
<text x="665.6" y="814.6">6596</text>
<text x="676.5" y="823.4">7410</text>
<text x="700.3" y="824.3">0016</text>
<text x="718.1" y="824.3">6792</text>
<text x="712.5" y="832.8">8737</text>
<text x="739.7" y="829.9">7720</text>
<text x="746.3" y="829.0">0730</text>
<text x="764.1" y="815.9">6842</text>
<text x="795.0" y="814.0">6428</text>
<text x="821.3" y="811.2">0484</text>
<text x="850.3" y="812.1">6251</text>
<text x="585.0" y="839.3">6782</text>
<text x="606.6" y="836.5">0245</text>
<text x="650.6" y="843.1">6282</text>
<text x="777.2" y="842.1">6564</text>
<text x="791.3" y="843.1">6424</text>
<text x="838.1" y="844.0">5530</text>
<text x="862.5" y="859.0">6783</text>
<text x="789.4" y="854.3">5417</text>
<text x="817.5" y="860.9">5419</text>
<text x="736.9" y="864.6">8932</text>
<text x="698.4" y="853.4">2239</text>
<text x="671.3" y="871.2">8941</text>
<text x="685.3" y="865.6">2471</text>
<text x="601.9" y="855.3">6595</text>
<text x="615.9" y="859.0">2734</text>
<text x="551.3" y="886.2">6647</text>
<text x="573.8" y="886.2">7239</text>
<text x="606.6" y="880.6">7224</text>
<text x="659.1" y="889.0">7444</text>
<text x="661.9" y="897.4">7219</text>
<text x="692.8" y="874.9">7213</text>
<text x="716.3" y="890.9">5393</text>
<text x="760.3" y="882.4">6236</text>
<text x="764.1" y="887.1">7211</text>
<text x="797.8" y="887.1">6973</text>
<text x="835.3" y="873.1">0223</text>
<text x="841.9" y="883.4">6359</text>
<text x="856.9" y="883.4">6962</text>
<text x="871.9" y="879.6">6251</text>
<text x="860.6" y="908.7">5416</text>
<text x="611.3" y="902.1">5163</text>
<text x="603.8" y="897.4">7364</text>
<text x="649.7" y="908.7">8951</text>
<text x="669.4" y="913.4">7449</text>
<text x="690.9" y="916.2">7412</text>
<text x="624.4" y="912.4">7861</text>
<text x="645.9" y="919.9">7413</text>
<text x="716.3" y="911.5">7212</text>
<text x="756.6" y="916.2">5821</text>
<text x="778.1" y="925.6">6785</text>
<text x="798.8" y="916.2">8927</text>
<text x="817.5" y="919.9">7422</text>
<text x="823.1" y="929.3">6571</text>
<text x="849.4" y="937.8">7731</text>
<text x="748.1" y="947.1">8211</text>
<text x="834.4" y="945.3">6519</text>
<text x="716.3" y="936.8">8121</text>
<text x="648.8" y="937.8">7281</text>
<text x="555.0" y="936.2">6822</text>
<text x="558.8" y="944.0">2786</text>
<text x="571.9" y="931.2">5148</text>
<text x="635.6" y="945.3">6418</text>
<text x="630.0" y="953.7">7436</text>
<text x="678.8" y="949.9">7371</text>
<text x="665.6" y="960.3">6824</text>
<text x="645.0" y="962.1">7259</text>
<text x="720.0" y="968.7">6940</text>
<text x="755.6" y="965.9">5820</text>
<text x="715.3" y="981.8">5240</text>
<text x="688.1" y="983.7">6997</text>
<text x="668.4" y="978.1">7372</text>
<text x="777.2" y="974.3">6652</text>
<text x="793.1" y="961.2">6351</text>
<text x="795.0" y="985.6">6646</text>
<text x="821.3" y="979.0">6330</text>
<text x="835.3" y="973.4">7931</text>
<text x="865.1" y="976.5">5413</text>
<text x="890.8" y="969.6">7163</text>
<text x="584.1" y="973.4">7499</text>
<text x="591.6" y="982.8">5983</text>
<text x="557.8" y="964.0">5852</text>
<text x="552.2" y="996.8">7431</text>
<text x="616.9" y="997.8">6954</text>
<text x="641.3" y="999.6">8102</text>
<text x="653.4" y="999.6">7442</text>
<text x="764.1" y="998.7">7758</text>
<text x="810.9" y="1006.2">8935</text>
<text x="858.8" y="1012.8">4239</text>
<text x="869.1" y="1020.3">2440</text>
<text x="879.4" y="994.0">5139</text>
<text x="681.6" y="1014.6">7129</text>
<text x="715.3" y="1015.6">7775</text>
<text x="731.3" y="1011.8">6289</text>
<text x="738.8" y="1027.8">7919</text>
<text x="613.1" y="1009.0">7269</text>
<text x="587.8" y="1015.6">7436</text>
<text x="551.3" y="1013.7">7929</text>
<text x="590.6" y="1025.9">5332</text>
<text x="638.4" y="1025.9">7429</text>
<text x="688.1" y="1031.5">7369</text>
<text x="807.2" y="1028.7">8994</text>
<text x="851.3" y="1038.1">2712</text>
<text x="871.9" y="1035.3">6664</text>
<text x="572.8" y="1040.9">6037</text>
<text x="642.2" y="1043.7">7493</text>
<text x="699.4" y="1044.6">6991</text>
<text x="671.3" y="1053.1">6784</text>
<text x="765.9" y="1046.5">7434</text>
<text x="806.3" y="1055.9">7367</text>
<text x="819.4" y="1054.0">7788</text>
<text x="650.6" y="1054.9">8930</text>
<text x="598.1" y="1059.6">7452</text>
<text x="615.0" y="1062.4">7423</text>
<text x="761.3" y="1059.6">7112</text>
<text x="811.9" y="1063.4">7649</text>
<text x="636.2" y="583.4">6535</text>
<text x="634.4" y="599.6">2479</text>
<text x="659.4" y="585.9">5254</text>
<text x="679.8" y="595.9">2488</text>
<text x="700.6" y="594.6">4116</text>
<text x="719.4" y="593.4">6413</text>
<text x="756.9" y="586.5">6554</text>
<text x="748.8" y="599.6">7245</text>
<text x="648.8" y="617.8">2481</text>
<text x="641.2" y="646.5">5221</text>
<text x="704.4" y="639.0">5232</text>
<text x="709.4" y="644.0">6536</text>
<text x="738.8" y="664.6">6553</text>
<text x="756.2" y="662.1">6423</text>
<text x="700.6" y="675.9">6342</text>
<text x="719.4" y="672.8">6349</text>
<text x="737.5" y="692.1">6341</text>
<text x="751.9" y="683.4">6530</text>
<text x="758.8" y="683.4">2450</text>
<text x="721.9" y="714.0">6579</text>
<text x="753.8" y="718.4">5231</text>
<text x="686.9" y="709.6">6727</text>
<text x="687.5" y="720.2">8928</text>
<text x="615.0" y="695.9">6746</text>
<text x="566.9" y="700.9">6724</text>
<text x="600.0" y="705.2">2784</text>
<text x="636.9" y="712.8">0723</text>
<text x="646.9" y="707.1">2351</text>
<text x="564.4" y="639.0">4244</text>
<text x="563.1" y="644.0">6747</text>
<text x="365.0" y="640.3">2672</text>
<text x="410.8" y="661.8">6592</text>
<text x="381.2" y="684.8">2512</text>
<text x="337.8" y="703.7">5981</text>
<text x="469.2" y="656.0">6725</text>
<text x="499.2" y="645.2">6712</text>
<text x="544.2" y="655.7">5239</text>
<text x="513.0" y="695.3">1122</text>
<text x="460.5" y="701.5">3415</text>
<text x="484.7" y="704.3">6593</text>
<text x="434.2" y="716.8">2772</text>
<text x="452.2" y="719.0">2616</text>
<text x="413.3" y="728.7">2517</text>
<text x="405.0" y="737.7">2871</text>
<text x="540.8" y="718.7">5721</text>
<text x="550.8" y="715.3">5851</text>
<text x="490.5" y="735.7">2881</text>
<text x="370.8" y="743.2">6863</text>
<text x="354.5" y="756.5">9610</text>
<text x="437.5" y="754.8">2876</text>
<text x="420.5" y="768.2">2874</text>
<text x="389.2" y="775.7">6899</text>
<text x="422.5" y="779.8">6411</text>
<text x="462.2" y="774.8">6821</text>
<text x="497.8" y="767.0">2873</text>
<text x="525.8" y="769.5">0430</text>
<text x="545.8" y="783.5">2875</text>
<text x="520.3" y="788.2">2518</text>
<text x="464.2" y="794.0">2877</text>
<text x="488.0" y="803.5">2733</text>
<text x="462.2" y="813.7">6861</text>
<text x="539.2" y="811.5">6811</text>
<text x="529.2" y="819.0">0452</text>
<text x="528.3" y="831.5">2732</text>
<text x="339.5" y="803.2">5122</text>
<text x="310.8" y="815.7">5147</text>
<text x="365.5" y="831.5">6831</text>
<text x="335.3" y="844.5">5982</text>
<text x="411.2" y="842.3">5145</text>
<text x="441.7" y="845.7">6832</text>
<text x="431.3" y="865.7">2331</text>
<text x="440.8" y="879.8">5233</text>
<text x="504.7" y="876.5">5223</text>
<text x="509.5" y="871.5">5312</text>
<text x="293.0" y="882.7">5835</text>
<text x="375.0" y="890.7">6641</text>
<text x="278.3" y="900.3">8981</text>
<text x="267.5" y="919.5">6514</text>
<text x="353.8" y="922.0">5823</text>
<text x="332.5" y="955.7">7928</text>
<text x="315.0" y="979.5">7922</text>
<text x="338.3" y="989.8">0582</text>
<text x="249.2" y="1028.2">5155</text>
<text x="315.5" y="1027.8">8983</text>
<text x="352.2" y="1045.3">6812</text>
<text x="249.5" y="1066.0">8813</text>
<text x="315.8" y="1064.5">5415</text>
<text x="283.0" y="1127.0">3222</text>
<text x="326.7" y="1124.8">5723</text>
<text x="354.5" y="1144.0">3221</text>
<text x="73.3" y="1146.5">2872</text>
<text x="131.7" y="1159.5">2816</text>
<text x="254.5" y="1159.3">0742</text>
<text x="302.8" y="1169.5">2460</text>
<text x="378.8" y="910.2">8982</text>
<text x="405.9" y="921.9">5224</text>
<text x="450.4" y="923.8">5138</text>
<text x="488.4" y="916.1">2785</text>
<text x="479.6" y="933.1">5331</text>
<text x="377.5" y="941.5">5137</text>
<text x="410.2" y="951.5">5169</text>
<text x="513.8" y="959.4">5311</text>
<text x="491.6" y="971.8">7267</text>
<text x="503.1" y="976.5">5162</text>
<text x="520.4" y="987.4">5829</text>
<text x="391.2" y="968.4">5123</text>
<text x="403.1" y="975.6">6649</text>
<text x="411.6" y="990.9">6253</text>
<text x="419.4" y="998.4">5113</text>
<text x="454.0" y="1011.5">7521</text>
<text x="498.1" y="1017.4">6999</text>
<text x="524.4" y="1003.4">7263</text>
<text x="528.1" y="1014.6">6573</text>
<text x="421.0" y="1020.2">6572</text>
<text x="402.9" y="1044.0">5156</text>
<text x="432.1" y="1028.4">5249</text>
<text x="489.8" y="1037.1">7284</text>
<text x="541.0" y="1037.1">5824</text>
<text x="505.2" y="1046.5">8959</text>
<text x="556.9" y="1045.9">5989</text>
<text x="456.9" y="1061.9">5514</text>
<text x="425.4" y="1066.5">8852</text>
<text x="363.4" y="1077.4">5157</text>
<text x="431.6" y="1080.0">7264</text>
<text x="469.4" y="1082.8">5146</text>
<text x="528.5" y="1072.1">8743</text>
<text x="498.5" y="1087.8">5839</text>
<text x="536.6" y="1097.8">6591</text>
<text x="495.6" y="1105.2">7149</text>
<text x="372.1" y="1106.1">7251</text>
<text x="400.2" y="1112.4">5414</text>
<text x="575.0" y="1071.5">8720</text>
<text x="90.0" y="1194.3">2741</text>
<text x="173.3" y="1187.3">6713</text>
<text x="250.5" y="1192.0">2815</text>
<text x="230.5" y="1229.8">2814</text>
<text x="195.0" y="1267.0">2742</text>
<text x="452.0" y="1133.2">3231</text>
<text x="407.0" y="1164.8">6852</text>
<text x="430.5" y="1182.7">3223</text>
<text x="471.2" y="1192.8">3224</text>
<text x="503.3" y="1183.2">7914</text>
<text x="405.0" y="1214.8">2651</text>
<text x="442.8" y="1229.0">3353</text>
<text x="439.5" y="1245.7">2120</text>
<text x="387.5" y="1266.5">3232</text>
<text x="514.7" y="1232.7">0113</text>
<text x="471.7" y="1275.7">0013</text>
<text x="527.5" y="1194.8">7741</text>
<text x="533.3" y="1127.8">8745</text>
<text x="531.2" y="1149.8">2234</text>
<text x="554.7" y="1164.5">0121</text>
<text x="514.7" y="1124.0">8744</text>
<text x="570.8" y="1122.7">4311</text>
<text x="580.0" y="1133.7">8748</text>
<text x="578.8" y="1156.0">7753</text>
<text x="579.2" y="1183.2">7187</text>
<text x="590.0" y="1188.2">8749</text>
<text x="583.0" y="1222.3">6412</text>
<text x="573.8" y="1251.5">7832</text>
<text x="613.0" y="1231.8">7751</text>
<text x="623.3" y="1252.3">7133</text>
<text x="643.3" y="1250.3">7841</text>
<text x="637.2" y="1202.3">8996</text>
<text x="631.7" y="1179.8">7821</text>
<text x="607.5" y="1172.3">8989</text>
<text x="616.2" y="1154.0">6647</text>
<text x="605.0" y="1106.5">7810</text>
<text x="611.7" y="1119.8">7913</text>
<text x="631.8" y="1113.0">7754</text>
<text x="541.7" y="1307.3">0115</text>
<text x="485.0" y="1323.2">0015</text>
<text x="493.7" y="1344.0">0116</text>
<text x="437.5" y="1364.8">0141</text>
<text x="485.0" y="1384.0">2222</text>
<text x="556.7" y="1348.2">7912</text>
<text x="556.3" y="1378.2">6623</text>
<text x="642.8" y="1309.0">5241</text>
<text x="635.3" y="1352.3">2860</text>
<text x="688.0" y="1307.3">3414</text>
<text x="710.0" y="1334.0">6671</text>
<text x="746.7" y="1327.8">8973</text>
<text x="786.2" y="1346.2">5411</text>
<text x="823.3" y="1349.0">8710</text>
<text x="847.0" y="1353.7">6672</text>
<text x="872.2" y="1337.3">8821</text>
<text x="898.3" y="1330.2">8822</text>
<text x="930.8" y="1373.2">7851</text>
<text x="841.3" y="1317.0">5161</text>
<text x="796.7" y="1385.7">7522</text>
<text x="812.0" y="1449.3">7768</text>
<text x="822.5" y="1512.3">7764</text>
<text x="873.3" y="1552.0">7763</text>
<text x="820.5" y="1586.5">7525</text>
<text x="830.8" y="1609.7">7524</text>
<text x="871.5" y="1623.3">7762</text>
<text x="745.8" y="1632.8">8732</text>
<text x="772.1" y="1633.6">7591</text>
<text x="805.6" y="1650.9">7599</text>
<text x="922.4" y="1639.5">7638</text>
<text x="1004.7" y="1659.3">7628</text>
<text x="1046.7" y="1691.5">8942</text>
<text x="960.8" y="1672.8">6871</text>
<text x="1005.5" y="1701.8">2714</text>
<text x="962.7" y="1707.8">0913</text>
<text x="870.9" y="1703.2">8811</text>
<text x="909.9" y="1711.3">7621</text>
<text x="912.9" y="1760.0">7622</text>
<text x="704.4" y="1686.9">7518</text>
<text x="666.2" y="1743.0">5827</text>
<text x="603.9" y="1777.1">5843</text>
<text x="675.9" y="1778.5">6741</text>
<text x="671.0" y="1820.2">7433</text>
<text x="657.0" y="1858.4">6750</text>
<text x="670.7" y="1268.5">6880</text>
<text x="695.5" y="1238.7">9110</text>
<text x="714.4" y="1245.5">2226</text>
<text x="685.6" y="1204.8">7132</text>
<text x="706.6" y="1189.3">7911</text>
<text x="663.2" y="1186.6">7138</text>
<text x="673.1" y="1172.3">7421</text>
<text x="692.8" y="1165.3">5838</text>
<text x="647.4" y="1166.2">7611</text>
<text x="721.6" y="1146.6">2519</text>
<text x="724.9" y="1163.5">7169</text>
<text x="743.5" y="1129.0">7641</text>
<text x="755.7" y="1153.0">6121</text>
<text x="740.8" y="1106.0">7761</text>
<text x="743.5" y="1090.4">7721</text>
<text x="755.1" y="1082.3">6760</text>
<text x="724.6" y="1084.3">6129</text>
<text x="705.6" y="1096.5">6994</text>
<text x="692.8" y="1125.6">7451</text>
<text x="658.2" y="1124.9">5836</text>
<text x="673.8" y="1113.8">7849</text>
<text x="675.8" y="1120.9">7362</text>
<text x="669.1" y="1102.6">7796</text>
<text x="656.2" y="1101.2">8742</text>
<text x="606.1" y="1092.4">7782</text>
<text x="645.4" y="1087.0">7492</text>
<text x="627.1" y="1068.7">7742</text>
<text x="799.1" y="1098.5">7923</text>
<text x="805.8" y="1129.7">7742</text>
<text x="820.5" y="1134.0">5112</text>
<text x="856.6" y="1127.6">7642</text>
<text x="849.2" y="1164.5">7921</text>
<text x="772.7" y="1163.5">6673</text>
<text x="784.2" y="1162.9">6748</text>
<text x="793.6" y="1172.3">5826</text>
<text x="767.9" y="1182.5">2671</text>
<text x="785.9" y="1215.7">2332</text>
<text x="772.7" y="1224.2">7528</text>
<text x="805.2" y="1241.4">6642</text>
<text x="829.5" y="1230.8">7246</text>
<text x="845.8" y="1240.0">5833</text>
<text x="750.7" y="1275.9">8851</text>
<text x="807.2" y="1296.9">2771</text>
<text x="820.5" y="1293.5">7523</text>
<text x="856.6" y="1280.0">2652</text>
<text x="899.8" y="919.3">5913</text>
<text x="922.4" y="940.2">0111</text>
<text x="929.7" y="952.9">8960</text>
<text x="947.9" y="927.8">4313</text>
<text x="956.7" y="944.1">5849</text>
<text x="903.9" y="982.0">6978</text>
<text x="926.0" y="974.7">7852</text>
<text x="974.2" y="976.2">6673</text>
<text x="1002.6" y="972.5">4245</text>
<text x="1046.8" y="969.6">2666</text>
<text x="1004.1" y="1001.0">0412</text>
<text x="992.8" y="1006.1">0149</text>
<text x="1042.4" y="1011.9">0813</text>
<text x="1046.8" y="1041.1">3510</text>
<text x="1075.5" y="1038.5">0011</text>
<text x="1060.9" y="1064.4">0411</text>
<text x="989.8" y="1035.3">7853</text>
<text x="980.7" y="1062.7">8812</text>
<text x="981.2" y="1076.1">8741</text>
<text x="973.9" y="1080.2">0574</text>
<text x="936.7" y="1061.2">9510</text>
<text x="911.5" y="1008.3">7428</text>
<text x="899.8" y="1012.6">8483</text>
<text x="906.1" y="1086.7">5623</text>
<text x="936.0" y="1090.4">8484</text>
<text x="932.6" y="1106.7">6665</text>
<text x="867.4" y="1091.4">7512</text>
<text x="886.4" y="1099.4">6674</text>
<text x="877.2" y="1121.3">7792</text>
<text x="894.4" y="1122.8">7643</text>
<text x="898.3" y="1134.4">7268</text>
<text x="880.8" y="1137.3">7723</text>
<text x="915.8" y="1179.6">8482</text>
<text x="996.3" y="1157.8">8310</text>
<text x="986.3" y="1171.6">6666</text>
<text x="1042.7" y="1126.4">1124</text>
<text x="1056.9" y="1154.1">0575</text>
<text x="894.7" y="905.5">6577</text>
<text x="918.0" y="906.9">7831</text>
<text x="1032.0" y="1203.2">8933</text>
<text x="1011.7" y="1230.1">8999</text>
<text x="1065.9" y="1243.0">0129</text>
<text x="1123.8" y="1194.0">0544</text>
<text x="1098.0" y="1214.5">0576</text>
<text x="883.6" y="1287.3">7244</text>
<text x="864.2" y="1196.1">5111</text>
<text x="846.2" y="785.6">1062</text>
<text x="876.9" y="787.8">6618</text>
<text x="902.4" y="799.4">7752</text>
<text x="851.4" y="800.9">6996</text>
<text x="685.0" y="889.0">6631</text>
<text x="729.2" y="885.7">6313</text>
<text x="738.3" y="891.5">6232</text>
<text x="676.7" y="906.1">6647</text>
<text x="727.5" y="927.3">8219</text>
<text x="686.7" y="930.7">6635</text>
<text x="747.5" y="938.2">5825</text>
<text x="568.3" y="1061.5">7373</text>
</g>
<g font-size="24.5" fill="#000">
<text x="1636.5" y="841" font-size="29.5">size</text>
<circle cx="1659.3" cy="881.9" r="12.6" fill="#000"/>
<circle cx="1659.3" cy="928.1" r="16.2" fill="#000"/>
<circle cx="1659.3" cy="974" r="18.75" fill="#000"/>
<text x="1697.5" y="891" font-size="23.3">5.0e+09</text>
<text x="1697.5" y="937" font-size="23.3">1.0e+10</text>
<text x="1697.5" y="983" font-size="23.3">1.5e+10</text>
<text x="1636.5" y="1041" font-size="29.5">color</text>
<circle cx="1659.3" cy="1081.8" r="6.2" fill="#f6c500"/>
<circle cx="1659.3" cy="1128.1" r="6.2" fill="#002748"/>
<text x="1697.5" y="1090.6" font-size="23.6">8421, 7412 and 8434</text>
<text x="1697.5" y="1136.6" font-size="23.7">Rest of the Products</text>
</g>
</svg>
</body></html>
